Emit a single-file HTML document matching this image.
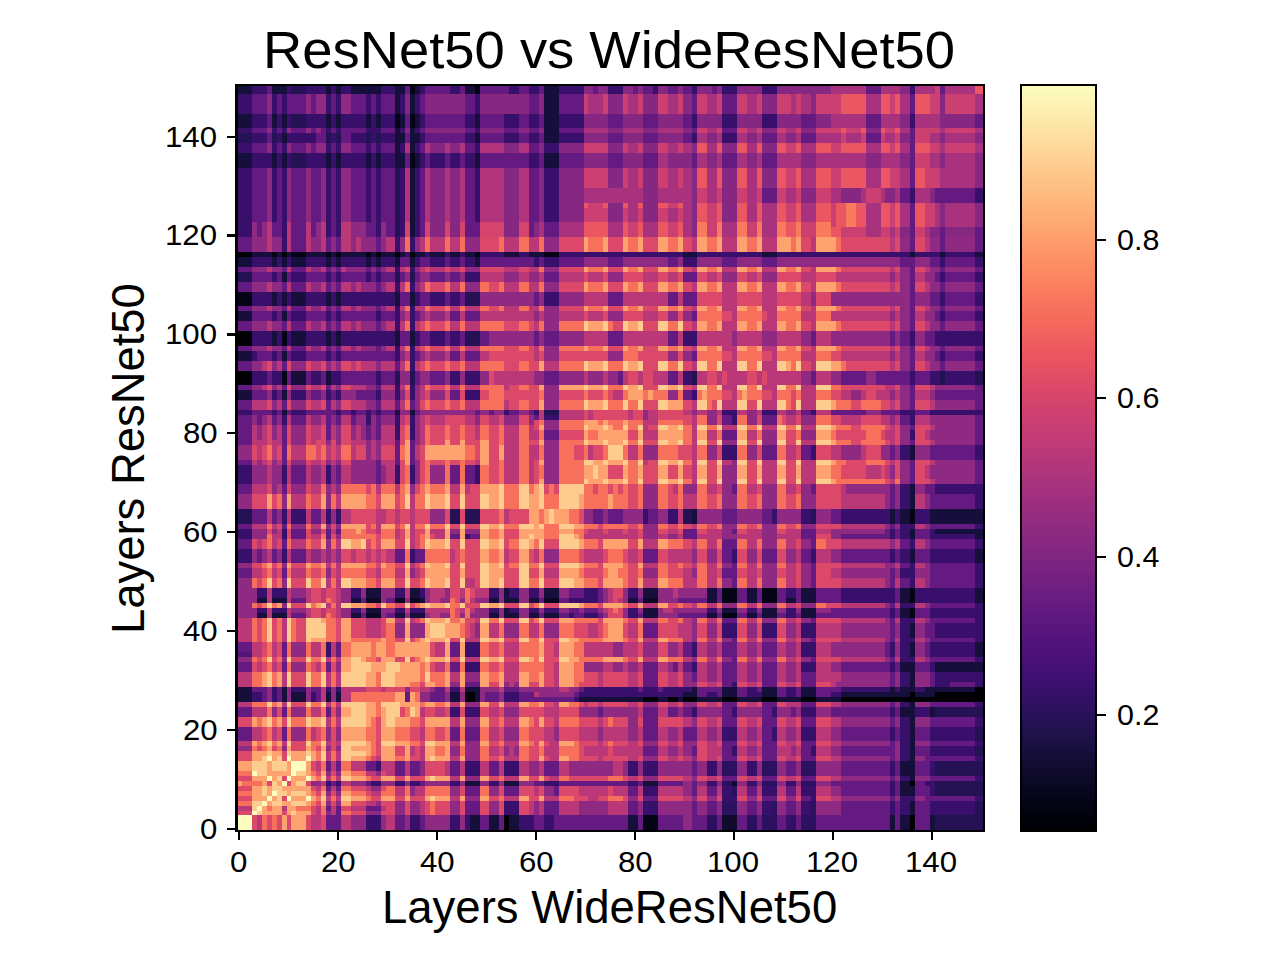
<!DOCTYPE html><html><head><meta charset="utf-8"><style>
html,body{margin:0;padding:0;background:#fff;}
body{width:1280px;height:960px;position:relative;overflow:hidden;font-family:"Liberation Sans",sans-serif;color:#000;}
.t{position:absolute;white-space:nowrap;line-height:1;}
.heat{position:absolute;display:block;}
.k{position:absolute;background:#000;}
</style></head><body><div style="position:absolute;left:236.50px;top:84.30px;width:747.50px;height:746.30px;overflow:hidden"><svg class="heat" style="left:0;top:0;width:747.50px;height:746.30px" viewBox="0 0 151 151" preserveAspectRatio="none" shape-rendering="crispEdges"><g stroke-width="1" fill="none"><path stroke="#000004" d="M54 150.5h1M136 150.5h1M54 149.5h1M136 149.5h1M54 148.5h1M136 148.5h1M136 141.5h1M46 124.5h2M82 124.5h3M87 124.5h2M90 124.5h3M98 124.5h3M106 124.5h3M114 124.5h3M122 124.5h29M46 123.5h2M136 123.5h1M141 123.5h10M149 122.5h2M0 60.5h3M0 59.5h3M0 58.5h3M0 52.5h3M0 51.5h3M0 50.5h3M0 34.5h3M9 34.5h1M32 34.5h1M35 34.5h1"/><path stroke="#050416" d="M82 150.5h3M82 149.5h3M82 148.5h3M98 107.5h3M136 107.5h1M136 106.5h1M98 104.5h3M106 104.5h3M136 104.5h1M98 103.5h3M106 103.5h3M136 103.5h1M98 102.5h3M106 102.5h3M136 102.5h1M136 88.5h1M136 87.5h1M136 86.5h1M9 60.5h1M9 59.5h1M9 58.5h1M9 52.5h1M9 51.5h1M9 50.5h1M0 44.5h3M0 43.5h3M0 42.5h3M7 34.5h1M11 34.5h3M18 34.5h1M20 34.5h1M26 34.5h1M28 34.5h1M48 34.5h1M62 34.5h3M35 16.5h1M35 15.5h1M35 14.5h1M32 8.5h1M35 8.5h1M32 7.5h1M35 7.5h1M32 6.5h1M35 6.5h1M35 1.5h1M48 1.5h1M35 0.5h1M48 0.5h1"/><path stroke="#0a0822" d="M26 107.5h3M26 104.5h3M32 104.5h2M35 104.5h2M62 104.5h3M82 104.5h3"/><path stroke="#100b2d" d="M98 150.5h3M98 149.5h3M98 148.5h3M100 141.5h1"/><path stroke="#160f3b" d="M47 150.5h2M51 150.5h2M55 150.5h2M79 150.5h2M132 150.5h1M134 150.5h2M140 150.5h1M47 149.5h2M51 149.5h2M55 149.5h2M79 149.5h2M132 149.5h1M134 149.5h2M140 149.5h1M47 148.5h2M51 148.5h2M55 148.5h2M79 148.5h2M132 148.5h1M134 148.5h2M140 148.5h1M136 147.5h1M136 146.5h1M136 145.5h1M134 143.5h3M134 142.5h3M46 141.5h3M54 141.5h3M82 141.5h3M134 141.5h2M136 140.5h1M134 139.5h3M134 138.5h3M134 137.5h3M136 136.5h1M136 135.5h1M136 134.5h1M136 133.5h1M136 132.5h1M136 131.5h1M136 130.5h1M136 129.5h1M136 128.5h1M134 127.5h3M140 127.5h1M134 126.5h3M140 126.5h1M136 125.5h1M0 124.5h3M9 124.5h1M11 124.5h3M18 124.5h1M20 124.5h1M43 124.5h2M48 124.5h1M69 124.5h13M85 124.5h2M89 124.5h1M93 124.5h5M101 124.5h5M109 124.5h5M117 124.5h5M0 123.5h3M9 123.5h1M11 123.5h3M18 123.5h1M20 123.5h1M43 123.5h2M48 123.5h1M90 123.5h3M98 123.5h3M106 123.5h3M114 123.5h3M122 123.5h14M137 123.5h4M0 122.5h3M9 122.5h1M46 122.5h3M92 122.5h1M98 122.5h3M106 122.5h3M114 122.5h3M132 122.5h1M134 122.5h3M139 122.5h10M136 121.5h1M136 120.5h1M136 119.5h1M134 118.5h3M141 118.5h10M134 117.5h3M141 117.5h10M136 115.5h1M149 115.5h2M136 114.5h1M149 114.5h2M136 113.5h1M149 113.5h2M136 111.5h1M136 110.5h1M136 109.5h1M4 107.5h2M7 107.5h3M23 107.5h2M32 107.5h2M35 107.5h3M51 107.5h2M54 107.5h3M59 107.5h2M62 107.5h3M82 107.5h3M95 107.5h2M103 107.5h2M106 107.5h3M114 107.5h3M134 107.5h2M26 106.5h3M54 106.5h1M82 106.5h3M98 106.5h3M106 106.5h3M114 106.5h3M134 106.5h2M4 104.5h2M7 104.5h3M23 104.5h2M37 104.5h1M51 104.5h2M54 104.5h3M59 104.5h2M79 104.5h2M95 104.5h2M103 104.5h2M111 104.5h2M114 104.5h3M134 104.5h2M149 104.5h2M26 103.5h3M35 103.5h2M54 103.5h1M62 103.5h3M82 103.5h3M95 103.5h2M103 103.5h2M114 103.5h3M134 103.5h2M149 103.5h2M26 102.5h3M35 102.5h2M54 102.5h1M62 102.5h3M82 102.5h3M95 102.5h2M103 102.5h2M114 102.5h3M134 102.5h2M149 102.5h2M136 96.5h1M149 96.5h2M136 95.5h1M149 95.5h2M136 94.5h1M149 94.5h2M136 91.5h1M149 91.5h2M136 90.5h1M141 90.5h10M92 88.5h1M132 88.5h1M134 88.5h2M140 88.5h11M92 87.5h1M132 87.5h1M134 87.5h2M140 87.5h11M92 86.5h1M132 86.5h1M134 86.5h2M140 86.5h11M136 85.5h1M136 84.5h1M136 83.5h1M136 82.5h1M136 81.5h1M136 75.5h1M136 74.5h1M136 73.5h1M9 66.5h1M32 66.5h1M35 66.5h1M0 63.5h3M9 63.5h1M0 62.5h3M9 62.5h1M11 60.5h3M18 60.5h1M11 59.5h3M18 59.5h1M11 58.5h3M18 58.5h1M0 55.5h3M9 55.5h1M0 54.5h3M9 54.5h1M7 52.5h1M11 52.5h3M18 52.5h1M20 52.5h1M32 52.5h1M35 52.5h1M7 51.5h1M11 51.5h3M18 51.5h1M20 51.5h1M32 51.5h1M35 51.5h1M7 50.5h1M11 50.5h3M18 50.5h1M20 50.5h1M32 50.5h1M35 50.5h1M0 47.5h3M9 47.5h1M0 46.5h3M9 46.5h1M7 44.5h1M9 44.5h1M11 44.5h3M18 44.5h1M20 44.5h1M32 44.5h1M35 44.5h1M7 43.5h1M9 43.5h1M11 43.5h3M18 43.5h1M20 43.5h1M32 43.5h1M35 43.5h1M7 42.5h1M9 42.5h1M11 42.5h3M18 42.5h1M20 42.5h1M32 42.5h1M35 42.5h1M9 39.5h1M9 38.5h1M0 36.5h3M7 36.5h1M9 36.5h1M11 36.5h3M18 36.5h1M20 36.5h1M26 36.5h1M28 36.5h1M32 36.5h1M35 36.5h1M48 36.5h1M0 35.5h3M7 35.5h1M9 35.5h1M11 35.5h3M18 35.5h1M20 35.5h1M26 35.5h1M28 35.5h1M32 35.5h1M35 35.5h1M48 35.5h1M3 34.5h4M8 34.5h1M10 34.5h1M14 34.5h4M19 34.5h1M21 34.5h5M27 34.5h1M29 34.5h3M33 34.5h1M36 34.5h2M39 34.5h3M43 34.5h2M46 34.5h2M54 34.5h3M59 34.5h3M90 34.5h3M106 34.5h3M136 34.5h1M142 34.5h1M149 34.5h2M35 30.5h1M35 29.5h1M35 28.5h1M35 27.5h1M35 26.5h1M35 25.5h1M35 24.5h1M35 23.5h1M35 22.5h1M35 21.5h1M35 20.5h1M35 19.5h1M35 18.5h1M35 17.5h1M0 16.5h3M7 16.5h1M9 16.5h1M18 16.5h1M20 16.5h1M26 16.5h1M28 16.5h1M32 16.5h2M36 16.5h1M48 16.5h1M62 16.5h3M0 15.5h3M7 15.5h1M9 15.5h1M18 15.5h1M20 15.5h1M26 15.5h1M28 15.5h1M32 15.5h2M36 15.5h1M48 15.5h1M62 15.5h3M0 14.5h3M7 14.5h1M9 14.5h1M18 14.5h1M20 14.5h1M26 14.5h1M28 14.5h1M32 14.5h2M36 14.5h1M48 14.5h1M62 14.5h3M32 13.5h1M35 13.5h1M32 12.5h1M35 12.5h1M9 11.5h1M32 11.5h2M35 11.5h2M48 11.5h1M62 11.5h3M9 10.5h1M32 10.5h2M35 10.5h2M48 10.5h1M62 10.5h3M32 9.5h1M35 9.5h1M62 9.5h3M0 8.5h3M7 8.5h1M9 8.5h1M18 8.5h1M20 8.5h1M26 8.5h1M28 8.5h1M33 8.5h1M36 8.5h1M48 8.5h1M62 8.5h3M0 7.5h3M7 7.5h1M9 7.5h1M18 7.5h1M20 7.5h1M26 7.5h1M28 7.5h1M33 7.5h1M36 7.5h1M48 7.5h1M62 7.5h3M0 6.5h3M7 6.5h1M9 6.5h1M18 6.5h1M20 6.5h1M26 6.5h1M28 6.5h1M33 6.5h1M36 6.5h1M48 6.5h1M62 6.5h3M32 5.5h1M35 5.5h1M62 5.5h3M32 4.5h1M35 4.5h1M62 4.5h3M32 3.5h1M35 3.5h1M62 3.5h3M32 2.5h1M35 2.5h1M62 2.5h3M0 1.5h3M7 1.5h3M18 1.5h1M20 1.5h1M23 1.5h6M32 1.5h2M36 1.5h1M46 1.5h2M62 1.5h3M0 0.5h3M7 0.5h3M18 0.5h1M20 0.5h1M23 0.5h6M32 0.5h2M36 0.5h1M46 0.5h2M62 0.5h3"/><path stroke="#251255" d="M141 150.5h10M141 149.5h10M141 148.5h10M149 147.5h2M149 146.5h2M149 145.5h2M141 143.5h10M141 142.5h10M141 141.5h10M141 139.5h10M141 138.5h10M141 137.5h10M149 135.5h2M149 134.5h2M149 132.5h2M149 131.5h2M149 130.5h2M141 127.5h10M141 126.5h10M0 88.5h3M43 88.5h2M46 88.5h3M90 88.5h2M116 88.5h1M0 87.5h3M43 87.5h2M46 87.5h3M90 87.5h2M116 87.5h1M0 86.5h3M43 86.5h2M46 86.5h3M90 86.5h2M116 86.5h1M62 66.5h3M32 60.5h1M35 60.5h1M92 60.5h1M142 60.5h1M149 60.5h2M32 59.5h1M35 59.5h1M92 59.5h1M142 59.5h1M149 59.5h2M32 58.5h1M35 58.5h1M92 58.5h1M142 58.5h1M149 58.5h2M46 52.5h3M46 51.5h3M46 50.5h3M46 44.5h3M46 43.5h3M46 42.5h3M0 39.5h3M32 39.5h1M35 39.5h1M0 38.5h3M32 38.5h1M35 38.5h1M32 30.5h1M32 29.5h1M32 28.5h1M32 27.5h1M32 26.5h1M32 25.5h1M32 24.5h1M32 23.5h1M32 22.5h1M32 21.5h1M32 20.5h1M32 19.5h1M32 18.5h1M32 17.5h1M11 16.5h3M11 15.5h3M11 14.5h3M0 11.5h3M7 11.5h1M18 11.5h1M20 11.5h1M26 11.5h1M28 11.5h1M0 10.5h3M7 10.5h1M18 10.5h1M20 10.5h1M26 10.5h1M28 10.5h1M11 8.5h3M11 7.5h3M11 6.5h3M11 1.5h3M11 0.5h3"/><path stroke="#2d1161" d="M95 150.5h2M103 150.5h2M106 150.5h3M112 150.5h1M114 150.5h3M95 149.5h2M103 149.5h2M106 149.5h3M112 149.5h1M114 149.5h3M95 148.5h2M103 148.5h2M106 148.5h3M112 148.5h1M114 148.5h3M98 147.5h3M108 147.5h1M116 147.5h1M98 146.5h3M108 146.5h1M116 146.5h1M98 145.5h3M108 145.5h1M116 145.5h1M100 143.5h1M100 142.5h1M98 141.5h2M106 141.5h3M114 141.5h3M98 139.5h3M106 139.5h3M114 139.5h3M98 138.5h3M106 138.5h3M114 138.5h3M98 137.5h3M106 137.5h3M114 137.5h3"/><path stroke="#38106c" d="M26 150.5h3M35 150.5h2M43 150.5h2M46 150.5h1M57 150.5h3M62 150.5h2M111 150.5h1M26 149.5h3M35 149.5h2M43 149.5h2M46 149.5h1M57 149.5h3M62 149.5h2M111 149.5h1M26 148.5h3M35 148.5h2M43 148.5h2M46 148.5h1M57 148.5h3M62 148.5h2M111 148.5h1M54 147.5h3M82 147.5h3M106 147.5h2M114 147.5h2M132 147.5h1M134 147.5h2M140 147.5h9M54 146.5h3M82 146.5h3M106 146.5h2M114 146.5h2M132 146.5h1M134 146.5h2M140 146.5h9M54 145.5h3M82 145.5h3M106 145.5h2M114 145.5h2M132 145.5h1M134 145.5h2M140 145.5h9M98 144.5h3M116 144.5h1M134 144.5h3M149 144.5h2M82 143.5h3M98 143.5h2M106 143.5h3M114 143.5h3M132 143.5h1M140 143.5h1M82 142.5h3M98 142.5h2M106 142.5h3M114 142.5h3M132 142.5h1M140 142.5h1M18 141.5h1M20 141.5h1M27 141.5h2M32 141.5h2M35 141.5h2M43 141.5h2M51 141.5h2M62 141.5h3M79 141.5h2M95 141.5h2M103 141.5h2M111 141.5h2M132 141.5h1M139 141.5h2M134 140.5h2M149 140.5h2M46 139.5h3M54 139.5h3M79 139.5h2M82 139.5h3M95 139.5h2M103 139.5h2M132 139.5h1M140 139.5h1M28 138.5h1M46 138.5h3M54 138.5h3M79 138.5h2M82 138.5h3M95 138.5h2M103 138.5h2M132 138.5h1M140 138.5h1M28 137.5h1M46 137.5h3M54 137.5h3M79 137.5h2M82 137.5h3M95 137.5h2M103 137.5h2M132 137.5h1M140 137.5h1M134 136.5h2M149 136.5h2M100 135.5h1M116 135.5h1M134 135.5h2M140 135.5h9M100 134.5h1M116 134.5h1M134 134.5h2M140 134.5h9M134 133.5h2M149 133.5h2M98 132.5h3M108 132.5h1M114 132.5h3M132 132.5h1M134 132.5h2M140 132.5h9M98 131.5h3M108 131.5h1M114 131.5h3M132 131.5h1M134 131.5h2M140 131.5h9M98 130.5h3M108 130.5h1M114 130.5h3M132 130.5h1M134 130.5h2M140 130.5h9M134 129.5h2M149 129.5h2M134 128.5h2M149 128.5h2M43 127.5h2M46 127.5h3M92 127.5h1M100 127.5h1M108 127.5h1M114 127.5h3M132 127.5h1M137 127.5h3M43 126.5h2M46 126.5h3M92 126.5h1M100 126.5h1M108 126.5h1M114 126.5h3M132 126.5h1M137 126.5h3M134 125.5h2M149 125.5h2M3 124.5h2M7 124.5h1M15 124.5h1M54 124.5h3M68 124.5h1M3 123.5h2M7 123.5h1M15 123.5h1M54 123.5h3M69 123.5h21M95 123.5h2M103 123.5h3M111 123.5h2M120 123.5h2M7 122.5h1M11 122.5h3M18 122.5h1M20 122.5h1M43 122.5h2M70 122.5h11M82 122.5h3M86 122.5h6M103 122.5h2M111 122.5h2M122 122.5h10M133 122.5h1M137 122.5h2M100 121.5h1M134 121.5h2M141 121.5h3M149 121.5h2M134 120.5h2M141 120.5h10M134 119.5h2M141 119.5h10M46 118.5h3M92 118.5h1M114 118.5h3M132 118.5h1M140 118.5h1M46 117.5h3M92 117.5h1M114 117.5h3M132 117.5h1M140 117.5h1M134 116.5h3M149 116.5h2M18 115.5h1M46 115.5h3M92 115.5h1M114 115.5h3M132 115.5h1M134 115.5h2M140 115.5h9M18 114.5h1M46 114.5h3M92 114.5h1M114 114.5h3M132 114.5h1M134 114.5h2M140 114.5h9M18 113.5h1M46 113.5h3M92 113.5h1M114 113.5h3M132 113.5h1M134 113.5h2M140 113.5h9M134 112.5h3M149 112.5h2M98 111.5h3M106 111.5h3M114 111.5h3M134 111.5h2M141 111.5h10M98 110.5h3M106 110.5h3M114 110.5h3M134 110.5h2M141 110.5h10M98 109.5h3M106 109.5h3M114 109.5h3M134 109.5h2M141 109.5h10M134 108.5h3M149 108.5h2M67 107.5h1M70 107.5h3M79 107.5h2M111 107.5h2M132 107.5h1M140 107.5h11M4 106.5h2M7 106.5h3M23 106.5h2M32 106.5h2M35 106.5h3M51 106.5h2M55 106.5h2M59 106.5h2M62 106.5h3M79 106.5h2M95 106.5h2M103 106.5h2M111 106.5h2M132 106.5h1M140 106.5h11M134 105.5h3M149 105.5h2M67 104.5h6M122 104.5h11M137 104.5h12M4 103.5h2M7 103.5h3M23 103.5h2M32 103.5h2M37 103.5h1M51 103.5h2M55 103.5h2M59 103.5h2M70 103.5h3M79 103.5h2M111 103.5h2M122 103.5h11M137 103.5h12M4 102.5h2M7 102.5h3M23 102.5h2M32 102.5h2M37 102.5h1M51 102.5h2M55 102.5h2M59 102.5h2M70 102.5h3M79 102.5h2M111 102.5h2M122 102.5h11M137 102.5h12M136 101.5h1M149 101.5h2M136 100.5h1M149 100.5h2M134 99.5h3M149 99.5h2M134 98.5h3M149 98.5h2M136 97.5h1M149 97.5h2M0 96.5h3M9 96.5h1M35 96.5h1M100 96.5h1M116 96.5h1M132 96.5h1M134 96.5h2M140 96.5h9M0 95.5h3M9 95.5h1M35 95.5h1M100 95.5h1M116 95.5h1M132 95.5h1M134 95.5h2M140 95.5h9M0 94.5h3M9 94.5h1M35 94.5h1M100 94.5h1M116 94.5h1M132 94.5h1M134 94.5h2M140 94.5h9M136 93.5h1M149 93.5h2M136 92.5h1M149 92.5h2M0 91.5h3M9 91.5h1M46 91.5h1M132 91.5h1M134 91.5h2M140 91.5h9M0 90.5h3M9 90.5h1M132 90.5h1M134 90.5h2M140 90.5h1M134 89.5h3M149 89.5h2M9 88.5h1M11 88.5h3M18 88.5h1M20 88.5h1M82 88.5h1M87 88.5h2M108 88.5h1M114 88.5h2M122 88.5h10M133 88.5h1M137 88.5h3M9 87.5h1M11 87.5h3M18 87.5h1M20 87.5h1M82 87.5h1M87 87.5h2M108 87.5h1M114 87.5h2M122 87.5h10M133 87.5h1M137 87.5h3M9 86.5h1M11 86.5h3M18 86.5h1M20 86.5h1M82 86.5h1M87 86.5h2M108 86.5h1M114 86.5h2M122 86.5h10M133 86.5h1M137 86.5h3M134 85.5h2M149 85.5h2M134 84.5h2M149 84.5h2M134 83.5h2M149 83.5h2M134 82.5h2M141 82.5h10M134 81.5h2M141 81.5h10M0 80.5h3M9 80.5h1M18 80.5h1M32 80.5h1M35 80.5h1M48 80.5h1M0 79.5h3M9 79.5h1M18 79.5h1M32 79.5h1M35 79.5h1M48 79.5h1M0 78.5h3M9 78.5h1M18 78.5h1M32 78.5h1M35 78.5h1M48 78.5h1M0 77.5h3M9 77.5h1M18 77.5h1M32 77.5h1M35 77.5h1M48 77.5h1M98 75.5h3M116 75.5h1M134 75.5h2M149 75.5h2M98 74.5h3M116 74.5h1M134 74.5h2M149 74.5h2M98 73.5h3M116 73.5h1M134 73.5h2M149 73.5h2M32 71.5h1M35 71.5h1M136 71.5h1M32 70.5h1M35 70.5h1M136 70.5h1M32 69.5h1M35 69.5h1M9 68.5h1M26 68.5h1M32 68.5h1M35 68.5h1M100 68.5h1M136 68.5h1M9 67.5h1M26 67.5h1M32 67.5h1M35 67.5h1M62 67.5h3M100 67.5h1M136 67.5h1M0 66.5h3M7 66.5h1M11 66.5h3M20 66.5h1M23 66.5h1M26 66.5h1M28 66.5h1M54 66.5h1M60 66.5h1M98 66.5h3M106 66.5h3M116 66.5h1M134 66.5h3M140 66.5h11M7 63.5h1M11 63.5h3M18 63.5h1M20 63.5h1M28 63.5h1M32 63.5h1M35 63.5h1M46 63.5h3M92 63.5h1M7 62.5h1M11 62.5h3M18 62.5h1M20 62.5h1M28 62.5h1M32 62.5h1M35 62.5h1M46 62.5h3M92 62.5h1M32 61.5h1M35 61.5h1M3 60.5h3M7 60.5h2M15 60.5h2M19 60.5h2M28 60.5h1M43 60.5h2M46 60.5h3M90 60.5h2M136 60.5h1M140 60.5h2M143 60.5h6M3 59.5h3M7 59.5h2M15 59.5h2M19 59.5h2M28 59.5h1M43 59.5h2M46 59.5h3M90 59.5h2M136 59.5h1M140 59.5h2M143 59.5h6M3 58.5h3M7 58.5h2M15 58.5h2M19 58.5h2M28 58.5h1M43 58.5h2M46 58.5h3M90 58.5h2M136 58.5h1M140 58.5h2M143 58.5h6M35 57.5h1M35 56.5h1M3 55.5h1M7 55.5h1M11 55.5h3M18 55.5h1M20 55.5h1M32 55.5h1M35 55.5h1M142 55.5h1M149 55.5h2M3 54.5h1M7 54.5h1M11 54.5h3M18 54.5h1M20 54.5h1M32 54.5h1M35 54.5h1M142 54.5h1M149 54.5h2M32 53.5h1M35 53.5h1M3 52.5h4M8 52.5h1M10 52.5h1M14 52.5h4M19 52.5h1M21 52.5h11M36 52.5h1M39 52.5h3M43 52.5h2M90 52.5h3M136 52.5h1M141 52.5h10M3 51.5h4M8 51.5h1M10 51.5h1M14 51.5h4M19 51.5h1M21 51.5h11M36 51.5h1M39 51.5h3M43 51.5h2M90 51.5h3M136 51.5h1M141 51.5h10M3 50.5h4M8 50.5h1M10 50.5h1M14 50.5h4M19 50.5h1M21 50.5h11M36 50.5h1M39 50.5h3M43 50.5h2M90 50.5h3M136 50.5h1M141 50.5h10M32 49.5h1M35 49.5h1M32 48.5h1M35 48.5h1M7 47.5h1M11 47.5h3M18 47.5h1M20 47.5h1M28 47.5h1M32 47.5h1M35 47.5h1M142 47.5h1M149 47.5h2M7 46.5h1M11 46.5h3M18 46.5h1M20 46.5h1M28 46.5h1M32 46.5h1M35 46.5h1M142 46.5h1M149 46.5h2M32 45.5h1M35 45.5h1M3 44.5h4M8 44.5h1M10 44.5h1M14 44.5h4M19 44.5h1M21 44.5h11M36 44.5h1M39 44.5h3M43 44.5h2M62 44.5h3M142 44.5h1M149 44.5h2M3 43.5h4M8 43.5h1M10 43.5h1M14 43.5h4M19 43.5h1M21 43.5h11M36 43.5h1M39 43.5h3M43 43.5h2M62 43.5h3M142 43.5h1M149 43.5h2M3 42.5h4M8 42.5h1M10 42.5h1M14 42.5h4M19 42.5h1M21 42.5h11M36 42.5h1M39 42.5h3M43 42.5h2M62 42.5h3M142 42.5h1M149 42.5h2M32 41.5h1M35 41.5h1M32 40.5h1M35 40.5h1M7 39.5h1M11 39.5h3M18 39.5h1M20 39.5h1M26 39.5h1M28 39.5h1M46 39.5h3M142 39.5h1M149 39.5h2M7 38.5h1M11 38.5h3M18 38.5h1M20 38.5h1M26 38.5h1M28 38.5h1M46 38.5h3M142 38.5h1M149 38.5h2M32 37.5h1M35 37.5h1M3 36.5h4M8 36.5h1M10 36.5h1M14 36.5h4M19 36.5h1M21 36.5h5M27 36.5h1M29 36.5h3M36 36.5h1M39 36.5h3M43 36.5h2M46 36.5h2M60 36.5h1M62 36.5h3M90 36.5h3M142 36.5h1M149 36.5h2M3 35.5h4M8 35.5h1M10 35.5h1M14 35.5h4M19 35.5h1M21 35.5h5M27 35.5h1M29 35.5h3M36 35.5h1M39 35.5h3M43 35.5h2M46 35.5h2M60 35.5h1M62 35.5h3M90 35.5h3M142 35.5h1M149 35.5h2M34 34.5h1M38 34.5h1M42 34.5h1M45 34.5h1M49 34.5h5M57 34.5h2M65 34.5h25M93 34.5h13M109 34.5h27M137 34.5h5M143 34.5h6M9 33.5h1M32 33.5h1M35 33.5h1M9 32.5h1M32 32.5h1M35 32.5h1M9 31.5h1M32 31.5h1M35 31.5h1M0 30.5h3M9 30.5h1M18 30.5h1M20 30.5h1M28 30.5h1M33 30.5h1M36 30.5h1M0 29.5h3M9 29.5h1M18 29.5h1M20 29.5h1M28 29.5h1M33 29.5h1M36 29.5h1M0 28.5h3M9 28.5h1M18 28.5h1M20 28.5h1M28 28.5h1M33 28.5h1M36 28.5h1M0 27.5h3M7 27.5h1M9 27.5h1M18 27.5h1M20 27.5h1M26 27.5h1M28 27.5h1M33 27.5h1M36 27.5h1M48 27.5h1M62 27.5h3M0 26.5h3M7 26.5h1M9 26.5h1M18 26.5h1M20 26.5h1M26 26.5h1M28 26.5h1M33 26.5h1M36 26.5h1M48 26.5h1M62 26.5h3M0 25.5h3M7 25.5h1M9 25.5h1M18 25.5h1M20 25.5h1M26 25.5h1M28 25.5h1M33 25.5h1M36 25.5h1M48 25.5h1M62 25.5h3M0 24.5h3M7 24.5h1M9 24.5h1M18 24.5h1M20 24.5h1M26 24.5h1M28 24.5h1M33 24.5h1M36 24.5h1M48 24.5h1M62 24.5h3M0 23.5h3M7 23.5h1M9 23.5h1M18 23.5h1M20 23.5h1M26 23.5h1M28 23.5h1M33 23.5h1M36 23.5h1M48 23.5h1M62 23.5h3M136 23.5h1M149 23.5h2M0 22.5h3M7 22.5h1M9 22.5h1M18 22.5h1M20 22.5h1M26 22.5h1M28 22.5h1M33 22.5h1M36 22.5h1M48 22.5h1M62 22.5h3M136 22.5h1M149 22.5h2M0 21.5h3M7 21.5h1M9 21.5h1M18 21.5h1M20 21.5h1M26 21.5h1M28 21.5h1M33 21.5h1M36 21.5h1M48 21.5h1M62 21.5h3M136 21.5h1M149 21.5h2M0 20.5h3M7 20.5h1M9 20.5h1M18 20.5h1M20 20.5h1M26 20.5h1M28 20.5h1M33 20.5h1M36 20.5h1M48 20.5h1M62 20.5h3M0 19.5h3M7 19.5h1M9 19.5h1M18 19.5h1M20 19.5h1M26 19.5h1M28 19.5h1M33 19.5h1M36 19.5h1M48 19.5h1M62 19.5h3M0 18.5h3M7 18.5h1M9 18.5h1M18 18.5h1M20 18.5h1M26 18.5h1M28 18.5h1M33 18.5h1M36 18.5h1M48 18.5h1M62 18.5h3M0 17.5h3M7 17.5h1M9 17.5h1M18 17.5h1M20 17.5h1M26 17.5h1M28 17.5h1M33 17.5h1M36 17.5h1M48 17.5h1M62 17.5h3M3 16.5h4M8 16.5h1M10 16.5h1M14 16.5h4M19 16.5h1M21 16.5h5M27 16.5h1M29 16.5h3M37 16.5h1M39 16.5h3M43 16.5h2M46 16.5h2M59 16.5h2M3 15.5h4M8 15.5h1M10 15.5h1M14 15.5h4M19 15.5h1M21 15.5h5M27 15.5h1M29 15.5h3M37 15.5h1M39 15.5h3M43 15.5h2M46 15.5h2M59 15.5h2M3 14.5h4M8 14.5h1M10 14.5h1M14 14.5h4M19 14.5h1M21 14.5h5M27 14.5h1M29 14.5h3M37 14.5h1M39 14.5h3M43 14.5h2M46 14.5h2M59 14.5h2M0 13.5h3M7 13.5h1M9 13.5h1M18 13.5h1M20 13.5h1M26 13.5h1M28 13.5h1M33 13.5h1M36 13.5h1M48 13.5h1M62 13.5h3M0 12.5h3M7 12.5h1M9 12.5h1M18 12.5h1M20 12.5h1M26 12.5h1M28 12.5h1M33 12.5h1M36 12.5h1M48 12.5h1M62 12.5h3M3 11.5h3M8 11.5h1M10 11.5h6M19 11.5h1M23 11.5h3M27 11.5h1M29 11.5h3M37 11.5h1M46 11.5h2M54 11.5h3M59 11.5h2M65 11.5h5M92 11.5h1M98 11.5h3M3 10.5h3M8 10.5h1M10 10.5h6M19 10.5h1M23 10.5h3M27 10.5h1M29 10.5h3M37 10.5h1M46 10.5h2M54 10.5h3M59 10.5h2M65 10.5h5M92 10.5h1M98 10.5h3M0 9.5h3M7 9.5h1M9 9.5h1M18 9.5h1M20 9.5h1M26 9.5h3M33 9.5h1M36 9.5h1M48 9.5h1M3 8.5h3M8 8.5h1M10 8.5h1M14 8.5h4M19 8.5h1M21 8.5h5M27 8.5h1M29 8.5h3M37 8.5h1M46 8.5h2M54 8.5h3M59 8.5h2M65 8.5h5M92 8.5h1M98 8.5h3M106 8.5h3M136 8.5h1M3 7.5h3M8 7.5h1M10 7.5h1M14 7.5h4M19 7.5h1M21 7.5h5M27 7.5h1M29 7.5h3M37 7.5h1M46 7.5h2M54 7.5h3M59 7.5h2M65 7.5h5M92 7.5h1M98 7.5h3M106 7.5h3M136 7.5h1M3 6.5h3M8 6.5h1M10 6.5h1M14 6.5h4M19 6.5h1M21 6.5h5M27 6.5h1M29 6.5h3M37 6.5h1M46 6.5h2M54 6.5h3M59 6.5h2M65 6.5h5M92 6.5h1M98 6.5h3M106 6.5h3M136 6.5h1M0 5.5h3M7 5.5h1M9 5.5h1M18 5.5h1M20 5.5h1M26 5.5h1M28 5.5h1M33 5.5h1M36 5.5h1M48 5.5h1M0 4.5h3M7 4.5h1M9 4.5h1M18 4.5h1M20 4.5h1M26 4.5h1M28 4.5h1M33 4.5h1M36 4.5h1M48 4.5h1M0 3.5h3M7 3.5h1M9 3.5h1M18 3.5h1M20 3.5h1M26 3.5h1M28 3.5h1M33 3.5h1M36 3.5h1M48 3.5h1M0 2.5h3M7 2.5h1M9 2.5h1M18 2.5h1M20 2.5h1M26 2.5h1M28 2.5h1M33 2.5h1M36 2.5h1M48 2.5h1M3 1.5h3M10 1.5h1M14 1.5h4M19 1.5h1M21 1.5h2M29 1.5h3M37 1.5h1M43 1.5h2M55 1.5h2M59 1.5h2M65 1.5h5M75 1.5h3M84 1.5h1M92 1.5h1M98 1.5h3M106 1.5h3M136 1.5h1M3 0.5h3M10 0.5h1M14 0.5h4M19 0.5h1M21 0.5h2M29 0.5h3M37 0.5h1M43 0.5h2M55 0.5h2M59 0.5h2M65 0.5h5M75 0.5h3M84 0.5h1M92 0.5h1M98 0.5h3M106 0.5h3M136 0.5h1"/><path stroke="#52137c" d="M0 115.5h3"/><path stroke="#641a80" d="M18 150.5h3M32 150.5h2M37 150.5h1M49 150.5h2M53 150.5h1M60 150.5h2M64 150.5h15M81 150.5h1M85 150.5h5M92 150.5h3M97 150.5h1M101 150.5h2M105 150.5h1M109 150.5h2M113 150.5h1M117 150.5h15M133 150.5h1M137 150.5h3M18 149.5h3M32 149.5h2M37 149.5h1M49 149.5h2M53 149.5h1M60 149.5h2M64 149.5h15M81 149.5h1M85 149.5h5M92 149.5h3M97 149.5h1M101 149.5h2M105 149.5h1M109 149.5h2M113 149.5h1M117 149.5h15M133 149.5h1M137 149.5h3M18 148.5h3M32 148.5h2M37 148.5h1M49 148.5h2M53 148.5h1M60 148.5h2M64 148.5h15M81 148.5h1M85 148.5h5M92 148.5h3M97 148.5h1M101 148.5h2M105 148.5h1M109 148.5h2M113 148.5h1M117 148.5h15M133 148.5h1M137 148.5h3M20 147.5h1M46 147.5h3M62 147.5h3M79 147.5h2M92 147.5h1M95 147.5h2M103 147.5h2M111 147.5h2M122 147.5h10M133 147.5h1M137 147.5h3M18 146.5h1M20 146.5h1M26 146.5h3M46 146.5h3M62 146.5h3M79 146.5h2M92 146.5h1M95 146.5h2M103 146.5h2M111 146.5h2M122 146.5h10M133 146.5h1M137 146.5h3M46 145.5h3M62 145.5h3M79 145.5h2M92 145.5h1M95 145.5h2M103 145.5h2M111 145.5h2M122 145.5h10M133 145.5h1M137 145.5h3M82 144.5h3M106 144.5h3M114 144.5h2M132 144.5h1M139 144.5h10M46 143.5h3M54 143.5h3M64 143.5h1M79 143.5h2M92 143.5h1M95 143.5h2M103 143.5h2M111 143.5h2M122 143.5h10M133 143.5h1M137 143.5h3M18 142.5h1M20 142.5h1M46 142.5h3M54 142.5h3M64 142.5h1M79 142.5h2M92 142.5h1M95 142.5h2M103 142.5h2M111 142.5h2M122 142.5h10M133 142.5h1M137 142.5h3M19 141.5h1M26 141.5h1M37 141.5h1M60 141.5h2M65 141.5h14M81 141.5h1M85 141.5h5M92 141.5h1M120 141.5h12M133 141.5h1M137 141.5h2M98 140.5h3M106 140.5h3M114 140.5h3M132 140.5h1M140 140.5h9M32 139.5h2M35 139.5h2M43 139.5h2M51 139.5h2M62 139.5h3M92 139.5h1M111 139.5h2M122 139.5h10M133 139.5h1M137 139.5h3M18 138.5h1M20 138.5h1M26 138.5h2M32 138.5h2M35 138.5h2M43 138.5h2M51 138.5h2M62 138.5h3M92 138.5h1M111 138.5h2M122 138.5h10M133 138.5h1M137 138.5h3M18 137.5h1M20 137.5h1M26 137.5h2M32 137.5h2M35 137.5h2M43 137.5h2M51 137.5h2M62 137.5h3M92 137.5h1M111 137.5h2M122 137.5h10M133 137.5h1M137 137.5h3M98 136.5h3M106 136.5h3M114 136.5h3M132 136.5h1M139 136.5h10M82 135.5h3M92 135.5h1M98 135.5h2M106 135.5h3M114 135.5h2M122 135.5h11M137 135.5h3M82 134.5h3M92 134.5h1M98 134.5h2M106 134.5h3M114 134.5h2M122 134.5h11M137 134.5h3M98 133.5h3M106 133.5h3M114 133.5h3M132 133.5h1M140 133.5h9M0 132.5h3M9 132.5h1M43 132.5h2M46 132.5h3M82 132.5h3M90 132.5h3M106 132.5h2M122 132.5h10M133 132.5h1M137 132.5h3M0 131.5h3M9 131.5h1M43 131.5h2M46 131.5h3M82 131.5h3M90 131.5h3M106 131.5h2M122 131.5h10M133 131.5h1M137 131.5h3M0 130.5h3M9 130.5h1M43 130.5h2M46 130.5h3M82 130.5h3M90 130.5h3M106 130.5h2M122 130.5h10M133 130.5h1M137 130.5h3M82 129.5h3M98 129.5h3M106 129.5h3M114 129.5h3M132 129.5h1M140 129.5h9M82 128.5h3M98 128.5h3M106 128.5h3M114 128.5h3M132 128.5h1M140 128.5h9M0 127.5h3M9 127.5h1M18 127.5h1M73 127.5h1M82 127.5h3M87 127.5h2M90 127.5h2M98 127.5h2M106 127.5h2M112 127.5h1M120 127.5h12M133 127.5h1M0 126.5h3M9 126.5h1M18 126.5h1M73 126.5h1M82 126.5h3M87 126.5h2M90 126.5h2M98 126.5h2M106 126.5h2M112 126.5h1M120 126.5h12M133 126.5h1M98 125.5h3M106 125.5h3M114 125.5h3M132 125.5h1M140 125.5h9M5 124.5h1M8 124.5h1M16 124.5h1M34 124.5h1M39 124.5h3M50 124.5h3M57 124.5h11M5 123.5h1M8 123.5h1M16 123.5h1M34 123.5h1M39 123.5h3M50 123.5h3M57 123.5h3M68 123.5h1M93 123.5h2M97 123.5h1M101 123.5h2M109 123.5h2M113 123.5h1M117 123.5h3M3 122.5h3M8 122.5h1M15 122.5h2M40 122.5h2M54 122.5h3M69 122.5h1M81 122.5h1M85 122.5h1M93 122.5h5M101 122.5h2M105 122.5h1M109 122.5h2M113 122.5h1M117 122.5h5M46 121.5h3M82 121.5h3M98 121.5h2M106 121.5h3M114 121.5h3M132 121.5h1M140 121.5h1M144 121.5h5M82 120.5h3M92 120.5h1M98 120.5h3M106 120.5h3M114 120.5h3M132 120.5h1M140 120.5h1M82 119.5h3M92 119.5h1M98 119.5h3M106 119.5h3M114 119.5h3M132 119.5h1M140 119.5h1M0 118.5h3M9 118.5h1M18 118.5h1M43 118.5h2M82 118.5h3M88 118.5h1M90 118.5h2M98 118.5h3M106 118.5h3M122 118.5h10M133 118.5h1M137 118.5h3M0 117.5h3M9 117.5h1M18 117.5h1M43 117.5h2M82 117.5h3M88 117.5h1M90 117.5h2M98 117.5h3M106 117.5h3M122 117.5h10M133 117.5h1M137 117.5h3M100 116.5h1M116 116.5h1M132 116.5h1M140 116.5h9M9 115.5h1M20 115.5h1M43 115.5h2M90 115.5h2M98 115.5h3M106 115.5h3M131 115.5h1M139 115.5h1M0 114.5h3M9 114.5h1M20 114.5h1M43 114.5h2M90 114.5h2M98 114.5h3M106 114.5h3M131 114.5h1M139 114.5h1M0 113.5h3M9 113.5h1M20 113.5h1M43 113.5h2M90 113.5h2M98 113.5h3M106 113.5h3M131 113.5h1M139 113.5h1M100 112.5h1M116 112.5h1M132 112.5h1M140 112.5h9M82 111.5h3M132 111.5h1M139 111.5h2M82 110.5h3M132 110.5h1M139 110.5h2M82 109.5h3M132 109.5h1M139 109.5h2M98 108.5h3M116 108.5h1M132 108.5h1M140 108.5h9M11 107.5h3M25 107.5h1M30 107.5h2M61 107.5h1M65 107.5h2M68 107.5h2M73 107.5h1M81 107.5h1M89 107.5h6M97 107.5h1M101 107.5h2M105 107.5h1M109 107.5h2M113 107.5h1M117 107.5h15M133 107.5h1M137 107.5h3M67 106.5h2M70 106.5h3M120 106.5h12M133 106.5h1M137 106.5h3M132 105.5h1M140 105.5h9M11 104.5h3M25 104.5h1M30 104.5h2M61 104.5h1M65 104.5h2M73 104.5h1M81 104.5h1M89 104.5h6M97 104.5h1M101 104.5h2M105 104.5h1M109 104.5h2M113 104.5h1M117 104.5h5M133 104.5h1M67 103.5h3M73 103.5h1M97 103.5h1M101 103.5h2M105 103.5h1M109 103.5h2M113 103.5h1M117 103.5h5M133 103.5h1M67 102.5h3M73 102.5h1M97 102.5h1M101 102.5h2M105 102.5h1M109 102.5h2M113 102.5h1M117 102.5h5M133 102.5h1M100 101.5h1M116 101.5h1M132 101.5h1M134 101.5h2M140 101.5h9M100 100.5h1M116 100.5h1M132 100.5h1M134 100.5h2M140 100.5h9M0 99.5h3M9 99.5h1M98 99.5h3M116 99.5h1M132 99.5h1M140 99.5h9M0 98.5h3M9 98.5h1M98 98.5h3M116 98.5h1M132 98.5h1M140 98.5h9M100 97.5h1M116 97.5h1M134 97.5h2M140 97.5h9M4 96.5h1M7 96.5h1M11 96.5h3M32 96.5h2M36 96.5h2M82 96.5h3M98 96.5h2M106 96.5h3M114 96.5h2M122 96.5h10M133 96.5h1M137 96.5h3M4 95.5h1M7 95.5h1M11 95.5h3M32 95.5h2M36 95.5h2M82 95.5h3M98 95.5h2M106 95.5h3M114 95.5h2M122 95.5h10M133 95.5h1M137 95.5h3M4 94.5h1M7 94.5h1M11 94.5h3M32 94.5h2M36 94.5h2M82 94.5h3M98 94.5h2M106 94.5h3M114 94.5h2M122 94.5h10M133 94.5h1M137 94.5h3M0 93.5h3M9 93.5h1M98 93.5h3M116 93.5h1M134 93.5h2M140 93.5h9M0 92.5h3M9 92.5h1M98 92.5h3M116 92.5h1M134 92.5h2M140 92.5h9M11 91.5h3M18 91.5h1M43 91.5h2M47 91.5h2M90 91.5h3M114 91.5h3M122 91.5h10M133 91.5h1M137 91.5h3M11 90.5h3M18 90.5h1M20 90.5h1M90 90.5h3M100 90.5h1M114 90.5h3M131 90.5h1M133 90.5h1M137 90.5h3M0 89.5h3M9 89.5h1M132 89.5h1M140 89.5h9M3 88.5h3M7 88.5h1M15 88.5h2M72 88.5h2M75 88.5h3M83 88.5h2M98 88.5h3M106 88.5h2M120 88.5h2M3 87.5h3M7 87.5h1M15 87.5h2M72 87.5h2M75 87.5h3M83 87.5h2M98 87.5h3M106 87.5h2M120 87.5h2M3 86.5h3M7 86.5h1M15 86.5h2M72 86.5h2M75 86.5h3M83 86.5h2M98 86.5h3M106 86.5h2M120 86.5h2M132 85.5h1M140 85.5h9M132 84.5h1M140 84.5h9M132 83.5h1M140 83.5h9M0 82.5h3M9 82.5h1M100 82.5h1M116 82.5h1M132 82.5h1M139 82.5h2M0 81.5h3M9 81.5h1M100 81.5h1M116 81.5h1M132 81.5h1M139 81.5h2M11 80.5h3M20 80.5h1M28 80.5h1M43 80.5h2M46 80.5h2M136 80.5h1M149 80.5h2M11 79.5h3M20 79.5h1M28 79.5h1M43 79.5h2M46 79.5h2M136 79.5h1M149 79.5h2M11 78.5h3M20 78.5h1M28 78.5h1M43 78.5h2M46 78.5h2M136 78.5h1M149 78.5h2M11 77.5h3M20 77.5h1M28 77.5h1M43 77.5h2M46 77.5h2M136 77.5h1M149 77.5h2M0 76.5h3M9 76.5h1M28 76.5h1M32 76.5h1M35 76.5h1M136 76.5h1M149 76.5h2M9 75.5h1M32 75.5h1M35 75.5h1M106 75.5h3M114 75.5h2M132 75.5h1M140 75.5h9M9 74.5h1M32 74.5h1M35 74.5h1M106 74.5h3M114 74.5h2M132 74.5h1M140 74.5h9M9 73.5h1M32 73.5h1M35 73.5h1M106 73.5h3M114 73.5h2M132 73.5h1M140 73.5h9M0 72.5h3M9 72.5h1M32 72.5h1M35 72.5h1M136 72.5h1M149 72.5h2M0 71.5h3M9 71.5h1M18 71.5h1M26 71.5h1M28 71.5h1M62 71.5h3M98 71.5h3M149 71.5h2M0 70.5h3M9 70.5h1M18 70.5h1M26 70.5h1M28 70.5h1M62 70.5h3M98 70.5h3M149 70.5h2M0 69.5h3M9 69.5h1M18 69.5h1M26 69.5h1M28 69.5h1M136 69.5h1M149 69.5h2M0 68.5h3M4 68.5h1M7 68.5h1M11 68.5h3M18 68.5h1M20 68.5h1M23 68.5h1M28 68.5h1M98 68.5h2M106 68.5h3M134 68.5h2M149 68.5h2M0 67.5h3M4 67.5h1M7 67.5h1M11 67.5h3M18 67.5h1M20 67.5h1M23 67.5h1M28 67.5h1M60 67.5h1M98 67.5h2M106 67.5h3M134 67.5h2M149 67.5h2M3 66.5h4M8 66.5h1M10 66.5h1M14 66.5h6M21 66.5h2M24 66.5h2M27 66.5h1M29 66.5h3M36 66.5h1M48 66.5h1M51 66.5h1M55 66.5h2M59 66.5h1M114 66.5h2M120 66.5h7M130 66.5h4M137 66.5h3M0 65.5h3M9 65.5h1M18 65.5h1M28 65.5h1M32 65.5h1M35 65.5h1M136 65.5h1M149 65.5h2M0 64.5h3M9 64.5h1M18 64.5h1M28 64.5h1M32 64.5h1M35 64.5h1M136 64.5h1M149 64.5h2M3 63.5h3M8 63.5h1M15 63.5h2M19 63.5h1M24 63.5h4M43 63.5h2M90 63.5h2M136 63.5h1M141 63.5h10M3 62.5h3M8 62.5h1M15 62.5h2M19 62.5h1M24 62.5h4M43 62.5h2M90 62.5h2M136 62.5h1M141 62.5h10M0 61.5h3M9 61.5h1M18 61.5h1M28 61.5h1M136 61.5h1M149 61.5h2M6 60.5h1M10 60.5h1M14 60.5h1M17 60.5h1M21 60.5h7M29 60.5h3M36 60.5h1M39 60.5h3M62 60.5h3M77 60.5h1M87 60.5h2M116 60.5h1M122 60.5h5M129 60.5h7M137 60.5h3M6 59.5h1M10 59.5h1M14 59.5h1M17 59.5h1M21 59.5h7M29 59.5h3M36 59.5h1M39 59.5h3M62 59.5h3M77 59.5h1M87 59.5h2M116 59.5h1M122 59.5h5M129 59.5h7M137 59.5h3M6 58.5h1M10 58.5h1M14 58.5h1M17 58.5h1M21 58.5h7M29 58.5h3M36 58.5h1M39 58.5h3M62 58.5h3M77 58.5h1M87 58.5h2M116 58.5h1M122 58.5h5M129 58.5h7M137 58.5h3M0 57.5h3M9 57.5h1M32 57.5h1M136 57.5h1M142 57.5h1M149 57.5h2M0 56.5h3M9 56.5h1M32 56.5h1M136 56.5h1M142 56.5h1M149 56.5h2M4 55.5h3M8 55.5h1M10 55.5h1M14 55.5h4M19 55.5h1M21 55.5h11M36 55.5h1M43 55.5h2M46 55.5h3M92 55.5h1M136 55.5h1M141 55.5h1M143 55.5h6M4 54.5h3M8 54.5h1M10 54.5h1M14 54.5h4M19 54.5h1M21 54.5h11M36 54.5h1M43 54.5h2M46 54.5h3M92 54.5h1M136 54.5h1M141 54.5h1M143 54.5h6M0 53.5h3M9 53.5h1M11 53.5h3M18 53.5h1M20 53.5h1M28 53.5h1M136 53.5h1M142 53.5h1M149 53.5h2M33 52.5h2M37 52.5h2M42 52.5h1M45 52.5h1M49 52.5h2M60 52.5h1M62 52.5h3M75 52.5h3M87 52.5h2M116 52.5h1M132 52.5h1M134 52.5h2M139 52.5h2M33 51.5h2M37 51.5h2M42 51.5h1M45 51.5h1M49 51.5h2M60 51.5h1M62 51.5h3M75 51.5h3M87 51.5h2M116 51.5h1M132 51.5h1M134 51.5h2M139 51.5h2M33 50.5h2M37 50.5h2M42 50.5h1M45 50.5h1M49 50.5h2M60 50.5h1M62 50.5h3M75 50.5h3M87 50.5h2M116 50.5h1M132 50.5h1M134 50.5h2M139 50.5h2M0 49.5h3M9 49.5h1M11 49.5h3M18 49.5h1M20 49.5h1M28 49.5h1M136 49.5h1M142 49.5h1M149 49.5h2M0 48.5h3M9 48.5h1M11 48.5h3M18 48.5h1M20 48.5h1M28 48.5h1M136 48.5h1M142 48.5h1M149 48.5h2M3 47.5h4M8 47.5h1M10 47.5h1M14 47.5h4M19 47.5h1M21 47.5h7M29 47.5h3M36 47.5h1M43 47.5h2M46 47.5h3M92 47.5h1M136 47.5h1M141 47.5h1M143 47.5h6M3 46.5h4M8 46.5h1M10 46.5h1M14 46.5h4M19 46.5h1M21 46.5h7M29 46.5h3M36 46.5h1M43 46.5h2M46 46.5h3M92 46.5h1M136 46.5h1M141 46.5h1M143 46.5h6M0 45.5h3M9 45.5h1M11 45.5h3M18 45.5h1M20 45.5h1M28 45.5h1M136 45.5h1M142 45.5h1M149 45.5h2M33 44.5h2M37 44.5h2M42 44.5h1M45 44.5h1M60 44.5h1M75 44.5h3M87 44.5h2M90 44.5h3M136 44.5h1M140 44.5h2M143 44.5h6M33 43.5h2M37 43.5h2M42 43.5h1M45 43.5h1M60 43.5h1M75 43.5h3M87 43.5h2M90 43.5h3M136 43.5h1M140 43.5h2M143 43.5h6M33 42.5h2M37 42.5h2M42 42.5h1M45 42.5h1M60 42.5h1M75 42.5h3M87 42.5h2M90 42.5h3M136 42.5h1M140 42.5h2M143 42.5h6M0 41.5h3M9 41.5h1M11 41.5h3M18 41.5h1M20 41.5h1M28 41.5h1M136 41.5h1M142 41.5h1M149 41.5h2M0 40.5h3M9 40.5h1M11 40.5h3M18 40.5h1M20 40.5h1M28 40.5h1M136 40.5h1M142 40.5h1M149 40.5h2M3 39.5h4M8 39.5h1M10 39.5h1M14 39.5h4M19 39.5h1M21 39.5h5M27 39.5h1M29 39.5h3M33 39.5h1M36 39.5h1M39 39.5h3M43 39.5h2M62 39.5h3M90 39.5h3M136 39.5h1M141 39.5h1M143 39.5h6M3 38.5h4M8 38.5h1M10 38.5h1M14 38.5h4M19 38.5h1M21 38.5h5M27 38.5h1M29 38.5h3M33 38.5h1M36 38.5h1M39 38.5h3M43 38.5h2M62 38.5h3M90 38.5h3M136 38.5h1M141 38.5h1M143 38.5h6M0 37.5h3M9 37.5h1M11 37.5h3M18 37.5h1M20 37.5h1M26 37.5h1M28 37.5h1M136 37.5h1M142 37.5h1M149 37.5h2M33 36.5h2M37 36.5h2M42 36.5h1M45 36.5h1M49 36.5h11M61 36.5h1M65 36.5h5M75 36.5h3M87 36.5h2M98 36.5h3M106 36.5h3M134 36.5h3M140 36.5h2M143 36.5h6M33 35.5h2M37 35.5h2M42 35.5h1M45 35.5h1M49 35.5h11M61 35.5h1M65 35.5h5M75 35.5h3M87 35.5h2M98 35.5h3M106 35.5h3M134 35.5h3M140 35.5h2M143 35.5h6M0 33.5h3M11 33.5h3M18 33.5h1M20 33.5h1M28 33.5h1M136 33.5h1M142 33.5h1M149 33.5h2M0 32.5h3M11 32.5h3M18 32.5h1M20 32.5h1M28 32.5h1M136 32.5h1M142 32.5h1M149 32.5h2M0 31.5h3M11 31.5h3M18 31.5h1M20 31.5h1M28 31.5h1M136 31.5h1M142 31.5h1M149 31.5h2M4 30.5h1M7 30.5h2M11 30.5h3M15 30.5h1M19 30.5h1M26 30.5h2M30 30.5h2M37 30.5h1M46 30.5h3M59 30.5h1M62 30.5h3M136 30.5h1M142 30.5h1M149 30.5h2M4 29.5h1M7 29.5h2M11 29.5h3M15 29.5h1M19 29.5h1M26 29.5h2M30 29.5h2M37 29.5h1M46 29.5h3M59 29.5h1M62 29.5h3M136 29.5h1M142 29.5h1M149 29.5h2M4 28.5h1M7 28.5h2M11 28.5h3M15 28.5h1M19 28.5h1M26 28.5h2M30 28.5h2M37 28.5h1M46 28.5h3M59 28.5h1M62 28.5h3M136 28.5h1M3 27.5h3M8 27.5h1M11 27.5h3M15 27.5h2M19 27.5h1M23 27.5h3M27 27.5h1M29 27.5h3M37 27.5h1M46 27.5h2M59 27.5h2M136 27.5h1M3 26.5h3M8 26.5h1M11 26.5h3M15 26.5h2M19 26.5h1M23 26.5h3M27 26.5h1M29 26.5h3M37 26.5h1M46 26.5h2M59 26.5h2M136 26.5h1M3 25.5h3M8 25.5h1M11 25.5h3M15 25.5h2M19 25.5h1M23 25.5h3M27 25.5h1M29 25.5h3M37 25.5h1M46 25.5h2M59 25.5h2M136 25.5h1M3 24.5h3M8 24.5h1M11 24.5h3M15 24.5h2M19 24.5h1M23 24.5h3M27 24.5h1M29 24.5h3M37 24.5h1M46 24.5h2M59 24.5h2M136 24.5h1M3 23.5h3M8 23.5h1M11 23.5h3M15 23.5h2M19 23.5h1M23 23.5h3M27 23.5h1M29 23.5h3M37 23.5h1M46 23.5h2M59 23.5h2M106 23.5h3M134 23.5h2M141 23.5h8M3 22.5h3M8 22.5h1M11 22.5h3M15 22.5h2M19 22.5h1M23 22.5h3M27 22.5h1M29 22.5h3M37 22.5h1M46 22.5h2M59 22.5h2M106 22.5h3M134 22.5h2M141 22.5h8M3 21.5h3M8 21.5h1M11 21.5h3M15 21.5h2M19 21.5h1M23 21.5h3M27 21.5h1M29 21.5h3M37 21.5h1M46 21.5h2M59 21.5h2M106 21.5h3M134 21.5h2M141 21.5h8M3 20.5h3M8 20.5h1M11 20.5h3M15 20.5h2M19 20.5h1M23 20.5h3M27 20.5h1M29 20.5h3M37 20.5h1M46 20.5h2M59 20.5h2M136 20.5h1M3 19.5h3M8 19.5h1M11 19.5h3M15 19.5h2M19 19.5h1M23 19.5h3M27 19.5h1M29 19.5h3M37 19.5h1M46 19.5h2M59 19.5h2M136 19.5h1M3 18.5h3M8 18.5h1M11 18.5h3M15 18.5h2M19 18.5h1M23 18.5h3M27 18.5h1M29 18.5h3M37 18.5h1M46 18.5h2M59 18.5h2M136 18.5h1M3 17.5h3M8 17.5h1M11 17.5h3M15 17.5h2M19 17.5h1M23 17.5h3M27 17.5h1M29 17.5h3M37 17.5h1M46 17.5h2M59 17.5h2M136 17.5h1M34 16.5h1M38 16.5h1M42 16.5h1M45 16.5h1M49 16.5h10M61 16.5h1M65 16.5h5M75 16.5h3M82 16.5h3M92 16.5h1M98 16.5h3M106 16.5h3M136 16.5h1M34 15.5h1M38 15.5h1M42 15.5h1M45 15.5h1M49 15.5h10M61 15.5h1M65 15.5h5M75 15.5h3M82 15.5h3M92 15.5h1M98 15.5h3M106 15.5h3M136 15.5h1M34 14.5h1M38 14.5h1M42 14.5h1M45 14.5h1M49 14.5h10M61 14.5h1M65 14.5h5M75 14.5h3M82 14.5h3M92 14.5h1M98 14.5h3M106 14.5h3M136 14.5h1M3 13.5h3M8 13.5h1M11 13.5h3M15 13.5h1M19 13.5h1M23 13.5h3M27 13.5h1M29 13.5h3M37 13.5h1M46 13.5h2M59 13.5h2M136 13.5h1M3 12.5h3M8 12.5h1M11 12.5h3M15 12.5h1M19 12.5h1M23 12.5h3M27 12.5h1M29 12.5h3M37 12.5h1M46 12.5h2M59 12.5h2M136 12.5h1M6 11.5h1M16 11.5h2M21 11.5h2M34 11.5h1M38 11.5h8M49 11.5h5M57 11.5h2M61 11.5h1M75 11.5h3M82 11.5h3M90 11.5h2M106 11.5h3M114 11.5h3M127 11.5h3M136 11.5h1M6 10.5h1M16 10.5h2M21 10.5h2M34 10.5h1M38 10.5h8M49 10.5h5M57 10.5h2M61 10.5h1M75 10.5h3M82 10.5h3M90 10.5h2M106 10.5h3M114 10.5h3M127 10.5h3M136 10.5h1M3 9.5h3M8 9.5h1M11 9.5h3M15 9.5h1M17 9.5h1M19 9.5h1M21 9.5h5M29 9.5h3M37 9.5h1M46 9.5h2M54 9.5h3M59 9.5h2M65 9.5h5M92 9.5h1M98 9.5h3M136 9.5h1M6 8.5h1M34 8.5h1M38 8.5h8M49 8.5h5M57 8.5h2M61 8.5h1M75 8.5h3M82 8.5h3M90 8.5h2M114 8.5h3M127 8.5h3M149 8.5h2M6 7.5h1M34 7.5h1M38 7.5h8M49 7.5h5M57 7.5h2M61 7.5h1M75 7.5h3M82 7.5h3M90 7.5h2M114 7.5h3M127 7.5h3M149 7.5h2M6 6.5h1M34 6.5h1M38 6.5h8M49 6.5h5M57 6.5h2M61 6.5h1M75 6.5h3M82 6.5h3M90 6.5h2M114 6.5h3M127 6.5h3M149 6.5h2M3 5.5h3M8 5.5h1M10 5.5h4M15 5.5h1M19 5.5h1M23 5.5h3M27 5.5h1M29 5.5h3M37 5.5h1M46 5.5h2M59 5.5h2M65 5.5h5M92 5.5h1M98 5.5h3M136 5.5h1M3 4.5h3M8 4.5h1M10 4.5h4M15 4.5h1M19 4.5h1M23 4.5h3M27 4.5h1M29 4.5h3M37 4.5h1M46 4.5h2M59 4.5h2M65 4.5h5M92 4.5h1M98 4.5h3M136 4.5h1M3 3.5h3M8 3.5h1M10 3.5h4M15 3.5h1M19 3.5h1M23 3.5h3M27 3.5h1M29 3.5h3M37 3.5h1M46 3.5h2M59 3.5h2M65 3.5h5M92 3.5h1M98 3.5h3M136 3.5h1M3 2.5h3M8 2.5h1M10 2.5h4M15 2.5h1M19 2.5h1M23 2.5h3M27 2.5h1M29 2.5h3M37 2.5h1M46 2.5h2M59 2.5h2M65 2.5h5M92 2.5h1M98 2.5h3M136 2.5h1M6 1.5h1M34 1.5h1M38 1.5h5M45 1.5h1M49 1.5h6M57 1.5h2M61 1.5h1M72 1.5h1M80 1.5h1M82 1.5h2M87 1.5h2M90 1.5h2M96 1.5h1M127 1.5h3M142 1.5h1M6 0.5h1M34 0.5h1M38 0.5h5M45 0.5h1M49 0.5h6M57 0.5h2M61 0.5h1M72 0.5h1M80 0.5h1M82 0.5h2M87 0.5h2M90 0.5h2M96 0.5h1M127 0.5h3M142 0.5h1"/><path stroke="#862781" d="M39 30.5h3M43 30.5h2M54 30.5h3M60 30.5h1M92 30.5h1M134 30.5h2M140 30.5h2M143 30.5h6M39 29.5h3M43 29.5h2M54 29.5h3M60 29.5h1M92 29.5h1M134 29.5h2M140 29.5h2M143 29.5h6M39 28.5h3M43 28.5h2M54 28.5h3M60 28.5h1M92 28.5h1M142 28.5h1M149 28.5h2M39 27.5h3M43 27.5h2M54 27.5h3M61 27.5h1M65 27.5h5M75 27.5h3M82 27.5h3M92 27.5h1M98 27.5h3M142 27.5h1M149 27.5h2M39 26.5h3M43 26.5h2M54 26.5h3M61 26.5h1M65 26.5h5M75 26.5h3M82 26.5h3M92 26.5h1M98 26.5h3M142 26.5h1M149 26.5h2M39 25.5h3M43 25.5h2M54 25.5h3M61 25.5h1M65 25.5h5M75 25.5h3M82 25.5h3M92 25.5h1M98 25.5h3M142 25.5h1M149 25.5h2M39 24.5h3M43 24.5h2M54 24.5h3M61 24.5h1M65 24.5h5M75 24.5h3M82 24.5h3M92 24.5h1M98 24.5h3M142 24.5h1M149 24.5h2M39 23.5h3M43 23.5h2M54 23.5h3M61 23.5h1M65 23.5h5M82 23.5h3M92 23.5h1M98 23.5h3M114 23.5h3M122 23.5h4M131 23.5h2M140 23.5h1M39 22.5h3M43 22.5h2M54 22.5h3M61 22.5h1M65 22.5h5M82 22.5h3M92 22.5h1M98 22.5h3M114 22.5h3M122 22.5h4M131 22.5h2M140 22.5h1M39 21.5h3M43 21.5h2M54 21.5h3M61 21.5h1M65 21.5h5M82 21.5h3M92 21.5h1M98 21.5h3M114 21.5h3M122 21.5h4M131 21.5h2M140 21.5h1M39 20.5h3M43 20.5h2M54 20.5h3M61 20.5h1M65 20.5h5M75 20.5h3M82 20.5h3M92 20.5h1M98 20.5h3M106 20.5h3M149 20.5h2M39 19.5h3M43 19.5h2M54 19.5h3M61 19.5h1M65 19.5h5M75 19.5h3M82 19.5h3M92 19.5h1M98 19.5h3M106 19.5h3M149 19.5h2M39 18.5h3M43 18.5h2M54 18.5h3M61 18.5h1M65 18.5h5M75 18.5h3M82 18.5h3M92 18.5h1M98 18.5h3M106 18.5h3M149 18.5h2M39 17.5h3M43 17.5h2M54 17.5h3M61 17.5h1M65 17.5h5M75 17.5h3M82 17.5h3M92 17.5h1M98 17.5h3M106 17.5h3M149 17.5h2M70 16.5h5M78 16.5h4M87 16.5h5M95 16.5h2M103 16.5h2M114 16.5h3M127 16.5h3M134 16.5h2M142 16.5h1M149 16.5h2M70 15.5h5M78 15.5h4M87 15.5h5M95 15.5h2M103 15.5h2M114 15.5h3M127 15.5h3M134 15.5h2M142 15.5h1M149 15.5h2M70 14.5h5M78 14.5h4M87 14.5h5M95 14.5h2M103 14.5h2M114 14.5h3M127 14.5h3M134 14.5h2M142 14.5h1M149 14.5h2M39 13.5h3M43 13.5h2M54 13.5h3M61 13.5h1M65 13.5h5M75 13.5h3M82 13.5h3M92 13.5h1M98 13.5h3M106 13.5h3M39 12.5h3M43 12.5h2M54 12.5h3M61 12.5h1M65 12.5h5M75 12.5h3M82 12.5h3M92 12.5h1M98 12.5h3M106 12.5h3M70 11.5h5M78 11.5h4M85 11.5h5M95 11.5h2M103 11.5h2M111 11.5h2M134 11.5h2M142 11.5h1M149 11.5h2M70 10.5h5M78 10.5h4M85 10.5h5M95 10.5h2M103 10.5h2M111 10.5h2M134 10.5h2M142 10.5h1M149 10.5h2M34 9.5h1M38 9.5h8M49 9.5h5M57 9.5h2M61 9.5h1M75 9.5h3M82 9.5h3M90 9.5h2M106 9.5h3M114 9.5h3M127 9.5h3M70 8.5h5M78 8.5h4M85 8.5h5M93 8.5h5M101 8.5h5M109 8.5h5M117 8.5h3M134 8.5h2M142 8.5h7M70 7.5h5M78 7.5h4M85 7.5h5M93 7.5h5M101 7.5h5M109 7.5h5M117 7.5h3M134 7.5h2M142 7.5h7M70 6.5h5M78 6.5h4M85 6.5h5M93 6.5h5M101 6.5h5M109 6.5h5M117 6.5h3M134 6.5h2M142 6.5h7M34 5.5h1M38 5.5h8M49 5.5h10M61 5.5h1M75 5.5h3M82 5.5h3M90 5.5h2M106 5.5h3M116 5.5h1M142 5.5h1M34 4.5h1M38 4.5h8M49 4.5h10M61 4.5h1M75 4.5h3M82 4.5h3M90 4.5h2M106 4.5h3M116 4.5h1M142 4.5h1M34 3.5h1M38 3.5h8M49 3.5h10M61 3.5h1M75 3.5h3M82 3.5h3M90 3.5h2M106 3.5h3M116 3.5h1M142 3.5h1M34 2.5h1M38 2.5h8M49 2.5h10M61 2.5h1M75 2.5h3M82 2.5h3M90 2.5h2M106 2.5h3M116 2.5h1M142 2.5h1M70 1.5h2M73 1.5h2M78 1.5h2M81 1.5h1M85 1.5h2M89 1.5h1M93 1.5h3M97 1.5h1M101 1.5h5M109 1.5h11M134 1.5h2M70 0.5h2M73 0.5h2M78 0.5h2M81 0.5h1M85 0.5h2M89 0.5h1M93 0.5h3M97 0.5h1M101 0.5h5M109 0.5h11M134 0.5h2"/><path stroke="#8e2a81" d="M23 150.5h3M29 150.5h1M34 150.5h1M38 150.5h5M45 150.5h1M90 150.5h2M23 149.5h3M29 149.5h1M34 149.5h1M38 149.5h5M45 149.5h1M90 149.5h2M23 148.5h3M29 148.5h1M34 148.5h1M38 148.5h5M45 148.5h1M90 148.5h2M18 147.5h1M26 147.5h3M32 147.5h2M35 147.5h2M43 147.5h2M51 147.5h2M60 147.5h1M69 147.5h6M81 147.5h1M85 147.5h7M93 147.5h2M97 147.5h1M101 147.5h2M105 147.5h1M109 147.5h2M113 147.5h1M117 147.5h5M32 146.5h2M35 146.5h2M43 146.5h2M51 146.5h2M60 146.5h1M69 146.5h6M81 146.5h1M85 146.5h7M93 146.5h2M97 146.5h1M101 146.5h2M105 146.5h1M109 146.5h2M113 146.5h1M117 146.5h5M18 145.5h1M20 145.5h1M28 145.5h1M32 145.5h2M35 145.5h2M43 145.5h2M51 145.5h2M60 145.5h1M69 145.5h6M81 145.5h1M85 145.5h7M93 145.5h2M97 145.5h1M101 145.5h2M105 145.5h1M109 145.5h2M113 145.5h1M117 145.5h5M46 144.5h3M79 144.5h2M92 144.5h1M95 144.5h2M103 144.5h2M111 144.5h2M122 144.5h10M133 144.5h1M137 144.5h2M18 143.5h1M20 143.5h1M35 143.5h1M43 143.5h2M51 143.5h2M62 143.5h2M90 143.5h2M120 143.5h2M27 142.5h2M35 142.5h1M43 142.5h2M51 142.5h2M62 142.5h2M90 142.5h2M120 142.5h2M15 141.5h2M23 141.5h3M29 141.5h3M34 141.5h1M38 141.5h5M45 141.5h1M49 141.5h2M53 141.5h1M57 141.5h3M90 141.5h2M93 141.5h2M97 141.5h1M101 141.5h2M105 141.5h1M109 141.5h2M113 141.5h1M117 141.5h3M46 140.5h3M82 140.5h3M92 140.5h1M122 140.5h10M133 140.5h1M137 140.5h3M18 139.5h1M20 139.5h1M28 139.5h1M37 139.5h1M59 139.5h2M67 139.5h9M78 139.5h1M81 139.5h1M85 139.5h7M93 139.5h2M97 139.5h1M101 139.5h2M105 139.5h1M109 139.5h2M113 139.5h1M117 139.5h5M37 138.5h1M59 138.5h2M67 138.5h9M78 138.5h1M81 138.5h1M85 138.5h7M93 138.5h2M97 138.5h1M101 138.5h2M105 138.5h1M109 138.5h2M113 138.5h1M117 138.5h5M37 137.5h1M59 137.5h2M67 137.5h9M78 137.5h1M81 137.5h1M85 137.5h7M93 137.5h2M97 137.5h1M101 137.5h2M105 137.5h1M109 137.5h2M113 137.5h1M117 137.5h5M46 136.5h3M82 136.5h3M92 136.5h1M122 136.5h10M133 136.5h1M137 136.5h2M43 135.5h2M46 135.5h3M54 135.5h1M56 135.5h1M87 135.5h2M90 135.5h2M103 135.5h2M112 135.5h1M120 135.5h2M133 135.5h1M0 134.5h3M9 134.5h1M18 134.5h1M20 134.5h1M43 134.5h2M46 134.5h3M54 134.5h1M56 134.5h1M87 134.5h2M90 134.5h2M103 134.5h2M112 134.5h1M120 134.5h2M133 134.5h1M46 133.5h3M82 133.5h3M90 133.5h3M122 133.5h10M133 133.5h1M137 133.5h3M11 132.5h3M18 132.5h1M20 132.5h1M54 132.5h3M64 132.5h1M73 132.5h1M79 132.5h2M87 132.5h2M95 132.5h2M103 132.5h2M111 132.5h2M120 132.5h2M11 131.5h3M18 131.5h1M20 131.5h1M54 131.5h3M64 131.5h1M73 131.5h1M79 131.5h2M87 131.5h2M95 131.5h2M103 131.5h2M111 131.5h2M120 131.5h2M11 130.5h3M18 130.5h1M20 130.5h1M54 130.5h3M64 130.5h1M73 130.5h1M79 130.5h2M87 130.5h2M95 130.5h2M103 130.5h2M111 130.5h2M120 130.5h2M46 129.5h3M79 129.5h2M92 129.5h1M122 129.5h10M133 129.5h1M137 129.5h3M46 128.5h3M79 128.5h2M92 128.5h1M122 128.5h10M133 128.5h1M137 128.5h3M7 127.5h1M11 127.5h3M20 127.5h1M54 127.5h3M69 127.5h4M74 127.5h7M89 127.5h1M93 127.5h5M101 127.5h5M109 127.5h3M113 127.5h1M117 127.5h3M7 126.5h1M11 126.5h3M20 126.5h1M54 126.5h3M69 126.5h4M74 126.5h7M89 126.5h1M93 126.5h5M101 126.5h5M109 126.5h3M113 126.5h1M117 126.5h3M46 125.5h3M82 125.5h3M90 125.5h3M122 125.5h10M133 125.5h1M137 125.5h3M6 124.5h1M10 124.5h1M14 124.5h1M19 124.5h1M37 124.5h2M42 124.5h1M45 124.5h1M49 124.5h1M53 124.5h1M6 123.5h1M10 123.5h1M14 123.5h1M19 123.5h1M37 123.5h2M42 123.5h1M45 123.5h1M49 123.5h1M53 123.5h1M61 123.5h7M6 122.5h1M10 122.5h1M14 122.5h1M19 122.5h1M34 122.5h1M39 122.5h1M49 122.5h4M57 122.5h8M67 122.5h2M43 121.5h2M54 121.5h1M56 121.5h1M90 121.5h3M121 121.5h11M133 121.5h1M137 121.5h3M46 120.5h3M90 120.5h2M95 120.5h2M103 120.5h2M111 120.5h2M122 120.5h10M133 120.5h1M137 120.5h3M46 119.5h3M90 119.5h2M95 119.5h2M103 119.5h2M111 119.5h2M122 119.5h10M133 119.5h1M137 119.5h3M11 118.5h3M20 118.5h1M70 118.5h4M76 118.5h2M79 118.5h2M87 118.5h1M95 118.5h2M103 118.5h2M111 118.5h2M120 118.5h2M11 117.5h3M20 117.5h1M70 117.5h4M76 117.5h2M79 117.5h2M87 117.5h1M95 117.5h2M103 117.5h2M111 117.5h2M120 117.5h2M0 116.5h3M9 116.5h1M92 116.5h1M98 116.5h2M106 116.5h3M114 116.5h2M131 116.5h1M139 116.5h1M11 115.5h3M76 115.5h2M82 115.5h3M87 115.5h2M95 115.5h2M103 115.5h2M111 115.5h2M120 115.5h11M133 115.5h1M137 115.5h2M11 114.5h3M76 114.5h2M82 114.5h3M87 114.5h2M95 114.5h2M103 114.5h2M111 114.5h2M120 114.5h11M133 114.5h1M137 114.5h2M11 113.5h3M76 113.5h2M82 113.5h3M87 113.5h2M95 113.5h2M103 113.5h2M111 113.5h2M120 113.5h11M133 113.5h1M137 113.5h2M92 112.5h1M98 112.5h2M106 112.5h3M114 112.5h2M131 112.5h1M139 112.5h1M32 111.5h2M35 111.5h3M48 111.5h1M54 111.5h3M62 111.5h3M92 111.5h1M95 111.5h2M103 111.5h2M111 111.5h2M122 111.5h10M133 111.5h1M137 111.5h2M32 110.5h2M35 110.5h3M48 110.5h1M54 110.5h3M62 110.5h3M92 110.5h1M95 110.5h2M103 110.5h2M111 110.5h2M122 110.5h10M133 110.5h1M137 110.5h2M32 109.5h2M35 109.5h3M48 109.5h1M54 109.5h3M62 109.5h3M92 109.5h1M95 109.5h2M103 109.5h2M111 109.5h2M122 109.5h10M133 109.5h1M137 109.5h2M92 108.5h1M106 108.5h3M114 108.5h2M131 108.5h1M139 108.5h1M0 107.5h4M21 107.5h2M29 107.5h1M34 107.5h1M38 107.5h1M41 107.5h2M45 107.5h1M47 107.5h4M53 107.5h1M57 107.5h2M74 107.5h1M78 107.5h1M85 107.5h4M0 106.5h4M11 106.5h3M21 106.5h2M25 106.5h1M29 106.5h3M48 106.5h3M53 106.5h1M57 106.5h2M61 106.5h1M65 106.5h2M69 106.5h1M73 106.5h1M78 106.5h1M81 106.5h1M85 106.5h1M88 106.5h7M97 106.5h1M101 106.5h2M105 106.5h1M109 106.5h2M113 106.5h1M117 106.5h3M0 105.5h3M9 105.5h1M98 105.5h3M106 105.5h3M114 105.5h3M131 105.5h1M139 105.5h1M0 104.5h4M21 104.5h2M29 104.5h1M34 104.5h1M38 104.5h1M41 104.5h2M45 104.5h1M48 104.5h3M53 104.5h1M57 104.5h2M74 104.5h1M78 104.5h1M85 104.5h4M0 103.5h4M11 103.5h3M21 103.5h2M25 103.5h1M29 103.5h3M38 103.5h1M42 103.5h1M53 103.5h1M57 103.5h2M61 103.5h1M65 103.5h2M74 103.5h1M78 103.5h1M81 103.5h1M85 103.5h3M89 103.5h6M0 102.5h4M11 102.5h3M21 102.5h2M25 102.5h1M29 102.5h3M38 102.5h1M42 102.5h1M53 102.5h1M57 102.5h2M61 102.5h1M65 102.5h2M74 102.5h1M78 102.5h1M81 102.5h1M85 102.5h3M89 102.5h6M0 101.5h3M9 101.5h1M98 101.5h2M106 101.5h3M114 101.5h2M131 101.5h1M139 101.5h1M0 100.5h3M9 100.5h1M98 100.5h2M106 100.5h3M114 100.5h2M131 100.5h1M139 100.5h1M18 99.5h1M35 99.5h1M82 99.5h3M92 99.5h1M106 99.5h3M114 99.5h2M122 99.5h10M133 99.5h1M137 99.5h3M18 98.5h1M35 98.5h1M82 98.5h3M92 98.5h1M106 98.5h3M114 98.5h2M122 98.5h10M133 98.5h1M137 98.5h3M0 97.5h3M9 97.5h1M98 97.5h2M106 97.5h3M114 97.5h2M131 97.5h2M139 97.5h1M3 96.5h1M5 96.5h1M8 96.5h1M15 96.5h2M18 96.5h1M20 96.5h1M62 96.5h3M92 96.5h1M95 96.5h2M103 96.5h2M111 96.5h2M120 96.5h2M3 95.5h1M5 95.5h1M8 95.5h1M15 95.5h2M18 95.5h1M20 95.5h1M62 95.5h3M92 95.5h1M95 95.5h2M103 95.5h2M111 95.5h2M120 95.5h2M3 94.5h1M5 94.5h1M8 94.5h1M15 94.5h2M18 94.5h1M20 94.5h1M62 94.5h3M92 94.5h1M95 94.5h2M103 94.5h2M111 94.5h2M120 94.5h2M18 93.5h1M106 93.5h3M114 93.5h2M132 93.5h1M139 93.5h1M18 92.5h1M106 92.5h3M114 92.5h2M132 92.5h1M139 92.5h1M3 91.5h3M20 91.5h1M82 91.5h3M87 91.5h2M98 91.5h3M106 91.5h3M120 91.5h2M3 90.5h3M7 90.5h1M15 90.5h2M43 90.5h2M46 90.5h3M82 90.5h3M98 90.5h2M106 90.5h3M120 90.5h11M11 89.5h3M18 89.5h1M20 89.5h1M82 89.5h3M98 89.5h3M106 89.5h3M114 89.5h3M131 89.5h1M133 89.5h1M139 89.5h1M8 88.5h1M19 88.5h1M39 88.5h3M70 88.5h2M74 88.5h1M78 88.5h4M85 88.5h2M93 88.5h5M101 88.5h5M109 88.5h5M117 88.5h3M8 87.5h1M19 87.5h1M39 87.5h3M70 87.5h2M74 87.5h1M78 87.5h4M85 87.5h2M93 87.5h5M101 87.5h5M109 87.5h5M117 87.5h3M8 86.5h1M19 86.5h1M39 86.5h3M70 86.5h2M74 86.5h1M78 86.5h4M85 86.5h2M93 86.5h5M101 86.5h5M109 86.5h5M117 86.5h3M0 85.5h3M9 85.5h1M18 85.5h1M82 85.5h3M98 85.5h3M106 85.5h3M114 85.5h3M131 85.5h1M133 85.5h1M139 85.5h1M0 84.5h3M9 84.5h1M18 84.5h1M82 84.5h3M98 84.5h3M106 84.5h3M114 84.5h3M131 84.5h1M133 84.5h1M139 84.5h1M0 83.5h3M9 83.5h1M18 83.5h1M82 83.5h3M98 83.5h3M106 83.5h3M114 83.5h3M131 83.5h1M133 83.5h1M139 83.5h1M7 82.5h1M11 82.5h3M18 82.5h1M20 82.5h1M35 82.5h1M82 82.5h3M90 82.5h3M98 82.5h2M106 82.5h3M114 82.5h2M123 82.5h9M133 82.5h1M137 82.5h2M7 81.5h1M11 81.5h3M18 81.5h1M20 81.5h1M35 81.5h1M82 81.5h3M90 81.5h3M98 81.5h2M106 81.5h3M114 81.5h2M123 81.5h9M133 81.5h1M137 81.5h2M3 80.5h3M7 80.5h2M15 80.5h2M19 80.5h1M23 80.5h5M29 80.5h1M36 80.5h1M39 80.5h3M62 80.5h3M98 80.5h3M134 80.5h2M141 80.5h8M3 79.5h3M7 79.5h2M15 79.5h2M19 79.5h1M23 79.5h5M29 79.5h1M36 79.5h1M39 79.5h3M62 79.5h3M98 79.5h3M132 79.5h1M134 79.5h2M140 79.5h9M3 78.5h3M7 78.5h2M15 78.5h2M19 78.5h1M23 78.5h5M29 78.5h1M36 78.5h1M39 78.5h3M62 78.5h3M98 78.5h3M132 78.5h1M134 78.5h2M140 78.5h9M3 77.5h3M7 77.5h2M15 77.5h2M19 77.5h1M23 77.5h5M29 77.5h1M36 77.5h1M39 77.5h3M62 77.5h3M98 77.5h3M132 77.5h1M134 77.5h2M140 77.5h9M4 76.5h1M7 76.5h1M11 76.5h3M18 76.5h1M20 76.5h1M23 76.5h5M36 76.5h1M62 76.5h3M100 76.5h1M134 76.5h2M141 76.5h8M0 75.5h3M26 75.5h1M28 75.5h1M62 75.5h3M82 75.5h3M95 75.5h2M103 75.5h2M122 75.5h4M130 75.5h2M133 75.5h1M137 75.5h3M0 74.5h3M26 74.5h1M28 74.5h1M62 74.5h3M82 74.5h3M95 74.5h2M103 74.5h2M122 74.5h4M130 74.5h2M133 74.5h1M137 74.5h3M0 73.5h3M26 73.5h1M28 73.5h1M62 73.5h3M82 73.5h3M95 73.5h2M103 73.5h2M122 73.5h4M130 73.5h2M133 73.5h1M137 73.5h3M11 72.5h3M18 72.5h1M20 72.5h1M26 72.5h1M28 72.5h1M36 72.5h1M62 72.5h3M98 72.5h3M106 72.5h3M134 72.5h2M141 72.5h8M4 71.5h1M7 71.5h1M11 71.5h3M20 71.5h1M23 71.5h1M25 71.5h1M27 71.5h1M36 71.5h1M106 71.5h3M114 71.5h3M134 71.5h2M140 71.5h9M4 70.5h1M7 70.5h1M11 70.5h3M20 70.5h1M23 70.5h1M25 70.5h1M27 70.5h1M36 70.5h1M106 70.5h3M114 70.5h3M134 70.5h2M140 70.5h9M4 69.5h1M7 69.5h1M11 69.5h3M20 69.5h1M23 69.5h1M25 69.5h1M27 69.5h1M36 69.5h1M62 69.5h3M134 69.5h2M141 69.5h8M3 68.5h1M5 68.5h1M8 68.5h1M15 68.5h2M19 68.5h1M24 68.5h2M27 68.5h1M29 68.5h3M36 68.5h1M48 68.5h1M54 68.5h3M59 68.5h1M62 68.5h3M95 68.5h2M103 68.5h2M114 68.5h3M132 68.5h1M140 68.5h9M3 67.5h1M5 67.5h1M8 67.5h1M15 67.5h2M19 67.5h1M24 67.5h2M27 67.5h1M29 67.5h3M36 67.5h1M48 67.5h1M54 67.5h3M59 67.5h1M82 67.5h1M95 67.5h2M103 67.5h2M114 67.5h3M132 67.5h1M140 67.5h9M33 66.5h2M37 66.5h11M49 66.5h2M52 66.5h2M57 66.5h2M82 66.5h1M92 66.5h1M95 66.5h2M103 66.5h2M111 66.5h2M127 66.5h3M7 65.5h1M11 65.5h3M20 65.5h1M26 65.5h2M36 65.5h1M62 65.5h3M134 65.5h2M141 65.5h8M7 64.5h1M11 64.5h3M20 64.5h1M26 64.5h2M36 64.5h1M62 64.5h3M134 64.5h2M141 64.5h8M6 63.5h1M10 63.5h1M14 63.5h1M17 63.5h1M21 63.5h3M29 63.5h3M33 63.5h1M36 63.5h1M39 63.5h3M62 63.5h3M87 63.5h2M124 63.5h2M132 63.5h1M134 63.5h2M140 63.5h1M6 62.5h1M10 62.5h1M14 62.5h1M17 62.5h1M21 62.5h3M29 62.5h3M33 62.5h1M36 62.5h1M39 62.5h3M62 62.5h3M87 62.5h2M124 62.5h2M132 62.5h1M134 62.5h2M140 62.5h1M3 61.5h2M7 61.5h1M11 61.5h3M20 61.5h1M26 61.5h2M36 61.5h1M62 61.5h3M134 61.5h2M141 61.5h8M33 60.5h2M37 60.5h2M42 60.5h1M45 60.5h1M49 60.5h2M60 60.5h2M65 60.5h5M71 60.5h3M75 60.5h2M114 60.5h2M120 60.5h2M127 60.5h2M33 59.5h2M37 59.5h2M42 59.5h1M45 59.5h1M49 59.5h2M60 59.5h2M65 59.5h5M71 59.5h3M75 59.5h2M114 59.5h2M120 59.5h2M127 59.5h2M33 58.5h2M37 58.5h2M42 58.5h1M45 58.5h1M49 58.5h2M60 58.5h2M65 58.5h5M71 58.5h3M75 58.5h2M114 58.5h2M120 58.5h2M127 58.5h2M3 57.5h2M7 57.5h1M11 57.5h3M18 57.5h1M20 57.5h1M28 57.5h1M134 57.5h2M140 57.5h2M143 57.5h6M3 56.5h2M7 56.5h1M11 56.5h3M18 56.5h1M20 56.5h1M28 56.5h1M134 56.5h2M140 56.5h2M143 56.5h6M33 55.5h1M37 55.5h1M39 55.5h3M62 55.5h3M75 55.5h3M87 55.5h2M90 55.5h2M132 55.5h1M134 55.5h2M139 55.5h2M33 54.5h1M37 54.5h1M39 54.5h3M62 54.5h3M75 54.5h3M87 54.5h2M90 54.5h2M132 54.5h1M134 54.5h2M139 54.5h2M3 53.5h3M7 53.5h2M15 53.5h2M19 53.5h1M23 53.5h1M25 53.5h3M29 53.5h1M62 53.5h3M134 53.5h2M140 53.5h2M143 53.5h6M51 52.5h9M61 52.5h1M65 52.5h5M100 52.5h1M106 52.5h3M114 52.5h2M120 52.5h12M133 52.5h1M137 52.5h2M51 51.5h9M61 51.5h1M65 51.5h5M100 51.5h1M106 51.5h3M114 51.5h2M120 51.5h12M133 51.5h1M137 51.5h2M51 50.5h9M61 50.5h1M65 50.5h5M100 50.5h1M106 50.5h3M114 50.5h2M120 50.5h12M133 50.5h1M137 50.5h2M3 49.5h3M7 49.5h2M15 49.5h2M19 49.5h1M23 49.5h1M25 49.5h3M29 49.5h1M62 49.5h3M134 49.5h2M140 49.5h2M143 49.5h6M3 48.5h3M7 48.5h2M15 48.5h2M19 48.5h1M23 48.5h1M25 48.5h3M29 48.5h1M62 48.5h3M134 48.5h2M140 48.5h2M143 48.5h6M33 47.5h1M37 47.5h1M39 47.5h3M60 47.5h1M62 47.5h3M75 47.5h3M87 47.5h2M90 47.5h2M132 47.5h1M134 47.5h2M139 47.5h2M33 46.5h1M37 46.5h1M39 46.5h3M60 46.5h1M62 46.5h3M75 46.5h3M87 46.5h2M90 46.5h2M132 46.5h1M134 46.5h2M139 46.5h2M3 45.5h3M7 45.5h2M15 45.5h2M19 45.5h1M23 45.5h1M25 45.5h3M29 45.5h1M62 45.5h3M134 45.5h2M140 45.5h2M143 45.5h6M49 44.5h11M61 44.5h1M65 44.5h5M116 44.5h1M120 44.5h16M137 44.5h3M49 43.5h11M61 43.5h1M65 43.5h5M116 43.5h1M120 43.5h16M137 43.5h3M49 42.5h11M61 42.5h1M65 42.5h5M116 42.5h1M120 42.5h16M137 42.5h3M3 41.5h3M7 41.5h2M15 41.5h2M19 41.5h1M23 41.5h1M25 41.5h3M29 41.5h1M36 41.5h1M46 41.5h3M62 41.5h3M134 41.5h2M140 41.5h2M143 41.5h6M3 40.5h3M7 40.5h2M15 40.5h2M19 40.5h1M23 40.5h1M25 40.5h3M29 40.5h1M36 40.5h1M46 40.5h3M62 40.5h3M134 40.5h2M140 40.5h2M143 40.5h6M34 39.5h1M37 39.5h2M42 39.5h1M45 39.5h1M54 39.5h3M59 39.5h2M75 39.5h3M98 39.5h3M106 39.5h3M132 39.5h1M134 39.5h2M139 39.5h2M34 38.5h1M37 38.5h2M42 38.5h1M45 38.5h1M54 38.5h3M59 38.5h2M75 38.5h3M98 38.5h3M106 38.5h3M132 38.5h1M134 38.5h2M139 38.5h2M3 37.5h3M7 37.5h2M15 37.5h2M19 37.5h1M22 37.5h4M27 37.5h1M29 37.5h1M36 37.5h1M46 37.5h3M62 37.5h3M134 37.5h2M140 37.5h2M143 37.5h6M70 36.5h5M78 36.5h9M89 36.5h1M93 36.5h5M101 36.5h5M109 36.5h25M137 36.5h3M70 35.5h5M78 35.5h9M89 35.5h1M93 35.5h5M101 35.5h5M109 35.5h25M137 35.5h3M3 33.5h3M7 33.5h2M15 33.5h2M19 33.5h1M23 33.5h1M25 33.5h3M29 33.5h1M33 33.5h1M36 33.5h1M46 33.5h3M62 33.5h3M134 33.5h2M140 33.5h2M143 33.5h6M3 32.5h3M7 32.5h2M15 32.5h2M19 32.5h1M23 32.5h1M25 32.5h3M29 32.5h1M33 32.5h1M36 32.5h1M46 32.5h3M62 32.5h3M134 32.5h2M140 32.5h2M143 32.5h6M3 31.5h3M7 31.5h2M15 31.5h2M19 31.5h1M23 31.5h1M25 31.5h3M29 31.5h1M33 31.5h1M36 31.5h1M46 31.5h3M62 31.5h3M134 31.5h2M140 31.5h2M143 31.5h6M3 30.5h1M5 30.5h1M16 30.5h1M23 30.5h3M29 30.5h1M3 29.5h1M5 29.5h1M16 29.5h1M23 29.5h3M29 29.5h1M3 28.5h1M5 28.5h1M16 28.5h1M23 28.5h3M29 28.5h1M6 27.5h1M10 27.5h1M14 27.5h1M17 27.5h1M21 27.5h2M6 26.5h1M10 26.5h1M14 26.5h1M17 26.5h1M21 26.5h2M6 25.5h1M10 25.5h1M14 25.5h1M17 25.5h1M21 25.5h2M6 24.5h1M10 24.5h1M14 24.5h1M17 24.5h1M21 24.5h2M6 23.5h1M10 23.5h1M14 23.5h1M17 23.5h1M21 23.5h2M6 22.5h1M10 22.5h1M14 22.5h1M17 22.5h1M21 22.5h2M6 21.5h1M10 21.5h1M14 21.5h1M17 21.5h1M21 21.5h2M6 20.5h1M10 20.5h1M14 20.5h1M17 20.5h1M21 20.5h2M6 19.5h1M10 19.5h1M14 19.5h1M17 19.5h1M21 19.5h2M6 18.5h1M10 18.5h1M14 18.5h1M17 18.5h1M21 18.5h2M6 17.5h1M10 17.5h1M14 17.5h1M17 17.5h1M21 17.5h2M6 13.5h1M10 13.5h1M14 13.5h1M16 13.5h2M21 13.5h2M6 12.5h1M10 12.5h1M14 12.5h1M16 12.5h2M21 12.5h2M6 9.5h1M10 9.5h1M14 9.5h1M16 9.5h1M6 5.5h1M14 5.5h1M16 5.5h2M21 5.5h2M6 4.5h1M14 4.5h1M16 4.5h2M21 4.5h2M6 3.5h1M14 3.5h1M16 3.5h2M21 3.5h2M6 2.5h1M14 2.5h1M16 2.5h2M21 2.5h2"/><path stroke="#a8327d" d="M61 30.5h1M65 30.5h5M75 30.5h3M82 30.5h3M90 30.5h2M98 30.5h3M106 30.5h3M127 30.5h3M132 30.5h1M139 30.5h1M61 29.5h1M65 29.5h5M75 29.5h3M82 29.5h3M90 29.5h2M98 29.5h3M106 29.5h3M127 29.5h3M132 29.5h1M139 29.5h1M61 28.5h1M65 28.5h5M75 28.5h3M82 28.5h3M90 28.5h2M98 28.5h3M106 28.5h3M127 28.5h3M134 28.5h2M141 28.5h1M143 28.5h6M79 27.5h2M87 27.5h2M90 27.5h2M103 27.5h2M106 27.5h3M114 27.5h3M127 27.5h3M134 27.5h2M141 27.5h1M143 27.5h6M79 26.5h2M87 26.5h2M90 26.5h2M103 26.5h2M106 26.5h3M114 26.5h3M127 26.5h3M134 26.5h2M141 26.5h1M143 26.5h6M79 25.5h2M87 25.5h2M90 25.5h2M103 25.5h2M106 25.5h3M114 25.5h3M127 25.5h3M134 25.5h2M141 25.5h1M143 25.5h6M79 24.5h2M90 24.5h2M103 24.5h2M106 24.5h3M114 24.5h3M127 24.5h3M134 24.5h2M141 24.5h1M143 24.5h6M70 23.5h12M85 23.5h7M95 23.5h2M103 23.5h2M111 23.5h2M120 23.5h2M126 23.5h1M130 23.5h1M133 23.5h1M137 23.5h3M70 22.5h12M85 22.5h7M95 22.5h2M103 22.5h2M111 22.5h2M120 22.5h2M126 22.5h1M130 22.5h1M133 22.5h1M137 22.5h3M70 21.5h12M85 21.5h7M95 21.5h2M103 21.5h2M111 21.5h2M120 21.5h2M126 21.5h1M130 21.5h1M133 21.5h1M137 21.5h3M79 20.5h2M87 20.5h2M90 20.5h2M95 20.5h2M103 20.5h2M114 20.5h3M127 20.5h3M134 20.5h2M142 20.5h7M79 19.5h2M87 19.5h2M90 19.5h2M95 19.5h2M103 19.5h2M114 19.5h3M127 19.5h3M134 19.5h2M142 19.5h7M79 18.5h2M87 18.5h2M90 18.5h2M95 18.5h2M103 18.5h2M114 18.5h3M127 18.5h3M134 18.5h2M142 18.5h7M79 17.5h2M87 17.5h2M90 17.5h2M95 17.5h2M103 17.5h2M114 17.5h3M127 17.5h3M134 17.5h2M142 17.5h7M85 16.5h2M93 16.5h2M97 16.5h1M101 16.5h2M105 16.5h1M109 16.5h5M117 16.5h10M130 16.5h4M140 16.5h2M143 16.5h6M85 15.5h2M93 15.5h2M97 15.5h1M101 15.5h2M105 15.5h1M109 15.5h5M117 15.5h10M130 15.5h4M140 15.5h2M143 15.5h6M85 14.5h2M93 14.5h2M97 14.5h1M101 14.5h2M105 14.5h1M109 14.5h5M117 14.5h10M130 14.5h4M140 14.5h2M143 14.5h6M79 13.5h2M87 13.5h2M90 13.5h2M95 13.5h2M103 13.5h2M114 13.5h3M127 13.5h3M134 13.5h2M142 13.5h1M149 13.5h2M79 12.5h2M87 12.5h2M90 12.5h2M95 12.5h2M103 12.5h2M114 12.5h3M127 12.5h3M134 12.5h2M142 12.5h1M149 12.5h2M93 11.5h2M97 11.5h1M101 11.5h2M105 11.5h1M109 11.5h2M113 11.5h1M117 11.5h5M123 11.5h3M131 11.5h2M140 11.5h2M143 11.5h6M93 10.5h2M97 10.5h1M101 10.5h2M105 10.5h1M109 10.5h2M113 10.5h1M117 10.5h5M123 10.5h3M131 10.5h2M140 10.5h2M143 10.5h6M70 9.5h5M78 9.5h4M85 9.5h5M95 9.5h2M103 9.5h2M111 9.5h2M134 9.5h2M142 9.5h1M149 9.5h2M120 8.5h7M130 8.5h4M137 8.5h5M120 7.5h7M130 7.5h4M137 7.5h5M120 6.5h7M130 6.5h4M137 6.5h5M71 5.5h3M79 5.5h2M87 5.5h2M95 5.5h2M103 5.5h2M112 5.5h1M114 5.5h2M127 5.5h3M134 5.5h2M149 5.5h2M71 4.5h3M79 4.5h2M87 4.5h2M95 4.5h2M103 4.5h2M112 4.5h1M114 4.5h2M127 4.5h3M134 4.5h2M149 4.5h2M71 3.5h3M79 3.5h2M87 3.5h2M95 3.5h2M103 3.5h2M112 3.5h1M114 3.5h2M127 3.5h3M134 3.5h2M149 3.5h2M71 2.5h3M79 2.5h2M87 2.5h2M95 2.5h2M103 2.5h2M112 2.5h1M114 2.5h2M127 2.5h3M134 2.5h2M149 2.5h2M120 1.5h7M130 1.5h4M137 1.5h4M143 1.5h6M120 0.5h7M130 0.5h4M137 0.5h4M143 0.5h6"/><path stroke="#b2357b" d="M34 27.5h1M38 27.5h1M42 27.5h1M45 27.5h1M49 27.5h5M57 27.5h2M34 26.5h1M38 26.5h1M42 26.5h1M45 26.5h1M49 26.5h5M57 26.5h2M34 25.5h1M38 25.5h1M42 25.5h1M45 25.5h1M49 25.5h5M57 25.5h2M34 24.5h1M38 24.5h1M42 24.5h1M45 24.5h1M49 24.5h5M57 24.5h2M34 23.5h1M38 23.5h1M42 23.5h1M45 23.5h1M49 23.5h5M57 23.5h2M34 22.5h1M38 22.5h1M42 22.5h1M45 22.5h1M49 22.5h5M57 22.5h2M34 21.5h1M38 21.5h1M42 21.5h1M45 21.5h1M49 21.5h5M57 21.5h2M34 20.5h1M38 20.5h1M42 20.5h1M45 20.5h1M49 20.5h5M57 20.5h2M34 19.5h1M38 19.5h1M42 19.5h1M45 19.5h1M49 19.5h5M57 19.5h2M34 18.5h1M38 18.5h1M42 18.5h1M45 18.5h1M49 18.5h5M57 18.5h2M34 17.5h1M38 17.5h1M42 17.5h1M45 17.5h1M49 17.5h5M57 17.5h2M34 13.5h1M38 13.5h1M42 13.5h1M45 13.5h1M49 13.5h5M57 13.5h2M34 12.5h1M38 12.5h1M42 12.5h1M45 12.5h1M49 12.5h5M57 12.5h2"/><path stroke="#ba3878" d="M4 150.5h1M15 150.5h2M21 150.5h2M30 150.5h2M4 149.5h1M15 149.5h2M21 149.5h2M30 149.5h2M4 148.5h1M15 148.5h2M21 148.5h2M30 148.5h2M16 147.5h1M19 147.5h1M37 147.5h1M59 147.5h1M61 147.5h1M65 147.5h4M75 147.5h4M0 146.5h3M9 146.5h1M16 146.5h1M19 146.5h1M23 146.5h3M29 146.5h1M37 146.5h1M59 146.5h1M61 146.5h1M65 146.5h4M75 146.5h4M26 145.5h2M37 145.5h1M59 145.5h1M61 145.5h1M65 145.5h4M75 145.5h4M18 144.5h1M20 144.5h1M43 144.5h2M54 144.5h3M62 144.5h3M71 144.5h2M90 144.5h2M120 144.5h2M27 143.5h2M32 143.5h2M36 143.5h2M60 143.5h1M69 143.5h6M76 143.5h3M81 143.5h1M85 143.5h5M93 143.5h2M97 143.5h1M101 143.5h2M105 143.5h1M109 143.5h2M113 143.5h1M117 143.5h3M16 142.5h1M19 142.5h1M26 142.5h1M32 142.5h2M36 142.5h2M60 142.5h1M69 142.5h6M76 142.5h3M81 142.5h1M85 142.5h5M93 142.5h2M97 142.5h1M101 142.5h2M105 142.5h1M109 142.5h2M113 142.5h1M117 142.5h3M17 141.5h1M21 141.5h2M18 140.5h1M20 140.5h1M43 140.5h2M54 140.5h3M63 140.5h2M79 140.5h2M90 140.5h2M95 140.5h2M103 140.5h2M111 140.5h2M120 140.5h2M26 139.5h2M30 139.5h2M34 139.5h1M42 139.5h1M45 139.5h1M49 139.5h2M53 139.5h1M57 139.5h2M61 139.5h1M65 139.5h2M76 139.5h2M16 138.5h1M19 138.5h1M23 138.5h3M29 138.5h3M34 138.5h1M42 138.5h1M45 138.5h1M49 138.5h2M53 138.5h1M57 138.5h2M61 138.5h1M65 138.5h2M76 138.5h2M16 137.5h1M19 137.5h1M23 137.5h3M29 137.5h3M34 137.5h1M42 137.5h1M45 137.5h1M49 137.5h2M53 137.5h1M57 137.5h2M61 137.5h1M65 137.5h2M76 137.5h2M18 136.5h1M20 136.5h1M28 136.5h1M37 136.5h1M43 136.5h2M54 136.5h3M63 136.5h2M73 136.5h1M79 136.5h2M87 136.5h2M90 136.5h2M95 136.5h2M103 136.5h2M111 136.5h2M120 136.5h2M18 135.5h1M20 135.5h1M35 135.5h1M37 135.5h1M51 135.5h2M55 135.5h1M62 135.5h3M70 135.5h5M76 135.5h6M85 135.5h2M89 135.5h1M95 135.5h3M101 135.5h2M105 135.5h1M109 135.5h3M113 135.5h1M117 135.5h3M35 134.5h1M37 134.5h1M51 134.5h2M55 134.5h1M62 134.5h3M70 134.5h5M76 134.5h6M85 134.5h2M89 134.5h1M95 134.5h3M101 134.5h2M105 134.5h1M109 134.5h3M113 134.5h1M117 134.5h3M0 133.5h3M9 133.5h1M18 133.5h1M20 133.5h1M43 133.5h2M54 133.5h3M63 133.5h2M73 133.5h1M79 133.5h2M87 133.5h2M95 133.5h2M103 133.5h2M111 133.5h2M120 133.5h2M3 132.5h2M7 132.5h1M15 132.5h1M37 132.5h1M51 132.5h2M62 132.5h2M69 132.5h4M74 132.5h5M81 132.5h1M85 132.5h2M89 132.5h1M93 132.5h2M97 132.5h1M101 132.5h2M105 132.5h1M109 132.5h2M113 132.5h1M117 132.5h3M3 131.5h2M7 131.5h1M15 131.5h1M37 131.5h1M51 131.5h2M62 131.5h2M69 131.5h4M74 131.5h5M81 131.5h1M85 131.5h2M89 131.5h1M93 131.5h2M97 131.5h1M101 131.5h2M105 131.5h1M109 131.5h2M113 131.5h1M117 131.5h3M3 130.5h2M7 130.5h1M15 130.5h1M37 130.5h1M51 130.5h2M62 130.5h2M69 130.5h4M74 130.5h5M81 130.5h1M85 130.5h2M89 130.5h1M93 130.5h2M97 130.5h1M101 130.5h2M105 130.5h1M109 130.5h2M113 130.5h1M117 130.5h3M18 129.5h1M20 129.5h1M43 129.5h2M54 129.5h3M64 129.5h1M73 129.5h1M90 129.5h2M95 129.5h2M103 129.5h2M111 129.5h2M120 129.5h2M18 128.5h1M20 128.5h1M43 128.5h2M54 128.5h3M64 128.5h1M73 128.5h1M90 128.5h2M95 128.5h2M103 128.5h2M111 128.5h2M120 128.5h2M3 127.5h3M15 127.5h2M37 127.5h1M40 127.5h2M51 127.5h2M62 127.5h3M81 127.5h1M85 127.5h2M3 126.5h3M15 126.5h2M37 126.5h1M40 126.5h2M51 126.5h2M62 126.5h3M81 126.5h1M85 126.5h2M0 125.5h3M9 125.5h1M18 125.5h1M20 125.5h1M43 125.5h2M54 125.5h3M64 125.5h1M70 125.5h1M73 125.5h1M79 125.5h2M87 125.5h2M95 125.5h2M103 125.5h2M111 125.5h3M120 125.5h2M17 124.5h1M21 124.5h2M17 123.5h1M21 123.5h2M60 123.5h1M17 122.5h1M21 122.5h5M29 122.5h1M37 122.5h2M42 122.5h1M45 122.5h1M53 122.5h1M65 122.5h2M0 121.5h3M9 121.5h1M18 121.5h1M20 121.5h1M55 121.5h1M64 121.5h1M73 121.5h1M79 121.5h2M87 121.5h2M95 121.5h2M103 121.5h2M111 121.5h2M120 121.5h1M0 120.5h3M9 120.5h1M18 120.5h1M20 120.5h1M43 120.5h2M54 120.5h3M64 120.5h1M73 120.5h1M79 120.5h2M87 120.5h2M93 120.5h2M97 120.5h1M101 120.5h2M105 120.5h1M109 120.5h2M113 120.5h1M117 120.5h5M0 119.5h3M9 119.5h1M18 119.5h1M20 119.5h1M43 119.5h2M54 119.5h3M64 119.5h1M73 119.5h1M79 119.5h2M87 119.5h2M93 119.5h2M97 119.5h1M101 119.5h2M105 119.5h1M109 119.5h2M113 119.5h1M117 119.5h5M4 118.5h1M7 118.5h1M16 118.5h1M40 118.5h2M54 118.5h3M64 118.5h1M74 118.5h2M78 118.5h1M81 118.5h1M85 118.5h2M89 118.5h1M93 118.5h2M97 118.5h1M101 118.5h2M105 118.5h1M109 118.5h2M113 118.5h1M117 118.5h3M4 117.5h1M7 117.5h1M16 117.5h1M40 117.5h2M54 117.5h3M64 117.5h1M74 117.5h2M78 117.5h1M81 117.5h1M85 117.5h2M89 117.5h1M93 117.5h2M97 117.5h1M101 117.5h2M105 117.5h1M109 117.5h2M113 117.5h1M117 117.5h3M18 116.5h1M20 116.5h1M46 116.5h3M82 116.5h3M90 116.5h2M95 116.5h2M103 116.5h2M111 116.5h2M122 116.5h9M133 116.5h1M137 116.5h2M3 115.5h2M7 115.5h1M15 115.5h2M19 115.5h1M40 115.5h2M54 115.5h3M64 115.5h1M70 115.5h6M78 115.5h3M89 115.5h1M93 115.5h2M97 115.5h1M101 115.5h2M105 115.5h1M109 115.5h2M113 115.5h1M117 115.5h3M3 114.5h2M7 114.5h1M15 114.5h2M19 114.5h1M40 114.5h2M54 114.5h3M64 114.5h1M70 114.5h6M78 114.5h3M89 114.5h1M93 114.5h2M97 114.5h1M101 114.5h2M105 114.5h1M109 114.5h2M113 114.5h1M117 114.5h3M3 113.5h2M7 113.5h1M15 113.5h2M19 113.5h1M40 113.5h2M54 113.5h3M64 113.5h1M70 113.5h6M78 113.5h3M89 113.5h1M93 113.5h2M97 113.5h1M101 113.5h2M105 113.5h1M109 113.5h2M113 113.5h1M117 113.5h3M0 112.5h3M9 112.5h1M46 112.5h3M82 112.5h3M90 112.5h2M95 112.5h2M103 112.5h2M111 112.5h2M122 112.5h9M133 112.5h1M137 112.5h2M0 111.5h3M9 111.5h1M26 111.5h3M47 111.5h1M51 111.5h2M59 111.5h2M71 111.5h2M79 111.5h2M89 111.5h3M113 111.5h1M117 111.5h5M0 110.5h3M9 110.5h1M26 110.5h3M47 110.5h1M51 110.5h2M59 110.5h2M71 110.5h2M79 110.5h2M89 110.5h3M113 110.5h1M117 110.5h5M0 109.5h3M9 109.5h1M26 109.5h3M47 109.5h1M51 109.5h2M59 109.5h2M71 109.5h2M79 109.5h2M89 109.5h3M113 109.5h1M117 109.5h5M0 108.5h3M9 108.5h1M26 108.5h3M32 108.5h2M35 108.5h1M48 108.5h1M82 108.5h3M90 108.5h2M95 108.5h2M103 108.5h2M111 108.5h2M122 108.5h9M133 108.5h1M137 108.5h2M6 107.5h1M10 107.5h1M14 107.5h1M17 107.5h1M20 107.5h1M39 107.5h2M6 106.5h1M10 106.5h1M14 106.5h1M17 106.5h1M20 106.5h1M34 106.5h1M38 106.5h5M45 106.5h1M47 106.5h1M74 106.5h1M86 106.5h2M18 105.5h1M20 105.5h1M82 105.5h3M92 105.5h1M95 105.5h2M103 105.5h2M111 105.5h2M122 105.5h9M133 105.5h1M137 105.5h2M6 104.5h1M10 104.5h1M14 104.5h1M17 104.5h1M20 104.5h1M39 104.5h2M47 104.5h1M75 104.5h1M77 104.5h1M6 103.5h1M10 103.5h1M14 103.5h1M17 103.5h1M20 103.5h1M34 103.5h1M39 103.5h3M45 103.5h1M48 103.5h3M75 103.5h1M88 103.5h1M6 102.5h1M10 102.5h1M14 102.5h1M17 102.5h1M20 102.5h1M34 102.5h1M39 102.5h3M45 102.5h1M48 102.5h3M75 102.5h1M88 102.5h1M18 101.5h1M20 101.5h1M46 101.5h2M82 101.5h3M90 101.5h3M95 101.5h2M103 101.5h2M111 101.5h2M122 101.5h9M133 101.5h1M137 101.5h2M18 100.5h1M20 100.5h1M46 100.5h2M82 100.5h3M90 100.5h3M95 100.5h2M103 100.5h2M111 100.5h2M122 100.5h9M133 100.5h1M137 100.5h2M3 99.5h2M7 99.5h1M11 99.5h3M20 99.5h1M28 99.5h1M32 99.5h2M36 99.5h1M62 99.5h3M90 99.5h2M95 99.5h2M103 99.5h2M111 99.5h2M120 99.5h2M3 98.5h2M7 98.5h1M11 98.5h3M20 98.5h1M28 98.5h1M32 98.5h2M36 98.5h1M62 98.5h3M90 98.5h2M95 98.5h2M103 98.5h2M111 98.5h2M120 98.5h2M18 97.5h1M20 97.5h1M35 97.5h1M82 97.5h3M92 97.5h1M95 97.5h2M103 97.5h2M111 97.5h2M122 97.5h9M133 97.5h1M137 97.5h2M6 96.5h1M10 96.5h1M14 96.5h1M17 96.5h1M19 96.5h1M23 96.5h1M26 96.5h1M28 96.5h1M30 96.5h2M43 96.5h1M54 96.5h1M60 96.5h1M70 96.5h4M79 96.5h2M87 96.5h5M113 96.5h1M117 96.5h3M6 95.5h1M10 95.5h1M14 95.5h1M17 95.5h1M19 95.5h1M23 95.5h1M26 95.5h1M28 95.5h1M30 95.5h2M43 95.5h1M54 95.5h1M60 95.5h1M70 95.5h4M79 95.5h2M87 95.5h5M113 95.5h1M117 95.5h3M6 94.5h1M10 94.5h1M14 94.5h1M17 94.5h1M19 94.5h1M23 94.5h1M26 94.5h1M28 94.5h1M30 94.5h2M43 94.5h1M54 94.5h1M60 94.5h1M70 94.5h4M79 94.5h2M87 94.5h5M113 94.5h1M117 94.5h3M4 93.5h1M7 93.5h1M11 93.5h3M20 93.5h1M35 93.5h1M82 93.5h3M92 93.5h1M95 93.5h2M103 93.5h2M111 93.5h2M122 93.5h10M133 93.5h1M137 93.5h2M4 92.5h1M7 92.5h1M11 92.5h3M20 92.5h1M35 92.5h1M82 92.5h3M92 92.5h1M95 92.5h2M103 92.5h2M111 92.5h2M122 92.5h10M133 92.5h1M137 92.5h2M7 91.5h2M15 91.5h2M32 91.5h1M35 91.5h1M40 91.5h2M70 91.5h11M85 91.5h2M89 91.5h1M93 91.5h5M101 91.5h5M109 91.5h5M8 90.5h1M19 90.5h1M28 90.5h1M32 90.5h1M35 90.5h1M39 90.5h3M71 90.5h3M75 90.5h3M79 90.5h2M87 90.5h2M95 90.5h3M103 90.5h3M111 90.5h3M117 90.5h3M3 89.5h3M7 89.5h1M15 89.5h2M28 89.5h1M35 89.5h1M92 89.5h1M122 89.5h9M137 89.5h2M6 88.5h1M10 88.5h1M14 88.5h1M17 88.5h1M21 88.5h2M28 88.5h2M32 88.5h1M35 88.5h1M54 88.5h1M89 88.5h1M6 87.5h1M10 87.5h1M14 87.5h1M17 87.5h1M21 87.5h2M28 87.5h2M32 87.5h1M35 87.5h1M54 87.5h1M89 87.5h1M6 86.5h1M10 86.5h1M14 86.5h1M17 86.5h1M21 86.5h2M28 86.5h2M32 86.5h1M35 86.5h1M54 86.5h1M89 86.5h1M11 85.5h3M20 85.5h1M35 85.5h1M90 85.5h3M122 85.5h9M137 85.5h2M11 84.5h3M20 84.5h1M35 84.5h1M90 84.5h3M122 84.5h9M137 84.5h2M11 83.5h3M20 83.5h1M35 83.5h1M90 83.5h3M122 83.5h9M137 83.5h2M3 82.5h3M8 82.5h1M15 82.5h2M19 82.5h1M28 82.5h1M32 82.5h1M43 82.5h2M46 82.5h1M88 82.5h1M95 82.5h2M103 82.5h2M111 82.5h2M122 82.5h1M3 81.5h3M8 81.5h1M15 81.5h2M19 81.5h1M28 81.5h1M32 81.5h1M43 81.5h2M46 81.5h1M88 81.5h1M95 81.5h2M103 81.5h2M111 81.5h2M122 81.5h1M6 80.5h1M10 80.5h1M14 80.5h1M17 80.5h1M21 80.5h2M30 80.5h2M54 80.5h3M59 80.5h1M92 80.5h1M106 80.5h3M114 80.5h3M132 80.5h1M140 80.5h1M6 79.5h1M10 79.5h1M14 79.5h1M17 79.5h1M21 79.5h2M30 79.5h2M54 79.5h3M59 79.5h1M92 79.5h1M106 79.5h3M114 79.5h3M127 79.5h3M131 79.5h1M139 79.5h1M6 78.5h1M10 78.5h1M14 78.5h1M17 78.5h1M21 78.5h2M30 78.5h2M54 78.5h3M59 78.5h1M92 78.5h1M106 78.5h3M114 78.5h3M127 78.5h3M131 78.5h1M139 78.5h1M6 77.5h1M10 77.5h1M14 77.5h1M17 77.5h1M21 77.5h2M30 77.5h2M54 77.5h3M59 77.5h1M92 77.5h1M106 77.5h3M114 77.5h3M127 77.5h3M131 77.5h1M139 77.5h1M3 76.5h1M5 76.5h1M8 76.5h1M15 76.5h2M19 76.5h1M29 76.5h3M48 76.5h1M54 76.5h3M59 76.5h1M82 76.5h1M92 76.5h1M98 76.5h2M106 76.5h3M114 76.5h3M132 76.5h1M140 76.5h1M4 75.5h1M7 75.5h1M11 75.5h3M18 75.5h1M20 75.5h1M23 75.5h1M27 75.5h1M36 75.5h1M54 75.5h3M59 75.5h2M71 75.5h1M79 75.5h2M92 75.5h1M111 75.5h2M120 75.5h2M126 75.5h1M4 74.5h1M7 74.5h1M11 74.5h3M18 74.5h1M20 74.5h1M23 74.5h1M27 74.5h1M36 74.5h1M54 74.5h3M59 74.5h2M71 74.5h1M79 74.5h2M92 74.5h1M111 74.5h2M120 74.5h2M126 74.5h1M4 73.5h1M7 73.5h1M11 73.5h3M18 73.5h1M20 73.5h1M23 73.5h1M27 73.5h1M36 73.5h1M54 73.5h3M59 73.5h2M71 73.5h1M79 73.5h2M92 73.5h1M111 73.5h2M120 73.5h2M126 73.5h1M3 72.5h3M7 72.5h2M15 72.5h1M23 72.5h3M27 72.5h1M29 72.5h3M37 72.5h1M54 72.5h3M92 72.5h1M114 72.5h3M132 72.5h1M140 72.5h1M3 71.5h1M5 71.5h1M8 71.5h1M15 71.5h2M19 71.5h1M24 71.5h1M29 71.5h3M37 71.5h1M48 71.5h1M54 71.5h3M59 71.5h2M82 71.5h3M92 71.5h1M95 71.5h2M103 71.5h2M131 71.5h2M139 71.5h1M3 70.5h1M5 70.5h1M8 70.5h1M15 70.5h2M19 70.5h1M24 70.5h1M29 70.5h3M37 70.5h1M48 70.5h1M54 70.5h3M59 70.5h2M82 70.5h3M92 70.5h1M95 70.5h2M103 70.5h2M131 70.5h2M139 70.5h1M3 69.5h1M5 69.5h1M8 69.5h1M15 69.5h2M19 69.5h1M24 69.5h1M29 69.5h3M37 69.5h1M48 69.5h1M54 69.5h3M59 69.5h1M82 69.5h1M92 69.5h1M98 69.5h3M106 69.5h3M114 69.5h3M132 69.5h1M140 69.5h1M6 68.5h1M10 68.5h1M14 68.5h1M17 68.5h1M21 68.5h2M33 68.5h1M37 68.5h1M39 68.5h3M46 68.5h2M51 68.5h2M82 68.5h3M92 68.5h1M111 68.5h2M122 68.5h4M130 68.5h2M133 68.5h1M137 68.5h3M6 67.5h1M10 67.5h1M14 67.5h1M17 67.5h1M21 67.5h2M33 67.5h1M37 67.5h1M39 67.5h3M46 67.5h2M51 67.5h2M61 67.5h1M65 67.5h5M71 67.5h1M79 67.5h1M83 67.5h2M92 67.5h1M111 67.5h2M122 67.5h4M130 67.5h2M133 67.5h1M137 67.5h3M61 66.5h1M65 66.5h5M71 66.5h1M79 66.5h1M83 66.5h2M90 66.5h2M93 66.5h2M97 66.5h1M101 66.5h2M105 66.5h1M109 66.5h2M113 66.5h1M117 66.5h3M3 65.5h3M8 65.5h1M15 65.5h2M19 65.5h1M23 65.5h3M29 65.5h3M33 65.5h1M46 65.5h3M54 65.5h1M92 65.5h1M98 65.5h3M106 65.5h3M114 65.5h3M132 65.5h1M140 65.5h1M3 64.5h3M8 64.5h1M15 64.5h2M19 64.5h1M23 64.5h3M29 64.5h3M33 64.5h1M46 64.5h3M54 64.5h1M92 64.5h1M98 64.5h3M106 64.5h3M114 64.5h3M132 64.5h1M140 64.5h1M37 63.5h1M76 63.5h2M100 63.5h1M108 63.5h1M114 63.5h3M122 63.5h2M126 63.5h1M129 63.5h3M133 63.5h1M137 63.5h3M37 62.5h1M76 62.5h2M100 62.5h1M108 62.5h1M114 62.5h3M122 62.5h2M126 62.5h1M129 62.5h3M133 62.5h1M137 62.5h3M5 61.5h1M8 61.5h1M15 61.5h2M19 61.5h1M23 61.5h3M29 61.5h3M33 61.5h1M37 61.5h1M43 61.5h2M46 61.5h3M54 61.5h1M92 61.5h1M98 61.5h3M106 61.5h3M114 61.5h3M131 61.5h2M140 61.5h1M52 60.5h8M70 60.5h1M74 60.5h1M78 60.5h1M81 60.5h1M84 60.5h3M89 60.5h1M93 60.5h2M97 60.5h1M99 60.5h4M105 60.5h1M107 60.5h7M117 60.5h3M52 59.5h8M70 59.5h1M74 59.5h1M78 59.5h1M81 59.5h1M84 59.5h3M89 59.5h1M93 59.5h2M97 59.5h1M99 59.5h4M105 59.5h1M107 59.5h7M117 59.5h3M52 58.5h8M70 58.5h1M74 58.5h1M78 58.5h1M81 58.5h1M84 58.5h3M89 58.5h1M93 58.5h2M97 58.5h1M99 58.5h4M105 58.5h1M107 58.5h7M117 58.5h3M5 57.5h1M8 57.5h1M15 57.5h2M19 57.5h1M23 57.5h1M25 57.5h3M29 57.5h3M33 57.5h1M36 57.5h1M46 57.5h3M62 57.5h3M92 57.5h1M98 57.5h3M106 57.5h3M116 57.5h1M132 57.5h1M139 57.5h1M5 56.5h1M8 56.5h1M15 56.5h2M19 56.5h1M23 56.5h1M25 56.5h3M29 56.5h3M33 56.5h1M36 56.5h1M46 56.5h3M62 56.5h3M92 56.5h1M98 56.5h3M106 56.5h3M116 56.5h1M132 56.5h1M139 56.5h1M34 55.5h1M38 55.5h1M42 55.5h1M45 55.5h1M49 55.5h2M60 55.5h1M100 55.5h1M108 55.5h1M114 55.5h3M122 55.5h10M133 55.5h1M137 55.5h2M34 54.5h1M38 54.5h1M42 54.5h1M45 54.5h1M49 54.5h2M60 54.5h1M100 54.5h1M108 54.5h1M114 54.5h3M122 54.5h10M133 54.5h1M137 54.5h2M6 53.5h1M10 53.5h1M14 53.5h1M17 53.5h1M21 53.5h2M24 53.5h1M30 53.5h2M33 53.5h1M36 53.5h1M43 53.5h2M46 53.5h3M60 53.5h1M92 53.5h1M98 53.5h3M106 53.5h3M116 53.5h1M132 53.5h1M139 53.5h1M70 52.5h5M78 52.5h9M89 52.5h1M93 52.5h7M101 52.5h5M109 52.5h5M117 52.5h3M70 51.5h5M78 51.5h9M89 51.5h1M93 51.5h7M101 51.5h5M109 51.5h5M117 51.5h3M70 50.5h5M78 50.5h9M89 50.5h1M93 50.5h7M101 50.5h5M109 50.5h5M117 50.5h3M6 49.5h1M10 49.5h1M14 49.5h1M17 49.5h1M21 49.5h2M24 49.5h1M30 49.5h2M33 49.5h1M36 49.5h1M43 49.5h2M46 49.5h3M60 49.5h1M92 49.5h1M98 49.5h3M106 49.5h3M116 49.5h1M132 49.5h1M139 49.5h1M6 48.5h1M10 48.5h1M14 48.5h1M17 48.5h1M21 48.5h2M24 48.5h1M30 48.5h2M33 48.5h1M36 48.5h1M43 48.5h2M46 48.5h3M60 48.5h1M92 48.5h1M98 48.5h3M106 48.5h3M116 48.5h1M132 48.5h1M139 48.5h1M34 47.5h1M38 47.5h1M42 47.5h1M45 47.5h1M49 47.5h11M61 47.5h1M65 47.5h5M71 47.5h3M82 47.5h3M100 47.5h1M107 47.5h2M114 47.5h3M120 47.5h12M133 47.5h1M137 47.5h2M34 46.5h1M38 46.5h1M42 46.5h1M45 46.5h1M49 46.5h11M61 46.5h1M65 46.5h5M71 46.5h3M82 46.5h3M100 46.5h1M107 46.5h2M114 46.5h3M120 46.5h12M133 46.5h1M137 46.5h2M6 45.5h1M10 45.5h1M14 45.5h1M17 45.5h1M21 45.5h2M24 45.5h1M30 45.5h2M33 45.5h1M36 45.5h2M43 45.5h2M46 45.5h3M54 45.5h3M59 45.5h2M92 45.5h1M98 45.5h3M106 45.5h3M116 45.5h1M132 45.5h1M139 45.5h1M70 44.5h5M78 44.5h9M89 44.5h1M98 44.5h3M106 44.5h3M114 44.5h2M70 43.5h5M78 43.5h9M89 43.5h1M98 43.5h3M106 43.5h3M114 43.5h2M70 42.5h5M78 42.5h9M89 42.5h1M98 42.5h3M106 42.5h3M114 42.5h2M6 41.5h1M10 41.5h1M14 41.5h1M17 41.5h1M21 41.5h2M24 41.5h1M30 41.5h2M33 41.5h1M37 41.5h1M43 41.5h2M54 41.5h3M59 41.5h2M92 41.5h1M98 41.5h3M106 41.5h3M116 41.5h1M132 41.5h1M139 41.5h1M6 40.5h1M10 40.5h1M14 40.5h1M17 40.5h1M21 40.5h2M24 40.5h1M30 40.5h2M33 40.5h1M37 40.5h1M43 40.5h2M54 40.5h3M59 40.5h2M92 40.5h1M98 40.5h3M106 40.5h3M116 40.5h1M132 40.5h1M139 40.5h1M49 39.5h5M57 39.5h2M61 39.5h1M65 39.5h5M71 39.5h3M82 39.5h3M87 39.5h2M95 39.5h2M103 39.5h2M114 39.5h3M121 39.5h11M133 39.5h1M137 39.5h2M49 38.5h5M57 38.5h2M61 38.5h1M65 38.5h5M71 38.5h3M82 38.5h3M87 38.5h2M95 38.5h2M103 38.5h2M114 38.5h3M121 38.5h11M133 38.5h1M137 38.5h2M6 37.5h1M10 37.5h1M14 37.5h1M17 37.5h1M21 37.5h1M30 37.5h2M33 37.5h1M37 37.5h1M39 37.5h3M43 37.5h2M54 37.5h3M59 37.5h2M92 37.5h1M98 37.5h3M106 37.5h3M116 37.5h1M132 37.5h1M139 37.5h1M6 33.5h1M10 33.5h1M14 33.5h1M17 33.5h1M21 33.5h2M24 33.5h1M30 33.5h2M37 33.5h1M39 33.5h3M43 33.5h2M54 33.5h3M59 33.5h2M92 33.5h1M98 33.5h3M106 33.5h3M116 33.5h1M132 33.5h1M139 33.5h1M6 32.5h1M10 32.5h1M14 32.5h1M17 32.5h1M21 32.5h2M24 32.5h1M30 32.5h2M37 32.5h1M39 32.5h3M43 32.5h2M54 32.5h3M59 32.5h2M92 32.5h1M98 32.5h3M106 32.5h3M116 32.5h1M132 32.5h1M139 32.5h1M6 31.5h1M10 31.5h1M14 31.5h1M17 31.5h1M21 31.5h2M24 31.5h1M30 31.5h2M37 31.5h1M39 31.5h3M43 31.5h2M54 31.5h3M59 31.5h2M92 31.5h1M98 31.5h3M106 31.5h3M116 31.5h1M132 31.5h1M139 31.5h1M6 30.5h1M10 30.5h1M14 30.5h1M17 30.5h1M21 30.5h2M6 29.5h1M10 29.5h1M14 29.5h1M17 29.5h1M21 29.5h2M6 28.5h1M10 28.5h1M14 28.5h1M17 28.5h1M21 28.5h2"/><path stroke="#cc3f71" d="M79 30.5h2M87 30.5h2M95 30.5h2M103 30.5h2M114 30.5h3M122 30.5h5M130 30.5h2M133 30.5h1M137 30.5h2M79 29.5h2M87 29.5h2M95 29.5h2M103 29.5h2M114 29.5h3M122 29.5h5M130 29.5h2M133 29.5h1M137 29.5h2M79 28.5h2M87 28.5h2M95 28.5h2M103 28.5h2M114 28.5h3M120 28.5h1M132 28.5h1M139 28.5h2M70 27.5h5M78 27.5h1M81 27.5h1M85 27.5h2M89 27.5h1M95 27.5h2M111 27.5h2M120 27.5h1M132 27.5h1M139 27.5h2M70 26.5h5M78 26.5h1M81 26.5h1M85 26.5h2M89 26.5h1M95 26.5h2M111 26.5h2M120 26.5h1M132 26.5h1M139 26.5h2M70 25.5h5M78 25.5h1M81 25.5h1M85 25.5h2M89 25.5h1M95 25.5h2M111 25.5h2M120 25.5h1M132 25.5h1M139 25.5h2M71 24.5h3M87 24.5h2M95 24.5h2M111 24.5h2M120 24.5h1M132 24.5h1M139 24.5h2M93 23.5h2M97 23.5h1M101 23.5h2M105 23.5h1M109 23.5h2M113 23.5h1M117 23.5h3M127 23.5h3M93 22.5h2M97 22.5h1M101 22.5h2M105 22.5h1M109 22.5h2M113 22.5h1M117 22.5h3M127 22.5h3M93 21.5h2M97 21.5h1M101 21.5h2M105 21.5h1M109 21.5h2M113 21.5h1M117 21.5h3M127 21.5h3M70 20.5h5M78 20.5h1M81 20.5h1M85 20.5h2M89 20.5h1M111 20.5h2M120 20.5h2M132 20.5h2M139 20.5h3M70 19.5h5M78 19.5h1M81 19.5h1M85 19.5h2M89 19.5h1M111 19.5h2M120 19.5h2M132 19.5h2M139 19.5h3M70 18.5h5M78 18.5h1M81 18.5h1M85 18.5h2M89 18.5h1M111 18.5h2M120 18.5h2M132 18.5h2M139 18.5h3M70 17.5h5M78 17.5h1M81 17.5h1M85 17.5h2M89 17.5h1M111 17.5h2M120 17.5h2M132 17.5h2M139 17.5h3M137 16.5h3M137 15.5h3M137 14.5h3M70 13.5h5M78 13.5h1M81 13.5h1M85 13.5h2M89 13.5h1M111 13.5h2M120 13.5h2M132 13.5h1M140 13.5h2M143 13.5h6M70 12.5h5M78 12.5h1M81 12.5h1M85 12.5h2M89 12.5h1M111 12.5h2M120 12.5h2M132 12.5h1M140 12.5h2M143 12.5h6M122 11.5h1M126 11.5h1M130 11.5h1M133 11.5h1M137 11.5h3M122 10.5h1M126 10.5h1M130 10.5h1M133 10.5h1M137 10.5h3M93 9.5h2M97 9.5h1M101 9.5h2M105 9.5h1M109 9.5h2M113 9.5h1M117 9.5h5M123 9.5h3M131 9.5h2M137 9.5h5M143 9.5h6M70 5.5h1M74 5.5h1M78 5.5h1M81 5.5h1M85 5.5h2M89 5.5h1M93 5.5h2M97 5.5h1M101 5.5h2M105 5.5h1M109 5.5h3M113 5.5h1M117 5.5h5M132 5.5h1M140 5.5h2M143 5.5h6M70 4.5h1M74 4.5h1M78 4.5h1M81 4.5h1M85 4.5h2M89 4.5h1M93 4.5h2M97 4.5h1M101 4.5h2M105 4.5h1M109 4.5h3M113 4.5h1M117 4.5h5M132 4.5h1M140 4.5h2M143 4.5h6M70 3.5h1M74 3.5h1M78 3.5h1M81 3.5h1M85 3.5h2M89 3.5h1M93 3.5h2M97 3.5h1M101 3.5h2M105 3.5h1M109 3.5h3M113 3.5h1M117 3.5h5M132 3.5h1M140 3.5h2M143 3.5h6M70 2.5h1M74 2.5h1M78 2.5h1M81 2.5h1M85 2.5h2M89 2.5h1M93 2.5h2M97 2.5h1M101 2.5h2M105 2.5h1M109 2.5h3M113 2.5h1M117 2.5h5M132 2.5h1M140 2.5h2M143 2.5h6M141 1.5h1M141 0.5h1"/><path stroke="#d5446d" d="M34 30.5h1M38 30.5h1M42 30.5h1M45 30.5h1M49 30.5h5M57 30.5h2M34 29.5h1M38 29.5h1M42 29.5h1M45 29.5h1M49 29.5h5M57 29.5h2M34 28.5h1M38 28.5h1M42 28.5h1M45 28.5h1M49 28.5h5M57 28.5h2"/><path stroke="#dc4869" d="M3 150.5h1M6 150.5h1M8 150.5h1M10 150.5h1M14 150.5h1M17 150.5h1M3 149.5h1M6 149.5h1M8 149.5h1M10 149.5h1M14 149.5h1M17 149.5h1M3 148.5h1M6 148.5h1M8 148.5h1M10 148.5h1M14 148.5h1M17 148.5h1M0 147.5h3M9 147.5h1M15 147.5h1M23 147.5h3M29 147.5h3M34 147.5h1M38 147.5h1M40 147.5h3M45 147.5h1M49 147.5h2M53 147.5h1M57 147.5h2M15 146.5h1M21 146.5h2M30 146.5h2M34 146.5h1M38 146.5h1M40 146.5h3M45 146.5h1M49 146.5h2M53 146.5h1M57 146.5h2M16 145.5h1M19 145.5h1M23 145.5h3M29 145.5h3M34 145.5h1M38 145.5h1M40 145.5h3M45 145.5h1M49 145.5h2M53 145.5h1M57 145.5h2M0 144.5h3M9 144.5h1M27 144.5h2M32 144.5h2M35 144.5h3M51 144.5h2M59 144.5h2M68 144.5h3M73 144.5h2M78 144.5h1M81 144.5h1M85 144.5h5M93 144.5h2M97 144.5h1M101 144.5h2M105 144.5h1M109 144.5h2M113 144.5h1M117 144.5h3M16 143.5h1M19 143.5h1M26 143.5h1M45 143.5h1M53 143.5h1M57 143.5h3M61 143.5h1M65 143.5h4M75 143.5h1M0 142.5h3M15 142.5h1M23 142.5h3M29 142.5h1M45 142.5h1M53 142.5h1M57 142.5h3M61 142.5h1M65 142.5h4M75 142.5h1M6 141.5h1M10 141.5h1M14 141.5h1M0 140.5h3M9 140.5h1M27 140.5h2M32 140.5h2M35 140.5h3M51 140.5h2M59 140.5h2M62 140.5h1M67 140.5h8M78 140.5h1M81 140.5h1M85 140.5h5M93 140.5h2M97 140.5h1M101 140.5h2M105 140.5h1M109 140.5h2M113 140.5h1M117 140.5h3M16 139.5h1M19 139.5h1M29 139.5h1M38 139.5h4M15 138.5h1M38 138.5h4M15 137.5h1M38 137.5h4M0 136.5h3M9 136.5h1M27 136.5h1M35 136.5h2M51 136.5h2M59 136.5h2M62 136.5h1M69 136.5h4M74 136.5h5M81 136.5h1M85 136.5h2M89 136.5h1M93 136.5h2M97 136.5h1M101 136.5h2M105 136.5h1M109 136.5h2M113 136.5h1M117 136.5h3M0 135.5h3M9 135.5h1M28 135.5h1M32 135.5h2M36 135.5h1M53 135.5h1M59 135.5h2M69 135.5h1M75 135.5h1M93 135.5h2M4 134.5h1M7 134.5h1M11 134.5h3M16 134.5h1M19 134.5h1M28 134.5h1M32 134.5h2M36 134.5h1M53 134.5h1M59 134.5h2M69 134.5h1M75 134.5h1M93 134.5h2M11 133.5h3M19 133.5h1M28 133.5h1M37 133.5h1M51 133.5h2M60 133.5h1M62 133.5h1M69 133.5h4M74 133.5h1M76 133.5h3M81 133.5h1M85 133.5h2M89 133.5h1M93 133.5h2M97 133.5h1M101 133.5h2M105 133.5h1M109 133.5h2M113 133.5h1M117 133.5h3M5 132.5h1M8 132.5h1M16 132.5h1M19 132.5h1M28 132.5h1M35 132.5h2M40 132.5h2M53 132.5h1M59 132.5h3M65 132.5h4M5 131.5h1M8 131.5h1M16 131.5h1M19 131.5h1M28 131.5h1M35 131.5h2M40 131.5h2M53 131.5h1M59 131.5h3M65 131.5h4M5 130.5h1M8 130.5h1M16 130.5h1M19 130.5h1M28 130.5h1M35 130.5h2M40 130.5h2M53 130.5h1M59 130.5h3M65 130.5h4M0 129.5h3M9 129.5h1M28 129.5h1M37 129.5h1M51 129.5h2M60 129.5h1M62 129.5h2M69 129.5h4M74 129.5h1M76 129.5h3M81 129.5h1M85 129.5h5M93 129.5h2M97 129.5h1M101 129.5h2M105 129.5h1M109 129.5h2M113 129.5h1M117 129.5h3M0 128.5h3M9 128.5h1M28 128.5h1M37 128.5h1M51 128.5h2M60 128.5h1M62 128.5h2M69 128.5h4M74 128.5h1M76 128.5h3M81 128.5h1M85 128.5h5M93 128.5h2M97 128.5h1M101 128.5h2M105 128.5h1M109 128.5h2M113 128.5h1M117 128.5h3M8 127.5h1M19 127.5h1M33 127.5h1M38 127.5h2M42 127.5h1M45 127.5h1M49 127.5h2M53 127.5h1M57 127.5h5M65 127.5h4M8 126.5h1M19 126.5h1M33 126.5h1M38 126.5h2M42 126.5h1M45 126.5h1M49 126.5h2M53 126.5h1M57 126.5h5M65 126.5h4M11 125.5h3M51 125.5h2M62 125.5h2M69 125.5h1M71 125.5h2M74 125.5h5M81 125.5h1M85 125.5h2M89 125.5h1M93 125.5h2M97 125.5h1M101 125.5h2M105 125.5h1M109 125.5h2M117 125.5h3M26 122.5h3M30 122.5h4M35 122.5h2M11 121.5h3M37 121.5h1M51 121.5h2M59 121.5h2M62 121.5h2M69 121.5h4M74 121.5h5M81 121.5h1M85 121.5h2M89 121.5h1M93 121.5h2M97 121.5h1M101 121.5h2M105 121.5h1M109 121.5h2M113 121.5h1M117 121.5h3M11 120.5h3M62 120.5h2M70 120.5h3M74 120.5h5M81 120.5h1M85 120.5h2M89 120.5h1M11 119.5h3M62 119.5h2M70 119.5h3M74 119.5h5M81 119.5h1M85 119.5h2M89 119.5h1M3 118.5h1M5 118.5h1M8 118.5h1M15 118.5h1M19 118.5h1M39 118.5h1M51 118.5h2M62 118.5h2M3 117.5h1M5 117.5h1M8 117.5h1M15 117.5h1M19 117.5h1M39 117.5h1M51 117.5h2M62 117.5h2M4 116.5h1M7 116.5h1M11 116.5h3M28 116.5h1M32 116.5h2M35 116.5h1M43 116.5h2M54 116.5h3M62 116.5h3M79 116.5h2M113 116.5h1M117 116.5h5M5 115.5h1M8 115.5h1M39 115.5h1M51 115.5h2M62 115.5h2M81 115.5h1M85 115.5h2M5 114.5h1M8 114.5h1M39 114.5h1M51 114.5h2M62 114.5h2M81 114.5h1M85 114.5h2M5 113.5h1M8 113.5h1M39 113.5h1M51 113.5h2M62 113.5h2M81 113.5h1M85 113.5h2M4 112.5h1M7 112.5h1M12 112.5h2M20 112.5h1M32 112.5h2M35 112.5h1M43 112.5h2M54 112.5h3M62 112.5h3M79 112.5h2M113 112.5h1M117 112.5h5M4 111.5h1M7 111.5h1M12 111.5h2M20 111.5h1M23 111.5h3M29 111.5h1M46 111.5h1M68 111.5h3M73 111.5h1M78 111.5h1M85 111.5h4M93 111.5h2M97 111.5h1M101 111.5h2M105 111.5h1M109 111.5h2M4 110.5h1M7 110.5h1M12 110.5h2M20 110.5h1M23 110.5h3M29 110.5h1M46 110.5h1M68 110.5h3M73 110.5h1M78 110.5h1M85 110.5h4M93 110.5h2M97 110.5h1M101 110.5h2M105 110.5h1M109 110.5h2M4 109.5h1M7 109.5h1M12 109.5h2M20 109.5h1M23 109.5h3M29 109.5h1M46 109.5h1M68 109.5h3M73 109.5h1M78 109.5h1M85 109.5h4M93 109.5h2M97 109.5h1M101 109.5h2M105 109.5h1M109 109.5h2M4 108.5h1M7 108.5h1M12 108.5h2M20 108.5h1M23 108.5h3M29 108.5h1M36 108.5h1M46 108.5h2M54 108.5h3M59 108.5h1M62 108.5h3M73 108.5h1M79 108.5h2M87 108.5h2M113 108.5h1M117 108.5h5M15 107.5h2M19 107.5h1M44 107.5h1M75 107.5h3M15 106.5h2M18 106.5h2M44 106.5h1M75 106.5h1M77 106.5h1M4 105.5h1M11 105.5h3M28 105.5h1M32 105.5h2M35 105.5h1M46 105.5h3M54 105.5h3M59 105.5h1M62 105.5h3M73 105.5h1M79 105.5h2M87 105.5h2M90 105.5h2M113 105.5h1M119 105.5h3M15 104.5h2M19 104.5h1M44 104.5h1M76 104.5h1M15 103.5h2M18 103.5h2M43 103.5h2M47 103.5h1M76 103.5h2M15 102.5h2M18 102.5h2M43 102.5h2M47 102.5h1M76 102.5h2M4 101.5h1M7 101.5h1M11 101.5h3M28 101.5h1M32 101.5h2M35 101.5h2M43 101.5h2M48 101.5h1M54 101.5h3M62 101.5h3M73 101.5h1M79 101.5h2M113 101.5h1M117 101.5h5M4 100.5h1M7 100.5h1M11 100.5h3M28 100.5h1M32 100.5h2M35 100.5h2M43 100.5h2M48 100.5h1M54 100.5h3M62 100.5h3M73 100.5h1M79 100.5h2M113 100.5h1M117 100.5h5M5 99.5h1M8 99.5h1M15 99.5h2M19 99.5h1M26 99.5h2M37 99.5h1M43 99.5h2M46 99.5h3M54 99.5h3M59 99.5h2M70 99.5h4M79 99.5h2M87 99.5h3M97 99.5h1M101 99.5h2M105 99.5h1M109 99.5h2M113 99.5h1M117 99.5h3M5 98.5h1M8 98.5h1M15 98.5h2M19 98.5h1M26 98.5h2M37 98.5h1M43 98.5h2M46 98.5h3M54 98.5h3M59 98.5h2M70 98.5h4M79 98.5h2M87 98.5h3M97 98.5h1M101 98.5h2M105 98.5h1M109 98.5h2M113 98.5h1M117 98.5h3M3 97.5h2M7 97.5h1M11 97.5h3M28 97.5h1M32 97.5h2M36 97.5h1M43 97.5h2M46 97.5h3M54 97.5h1M62 97.5h3M73 97.5h1M79 97.5h2M87 97.5h2M90 97.5h2M113 97.5h1M117 97.5h5M21 96.5h2M24 96.5h2M27 96.5h1M29 96.5h1M44 96.5h1M46 96.5h3M55 96.5h2M59 96.5h1M69 96.5h1M74 96.5h1M78 96.5h1M81 96.5h1M85 96.5h2M93 96.5h2M97 96.5h1M101 96.5h2M105 96.5h1M109 96.5h2M21 95.5h2M24 95.5h2M27 95.5h1M29 95.5h1M44 95.5h1M46 95.5h3M55 95.5h2M59 95.5h1M69 95.5h1M74 95.5h1M78 95.5h1M81 95.5h1M85 95.5h2M93 95.5h2M97 95.5h1M101 95.5h2M105 95.5h1M109 95.5h2M21 94.5h2M24 94.5h2M27 94.5h1M29 94.5h1M44 94.5h1M46 94.5h3M55 94.5h2M59 94.5h1M69 94.5h1M74 94.5h1M78 94.5h1M81 94.5h1M85 94.5h2M93 94.5h2M97 94.5h1M101 94.5h2M105 94.5h1M109 94.5h2M3 93.5h1M5 93.5h1M8 93.5h1M15 93.5h2M26 93.5h1M28 93.5h1M32 93.5h2M36 93.5h1M43 93.5h2M46 93.5h3M54 93.5h1M62 93.5h3M73 93.5h1M79 93.5h2M90 93.5h2M113 93.5h1M119 93.5h3M3 92.5h1M5 92.5h1M8 92.5h1M15 92.5h2M26 92.5h1M28 92.5h1M32 92.5h2M36 92.5h1M43 92.5h2M46 92.5h3M54 92.5h1M62 92.5h3M73 92.5h1M79 92.5h2M90 92.5h2M113 92.5h1M119 92.5h3M10 91.5h1M14 91.5h1M19 91.5h1M28 91.5h1M33 91.5h1M36 91.5h1M39 91.5h1M54 91.5h3M81 91.5h1M117 91.5h3M6 90.5h1M10 90.5h1M14 90.5h1M17 90.5h1M26 90.5h2M33 90.5h1M36 90.5h2M54 90.5h3M70 90.5h1M74 90.5h1M78 90.5h1M81 90.5h1M85 90.5h2M89 90.5h1M93 90.5h2M101 90.5h2M109 90.5h2M8 89.5h1M19 89.5h1M26 89.5h1M32 89.5h1M43 89.5h2M46 89.5h3M73 89.5h1M79 89.5h2M87 89.5h2M90 89.5h2M95 89.5h2M103 89.5h2M111 89.5h2M117 89.5h5M23 88.5h5M30 88.5h2M33 88.5h2M36 88.5h3M42 88.5h1M45 88.5h1M49 88.5h4M55 88.5h4M69 88.5h1M23 87.5h5M30 87.5h2M33 87.5h2M36 87.5h3M42 87.5h1M45 87.5h1M49 87.5h4M55 87.5h4M69 87.5h1M23 86.5h5M30 86.5h2M33 86.5h2M36 86.5h3M42 86.5h1M45 86.5h1M49 86.5h4M55 86.5h4M69 86.5h1M3 85.5h3M7 85.5h1M15 85.5h2M28 85.5h1M32 85.5h1M43 85.5h2M46 85.5h3M79 85.5h2M87 85.5h2M95 85.5h2M103 85.5h2M111 85.5h2M117 85.5h5M3 84.5h3M7 84.5h1M15 84.5h2M28 84.5h1M32 84.5h1M43 84.5h2M46 84.5h3M79 84.5h2M87 84.5h2M95 84.5h2M103 84.5h2M111 84.5h2M117 84.5h5M3 83.5h3M7 83.5h1M15 83.5h2M28 83.5h1M32 83.5h1M43 83.5h2M46 83.5h3M79 83.5h2M87 83.5h2M95 83.5h2M103 83.5h2M111 83.5h2M117 83.5h5M6 82.5h1M10 82.5h1M14 82.5h1M26 82.5h1M36 82.5h1M47 82.5h2M62 82.5h1M64 82.5h1M72 82.5h1M75 82.5h1M77 82.5h1M79 82.5h2M87 82.5h1M97 82.5h1M105 82.5h1M113 82.5h1M117 82.5h5M6 81.5h1M10 81.5h1M14 81.5h1M26 81.5h1M36 81.5h1M47 81.5h2M62 81.5h1M64 81.5h1M72 81.5h1M75 81.5h1M77 81.5h1M79 81.5h2M87 81.5h1M97 81.5h1M105 81.5h1M113 81.5h1M117 81.5h5M33 80.5h1M37 80.5h1M51 80.5h2M60 80.5h1M82 80.5h3M95 80.5h2M103 80.5h2M111 80.5h2M131 80.5h1M137 80.5h3M33 79.5h1M37 79.5h1M51 79.5h2M60 79.5h1M75 79.5h3M82 79.5h3M87 79.5h2M90 79.5h2M95 79.5h2M103 79.5h2M111 79.5h2M122 79.5h5M130 79.5h1M133 79.5h1M137 79.5h2M33 78.5h1M37 78.5h1M51 78.5h2M60 78.5h1M75 78.5h3M82 78.5h3M87 78.5h2M90 78.5h2M95 78.5h2M103 78.5h2M111 78.5h2M122 78.5h5M130 78.5h1M133 78.5h1M137 78.5h2M33 77.5h1M37 77.5h1M51 77.5h2M60 77.5h1M75 77.5h3M82 77.5h3M87 77.5h2M90 77.5h2M95 77.5h2M103 77.5h2M111 77.5h2M122 77.5h5M130 77.5h1M133 77.5h1M137 77.5h2M6 76.5h1M10 76.5h1M14 76.5h1M17 76.5h1M21 76.5h2M33 76.5h1M37 76.5h1M39 76.5h3M43 76.5h2M46 76.5h2M51 76.5h2M60 76.5h1M83 76.5h2M95 76.5h2M103 76.5h2M111 76.5h2M123 76.5h4M131 76.5h1M133 76.5h1M137 76.5h3M3 75.5h1M5 75.5h1M8 75.5h1M16 75.5h1M19 75.5h1M24 75.5h2M29 75.5h3M37 75.5h1M48 75.5h1M51 75.5h2M68 75.5h2M72 75.5h2M89 75.5h3M97 75.5h1M105 75.5h1M113 75.5h1M117 75.5h3M127 75.5h3M3 74.5h1M5 74.5h1M8 74.5h1M16 74.5h1M19 74.5h1M24 74.5h2M29 74.5h3M37 74.5h1M48 74.5h1M51 74.5h2M68 74.5h2M72 74.5h2M89 74.5h3M97 74.5h1M105 74.5h1M113 74.5h1M117 74.5h3M127 74.5h3M3 73.5h1M5 73.5h1M8 73.5h1M16 73.5h1M19 73.5h1M24 73.5h2M29 73.5h3M37 73.5h1M48 73.5h1M51 73.5h2M68 73.5h2M72 73.5h2M89 73.5h3M97 73.5h1M105 73.5h1M113 73.5h1M117 73.5h3M127 73.5h3M6 72.5h1M10 72.5h1M14 72.5h1M16 72.5h2M19 72.5h1M21 72.5h2M33 72.5h1M39 72.5h3M43 72.5h2M46 72.5h3M51 72.5h2M59 72.5h2M82 72.5h3M95 72.5h2M103 72.5h2M111 72.5h2M124 72.5h2M131 72.5h1M133 72.5h1M137 72.5h3M6 71.5h1M10 71.5h1M14 71.5h1M17 71.5h1M21 71.5h2M33 71.5h1M39 71.5h3M43 71.5h2M46 71.5h2M51 71.5h2M65 71.5h5M79 71.5h2M111 71.5h2M121 71.5h6M130 71.5h1M133 71.5h1M137 71.5h2M6 70.5h1M10 70.5h1M14 70.5h1M17 70.5h1M21 70.5h2M33 70.5h1M39 70.5h3M43 70.5h2M46 70.5h2M51 70.5h2M65 70.5h5M79 70.5h2M111 70.5h2M121 70.5h6M130 70.5h1M133 70.5h1M137 70.5h2M6 69.5h1M10 69.5h1M14 69.5h1M17 69.5h1M21 69.5h2M33 69.5h1M39 69.5h3M43 69.5h2M46 69.5h2M51 69.5h2M60 69.5h1M83 69.5h2M124 69.5h2M131 69.5h1M133 69.5h1M137 69.5h3M34 68.5h1M38 68.5h1M42 68.5h4M49 68.5h2M53 68.5h1M57 68.5h2M60 68.5h1M90 68.5h2M97 68.5h1M105 68.5h1M110 68.5h1M113 68.5h1M120 68.5h2M126 68.5h4M34 67.5h1M38 67.5h1M42 67.5h4M49 67.5h2M53 67.5h1M57 67.5h2M70 67.5h1M72 67.5h7M80 67.5h2M85 67.5h7M97 67.5h1M105 67.5h1M110 67.5h1M113 67.5h1M120 67.5h2M126 67.5h4M70 66.5h1M72 66.5h7M80 66.5h2M85 66.5h5M6 65.5h1M10 65.5h1M14 65.5h1M17 65.5h1M21 65.5h2M37 65.5h1M39 65.5h3M43 65.5h2M55 65.5h2M59 65.5h2M82 65.5h3M90 65.5h2M96 65.5h1M103 65.5h2M112 65.5h1M124 65.5h2M130 65.5h2M133 65.5h1M137 65.5h3M6 64.5h1M10 64.5h1M14 64.5h1M17 64.5h1M21 64.5h2M37 64.5h1M39 64.5h3M43 64.5h2M55 64.5h2M59 64.5h2M82 64.5h3M90 64.5h2M96 64.5h1M103 64.5h2M112 64.5h1M124 64.5h2M130 64.5h2M133 64.5h1M137 64.5h3M34 63.5h1M38 63.5h1M42 63.5h1M45 63.5h1M49 63.5h2M54 63.5h7M65 63.5h5M71 63.5h3M75 63.5h1M98 63.5h2M106 63.5h2M112 63.5h1M120 63.5h2M127 63.5h2M34 62.5h1M38 62.5h1M42 62.5h1M45 62.5h1M49 62.5h2M54 62.5h7M65 62.5h5M71 62.5h3M75 62.5h1M98 62.5h2M106 62.5h2M112 62.5h1M120 62.5h2M127 62.5h2M6 61.5h1M10 61.5h1M14 61.5h1M17 61.5h1M21 61.5h2M39 61.5h3M55 61.5h2M59 61.5h2M82 61.5h3M90 61.5h2M122 61.5h9M133 61.5h1M137 61.5h3M51 60.5h1M79 60.5h2M82 60.5h2M95 60.5h2M98 60.5h1M103 60.5h2M106 60.5h1M51 59.5h1M79 59.5h2M82 59.5h2M95 59.5h2M98 59.5h1M103 59.5h2M106 59.5h1M51 58.5h1M79 58.5h2M82 58.5h2M95 58.5h2M98 58.5h1M103 58.5h2M106 58.5h1M6 57.5h1M10 57.5h1M14 57.5h1M17 57.5h1M21 57.5h2M24 57.5h1M37 57.5h1M39 57.5h3M43 57.5h2M54 57.5h3M59 57.5h2M82 57.5h3M90 57.5h2M114 57.5h2M123 57.5h9M133 57.5h1M137 57.5h2M6 56.5h1M10 56.5h1M14 56.5h1M17 56.5h1M21 56.5h2M24 56.5h1M37 56.5h1M39 56.5h3M43 56.5h2M54 56.5h3M59 56.5h2M82 56.5h3M90 56.5h2M114 56.5h2M123 56.5h9M133 56.5h1M137 56.5h2M51 55.5h9M61 55.5h1M65 55.5h10M81 55.5h6M89 55.5h1M98 55.5h2M106 55.5h2M120 55.5h2M51 54.5h9M61 54.5h1M65 54.5h10M81 54.5h6M89 54.5h1M98 54.5h2M106 54.5h2M120 54.5h2M37 53.5h1M39 53.5h3M54 53.5h3M59 53.5h1M75 53.5h3M82 53.5h3M90 53.5h2M114 53.5h2M122 53.5h10M133 53.5h1M137 53.5h2M37 49.5h1M39 49.5h3M54 49.5h3M59 49.5h1M76 49.5h2M82 49.5h3M90 49.5h2M114 49.5h2M122 49.5h10M133 49.5h1M137 49.5h2M37 48.5h1M39 48.5h3M54 48.5h3M59 48.5h1M76 48.5h2M82 48.5h3M90 48.5h2M114 48.5h2M122 48.5h10M133 48.5h1M137 48.5h2M70 47.5h1M74 47.5h1M78 47.5h4M85 47.5h2M89 47.5h1M98 47.5h2M106 47.5h1M70 46.5h1M74 46.5h1M78 46.5h4M85 46.5h2M89 46.5h1M98 46.5h2M106 46.5h1M39 45.5h3M51 45.5h2M65 45.5h5M75 45.5h3M82 45.5h3M90 45.5h2M114 45.5h2M122 45.5h10M133 45.5h1M137 45.5h2M93 44.5h5M101 44.5h5M109 44.5h5M117 44.5h3M93 43.5h5M101 43.5h5M109 43.5h5M117 43.5h3M93 42.5h5M101 42.5h5M109 42.5h5M117 42.5h3M39 41.5h3M51 41.5h2M65 41.5h5M75 41.5h3M82 41.5h3M90 41.5h2M114 41.5h2M122 41.5h10M133 41.5h1M137 41.5h2M39 40.5h3M51 40.5h2M65 40.5h5M75 40.5h3M82 40.5h3M90 40.5h2M114 40.5h2M122 40.5h10M133 40.5h1M137 40.5h2M70 39.5h1M74 39.5h1M78 39.5h4M85 39.5h2M89 39.5h1M93 39.5h2M97 39.5h1M101 39.5h2M105 39.5h1M109 39.5h5M117 39.5h4M70 38.5h1M74 38.5h1M78 38.5h4M85 38.5h2M89 38.5h1M93 38.5h2M97 38.5h1M101 38.5h2M105 38.5h1M109 38.5h5M117 38.5h4M34 37.5h1M38 37.5h1M42 37.5h1M45 37.5h1M49 37.5h5M57 37.5h2M65 37.5h5M75 37.5h3M82 37.5h3M90 37.5h2M114 37.5h2M122 37.5h10M133 37.5h1M137 37.5h2M49 33.5h4M65 33.5h5M75 33.5h3M82 33.5h3M90 33.5h2M114 33.5h2M122 33.5h10M133 33.5h1M137 33.5h2M49 32.5h4M65 32.5h5M75 32.5h3M82 32.5h3M90 32.5h2M114 32.5h2M122 32.5h10M133 32.5h1M137 32.5h2M49 31.5h4M65 31.5h5M75 31.5h3M82 31.5h3M90 31.5h2M114 31.5h2M122 31.5h10M133 31.5h1M137 31.5h2"/><path stroke="#ea5661" d="M70 30.5h5M78 30.5h1M81 30.5h1M85 30.5h2M89 30.5h1M111 30.5h2M120 30.5h2M70 29.5h5M78 29.5h1M81 29.5h1M85 29.5h2M89 29.5h1M111 29.5h2M120 29.5h2M70 28.5h5M78 28.5h1M81 28.5h1M85 28.5h2M89 28.5h1M111 28.5h2M121 28.5h2M125 28.5h2M130 28.5h2M133 28.5h1M137 28.5h2M93 27.5h2M97 27.5h1M101 27.5h2M105 27.5h1M109 27.5h2M113 27.5h1M117 27.5h3M121 27.5h2M125 27.5h2M130 27.5h2M133 27.5h1M137 27.5h2M93 26.5h2M97 26.5h1M101 26.5h2M105 26.5h1M109 26.5h2M113 26.5h1M117 26.5h3M121 26.5h2M125 26.5h2M130 26.5h2M133 26.5h1M137 26.5h2M93 25.5h2M97 25.5h1M101 25.5h2M105 25.5h1M109 25.5h2M113 25.5h1M117 25.5h3M121 25.5h2M125 25.5h2M130 25.5h2M133 25.5h1M137 25.5h2M70 24.5h1M74 24.5h1M78 24.5h1M81 24.5h1M85 24.5h2M89 24.5h1M93 24.5h2M97 24.5h1M101 24.5h2M105 24.5h1M109 24.5h2M113 24.5h1M117 24.5h3M121 24.5h2M125 24.5h2M130 24.5h2M133 24.5h1M137 24.5h2M93 20.5h2M97 20.5h1M101 20.5h2M105 20.5h1M109 20.5h2M113 20.5h1M117 20.5h3M122 20.5h5M130 20.5h2M137 20.5h2M93 19.5h2M97 19.5h1M101 19.5h2M105 19.5h1M109 19.5h2M113 19.5h1M117 19.5h3M122 19.5h5M130 19.5h2M137 19.5h2M93 18.5h2M97 18.5h1M101 18.5h2M105 18.5h1M109 18.5h2M113 18.5h1M117 18.5h3M122 18.5h5M130 18.5h2M137 18.5h2M93 17.5h2M97 17.5h1M101 17.5h2M105 17.5h1M109 17.5h2M113 17.5h1M117 17.5h3M122 17.5h5M130 17.5h2M137 17.5h2M93 13.5h2M97 13.5h1M101 13.5h2M105 13.5h1M109 13.5h2M113 13.5h1M117 13.5h3M122 13.5h5M130 13.5h2M133 13.5h1M137 13.5h3M93 12.5h2M97 12.5h1M101 12.5h2M105 12.5h1M109 12.5h2M113 12.5h1M117 12.5h3M122 12.5h5M130 12.5h2M133 12.5h1M137 12.5h3M122 9.5h1M126 9.5h1M130 9.5h1M133 9.5h1M122 5.5h5M130 5.5h2M133 5.5h1M137 5.5h3M122 4.5h5M130 4.5h2M133 4.5h1M137 4.5h3M122 3.5h5M130 3.5h2M133 3.5h1M137 3.5h3M122 2.5h5M130 2.5h2M133 2.5h1M137 2.5h3M149 1.5h2M149 0.5h2"/><path stroke="#f7705c" d="M5 150.5h1M7 150.5h1M5 149.5h1M7 149.5h1M5 148.5h1M7 148.5h1M17 147.5h1M21 147.5h2M39 147.5h1M6 146.5h1M12 146.5h3M17 146.5h1M39 146.5h1M0 145.5h3M15 145.5h1M39 145.5h1M16 144.5h1M19 144.5h1M26 144.5h1M53 144.5h1M65 144.5h3M75 144.5h3M0 143.5h3M15 143.5h1M23 143.5h3M29 143.5h3M34 143.5h1M38 143.5h5M49 143.5h2M17 142.5h1M21 142.5h2M30 142.5h2M34 142.5h1M38 142.5h5M49 142.5h2M1 141.5h4M16 140.5h1M19 140.5h1M26 140.5h1M53 140.5h1M65 140.5h2M75 140.5h3M0 139.5h3M15 139.5h1M23 139.5h3M17 138.5h1M21 138.5h2M17 137.5h1M21 137.5h2M16 136.5h1M19 136.5h1M26 136.5h1M32 136.5h2M49 136.5h2M53 136.5h1M57 136.5h2M67 136.5h2M16 135.5h1M19 135.5h1M27 135.5h1M40 135.5h2M45 135.5h1M49 135.5h2M57 135.5h2M61 135.5h1M65 135.5h4M3 134.5h1M5 134.5h1M8 134.5h1M15 134.5h1M27 134.5h1M40 134.5h2M45 134.5h1M49 134.5h2M57 134.5h2M61 134.5h1M65 134.5h4M4 133.5h1M7 133.5h1M15 133.5h2M27 133.5h1M35 133.5h2M53 133.5h1M59 133.5h1M68 133.5h1M75 133.5h1M6 132.5h1M10 132.5h1M14 132.5h1M17 132.5h1M26 132.5h2M32 132.5h3M38 132.5h2M42 132.5h1M45 132.5h1M49 132.5h2M57 132.5h2M6 131.5h1M10 131.5h1M14 131.5h1M17 131.5h1M26 131.5h2M32 131.5h3M38 131.5h2M42 131.5h1M45 131.5h1M49 131.5h2M57 131.5h2M6 130.5h1M10 130.5h1M14 130.5h1M17 130.5h1M26 130.5h2M32 130.5h3M38 130.5h2M42 130.5h1M45 130.5h1M49 130.5h2M57 130.5h2M4 129.5h1M7 129.5h1M11 129.5h3M19 129.5h1M27 129.5h1M35 129.5h2M53 129.5h1M59 129.5h1M65 129.5h4M75 129.5h1M4 128.5h1M7 128.5h1M11 128.5h3M19 128.5h1M27 128.5h1M35 128.5h2M53 128.5h1M59 128.5h1M65 128.5h4M75 128.5h1M6 127.5h1M10 127.5h1M14 127.5h1M17 127.5h1M28 127.5h1M34 127.5h1M6 126.5h1M10 126.5h1M14 126.5h1M17 126.5h1M28 126.5h1M34 126.5h1M3 125.5h3M7 125.5h1M15 125.5h2M19 125.5h1M28 125.5h1M37 125.5h1M40 125.5h2M59 125.5h2M67 125.5h2M23 124.5h9M36 124.5h1M23 123.5h9M36 123.5h1M3 121.5h2M7 121.5h1M15 121.5h2M19 121.5h1M28 121.5h1M35 121.5h2M40 121.5h2M68 121.5h1M3 120.5h2M7 120.5h1M15 120.5h2M19 120.5h1M28 120.5h1M37 120.5h1M39 120.5h3M51 120.5h2M59 120.5h2M68 120.5h2M3 119.5h2M7 119.5h1M15 119.5h2M19 119.5h1M28 119.5h1M37 119.5h1M39 119.5h3M51 119.5h2M59 119.5h2M68 119.5h2M6 118.5h1M10 118.5h1M14 118.5h1M17 118.5h1M37 118.5h1M42 118.5h1M45 118.5h1M49 118.5h2M53 118.5h1M57 118.5h5M68 118.5h2M6 117.5h1M10 117.5h1M14 117.5h1M17 117.5h1M37 117.5h1M42 117.5h1M45 117.5h1M49 117.5h2M53 117.5h1M57 117.5h5M68 117.5h2M3 116.5h1M5 116.5h1M8 116.5h1M15 116.5h2M19 116.5h1M26 116.5h2M36 116.5h1M60 116.5h1M69 116.5h5M78 116.5h1M87 116.5h3M93 116.5h2M97 116.5h1M101 116.5h2M105 116.5h1M109 116.5h2M6 115.5h1M10 115.5h1M14 115.5h1M17 115.5h1M21 115.5h2M27 115.5h1M30 115.5h2M49 115.5h2M53 115.5h1M57 115.5h4M68 115.5h2M6 114.5h1M10 114.5h1M14 114.5h1M17 114.5h1M21 114.5h2M27 114.5h1M30 114.5h2M49 114.5h2M53 114.5h1M57 114.5h4M68 114.5h2M6 113.5h1M10 113.5h1M14 113.5h1M17 113.5h1M21 113.5h2M27 113.5h1M30 113.5h2M49 113.5h2M53 113.5h1M57 113.5h4M68 113.5h2M3 112.5h1M5 112.5h1M8 112.5h1M11 112.5h1M18 112.5h2M23 112.5h6M30 112.5h2M36 112.5h1M59 112.5h2M69 112.5h5M78 112.5h1M87 112.5h3M93 112.5h2M97 112.5h1M101 112.5h2M105 112.5h1M109 112.5h2M3 111.5h1M5 111.5h1M8 111.5h1M11 111.5h1M18 111.5h2M30 111.5h2M45 111.5h1M53 111.5h1M57 111.5h2M61 111.5h1M65 111.5h3M74 111.5h1M81 111.5h1M3 110.5h1M5 110.5h1M8 110.5h1M11 110.5h1M18 110.5h2M30 110.5h2M45 110.5h1M53 110.5h1M57 110.5h2M61 110.5h1M65 110.5h3M74 110.5h1M81 110.5h1M3 109.5h1M5 109.5h1M8 109.5h1M11 109.5h1M18 109.5h2M30 109.5h2M45 109.5h1M53 109.5h1M57 109.5h2M61 109.5h1M65 109.5h3M74 109.5h1M81 109.5h1M3 108.5h1M5 108.5h1M8 108.5h1M11 108.5h1M18 108.5h2M37 108.5h1M43 108.5h2M51 108.5h2M60 108.5h1M68 108.5h5M78 108.5h1M85 108.5h2M89 108.5h1M93 108.5h2M97 108.5h1M101 108.5h2M105 108.5h1M109 108.5h2M18 107.5h1M43 107.5h1M46 107.5h1M43 106.5h1M46 106.5h1M76 106.5h1M3 105.5h1M5 105.5h1M7 105.5h1M15 105.5h1M19 105.5h1M26 105.5h2M30 105.5h2M36 105.5h1M43 105.5h2M60 105.5h1M70 105.5h3M78 105.5h1M89 105.5h1M93 105.5h2M97 105.5h1M101 105.5h2M105 105.5h1M109 105.5h2M117 105.5h2M18 104.5h1M43 104.5h1M46 104.5h1M46 103.5h1M46 102.5h1M3 101.5h1M5 101.5h1M8 101.5h1M15 101.5h2M19 101.5h1M26 101.5h2M37 101.5h1M59 101.5h2M70 101.5h3M78 101.5h1M87 101.5h3M93 101.5h2M97 101.5h1M101 101.5h2M105 101.5h1M109 101.5h2M3 100.5h1M5 100.5h1M8 100.5h1M15 100.5h2M19 100.5h1M26 100.5h2M37 100.5h1M59 100.5h2M70 100.5h3M78 100.5h1M87 100.5h3M93 100.5h2M97 100.5h1M101 100.5h2M105 100.5h1M109 100.5h2M6 99.5h1M10 99.5h1M14 99.5h1M17 99.5h1M21 99.5h5M29 99.5h3M69 99.5h1M74 99.5h1M77 99.5h2M81 99.5h1M85 99.5h2M93 99.5h2M6 98.5h1M10 98.5h1M14 98.5h1M17 98.5h1M21 98.5h5M29 98.5h3M69 98.5h1M74 98.5h1M77 98.5h2M81 98.5h1M85 98.5h2M93 98.5h2M5 97.5h1M8 97.5h1M15 97.5h2M19 97.5h1M26 97.5h2M30 97.5h2M37 97.5h1M55 97.5h2M59 97.5h2M70 97.5h3M78 97.5h1M85 97.5h2M89 97.5h1M93 97.5h2M97 97.5h1M101 97.5h2M105 97.5h1M109 97.5h2M34 96.5h1M38 96.5h5M45 96.5h1M51 96.5h2M61 96.5h1M65 96.5h4M75 96.5h3M34 95.5h1M38 95.5h5M45 95.5h1M51 95.5h2M61 95.5h1M65 95.5h4M75 95.5h3M34 94.5h1M38 94.5h5M45 94.5h1M51 94.5h2M61 94.5h1M65 94.5h4M75 94.5h3M6 93.5h1M10 93.5h1M14 93.5h1M19 93.5h1M27 93.5h1M37 93.5h1M55 93.5h2M60 93.5h1M70 93.5h3M87 93.5h3M93 93.5h2M97 93.5h1M101 93.5h2M105 93.5h1M109 93.5h2M117 93.5h2M6 92.5h1M10 92.5h1M14 92.5h1M19 92.5h1M27 92.5h1M37 92.5h1M55 92.5h2M60 92.5h1M70 92.5h3M87 92.5h3M93 92.5h2M97 92.5h1M101 92.5h2M105 92.5h1M109 92.5h2M117 92.5h2M6 91.5h1M17 91.5h1M21 91.5h7M29 91.5h3M37 91.5h1M51 91.5h2M62 91.5h3M69 91.5h1M21 90.5h3M25 90.5h1M29 90.5h3M51 90.5h2M62 90.5h3M68 90.5h2M6 89.5h1M10 89.5h1M14 89.5h1M27 89.5h1M33 89.5h1M36 89.5h2M39 89.5h3M54 89.5h3M62 89.5h3M70 89.5h3M74 89.5h5M81 89.5h1M85 89.5h2M89 89.5h1M93 89.5h2M97 89.5h1M101 89.5h2M105 89.5h1M109 89.5h2M113 89.5h1M53 88.5h1M61 88.5h1M67 88.5h2M53 87.5h1M61 87.5h1M67 87.5h2M53 86.5h1M61 86.5h1M67 86.5h2M8 85.5h1M14 85.5h1M19 85.5h1M26 85.5h2M33 85.5h1M36 85.5h2M54 85.5h3M62 85.5h3M70 85.5h5M76 85.5h3M81 85.5h1M85 85.5h2M89 85.5h1M93 85.5h2M97 85.5h1M101 85.5h2M105 85.5h1M109 85.5h2M113 85.5h1M8 84.5h1M14 84.5h1M19 84.5h1M26 84.5h2M33 84.5h1M36 84.5h2M54 84.5h3M62 84.5h3M70 84.5h5M76 84.5h3M81 84.5h1M85 84.5h2M89 84.5h1M93 84.5h2M97 84.5h1M101 84.5h2M105 84.5h1M109 84.5h2M113 84.5h1M8 83.5h1M14 83.5h1M19 83.5h1M26 83.5h2M33 83.5h1M36 83.5h2M54 83.5h3M62 83.5h3M70 83.5h5M76 83.5h3M81 83.5h1M85 83.5h2M89 83.5h1M93 83.5h2M97 83.5h1M101 83.5h2M105 83.5h1M109 83.5h2M113 83.5h1M17 82.5h1M21 82.5h5M27 82.5h1M29 82.5h3M33 82.5h1M37 82.5h1M39 82.5h3M54 82.5h3M59 82.5h1M63 82.5h1M70 82.5h2M73 82.5h2M76 82.5h1M78 82.5h1M81 82.5h1M85 82.5h2M89 82.5h1M93 82.5h2M101 82.5h2M109 82.5h2M17 81.5h1M21 81.5h5M27 81.5h1M29 81.5h3M33 81.5h1M37 81.5h1M39 81.5h3M54 81.5h3M59 81.5h1M63 81.5h1M70 81.5h2M73 81.5h2M76 81.5h1M78 81.5h1M81 81.5h1M85 81.5h2M89 81.5h1M93 81.5h2M101 81.5h2M109 81.5h2M34 80.5h1M38 80.5h1M42 80.5h1M45 80.5h1M49 80.5h2M53 80.5h1M57 80.5h2M65 80.5h5M79 80.5h2M90 80.5h2M121 80.5h10M133 80.5h1M34 79.5h1M38 79.5h1M42 79.5h1M45 79.5h1M49 79.5h2M53 79.5h1M57 79.5h2M61 79.5h1M65 79.5h5M79 79.5h2M120 79.5h2M34 78.5h1M38 78.5h1M42 78.5h1M45 78.5h1M49 78.5h2M53 78.5h1M57 78.5h2M61 78.5h1M65 78.5h5M79 78.5h2M120 78.5h2M34 77.5h1M38 77.5h1M42 77.5h1M45 77.5h1M49 77.5h2M53 77.5h1M57 77.5h2M61 77.5h1M65 77.5h5M79 77.5h2M120 77.5h2M38 76.5h1M42 76.5h1M45 76.5h1M53 76.5h1M57 76.5h2M65 76.5h5M79 76.5h2M90 76.5h2M121 76.5h2M127 76.5h4M6 75.5h1M10 75.5h1M14 75.5h2M17 75.5h1M21 75.5h2M33 75.5h1M46 75.5h2M57 75.5h2M61 75.5h1M65 75.5h3M70 75.5h1M74 75.5h1M78 75.5h1M81 75.5h1M85 75.5h4M93 75.5h2M101 75.5h2M109 75.5h2M6 74.5h1M10 74.5h1M14 74.5h2M17 74.5h1M21 74.5h2M33 74.5h1M46 74.5h2M57 74.5h2M61 74.5h1M65 74.5h3M70 74.5h1M74 74.5h1M78 74.5h1M81 74.5h1M85 74.5h4M93 74.5h2M101 74.5h2M109 74.5h2M6 73.5h1M10 73.5h1M14 73.5h2M17 73.5h1M21 73.5h2M33 73.5h1M46 73.5h2M57 73.5h2M61 73.5h1M65 73.5h3M70 73.5h1M74 73.5h1M78 73.5h1M81 73.5h1M85 73.5h4M93 73.5h2M101 73.5h2M109 73.5h2M38 72.5h1M53 72.5h1M57 72.5h2M65 72.5h5M79 72.5h2M90 72.5h2M121 72.5h3M126 72.5h5M34 71.5h1M38 71.5h1M42 71.5h1M45 71.5h1M49 71.5h2M53 71.5h1M57 71.5h2M61 71.5h1M71 71.5h2M90 71.5h2M97 71.5h1M105 71.5h1M113 71.5h1M120 71.5h1M127 71.5h3M34 70.5h1M38 70.5h1M42 70.5h1M45 70.5h1M49 70.5h2M53 70.5h1M57 70.5h2M61 70.5h1M71 70.5h2M90 70.5h2M97 70.5h1M105 70.5h1M113 70.5h1M120 70.5h1M127 70.5h3M34 69.5h1M38 69.5h1M42 69.5h1M45 69.5h1M49 69.5h2M53 69.5h1M57 69.5h2M65 69.5h5M76 69.5h2M79 69.5h2M90 69.5h2M95 69.5h2M103 69.5h2M111 69.5h2M121 69.5h3M126 69.5h5M61 68.5h1M65 68.5h5M73 68.5h1M75 68.5h3M79 68.5h3M85 68.5h5M93 68.5h2M101 68.5h2M109 68.5h1M117 68.5h3M93 67.5h2M101 67.5h2M109 67.5h1M117 67.5h3M34 65.5h1M38 65.5h1M42 65.5h1M45 65.5h1M49 65.5h5M57 65.5h2M65 65.5h5M75 65.5h3M79 65.5h2M95 65.5h1M111 65.5h1M121 65.5h3M126 65.5h4M34 64.5h1M38 64.5h1M42 64.5h1M45 64.5h1M49 64.5h5M57 64.5h2M65 64.5h5M75 64.5h3M79 64.5h2M95 64.5h1M111 64.5h1M121 64.5h3M126 64.5h4M51 63.5h3M61 63.5h1M70 63.5h1M74 63.5h1M78 63.5h1M82 63.5h1M84 63.5h3M89 63.5h1M93 63.5h1M95 63.5h3M101 63.5h1M103 63.5h3M109 63.5h3M113 63.5h1M117 63.5h3M51 62.5h3M61 62.5h1M70 62.5h1M74 62.5h1M78 62.5h1M82 62.5h1M84 62.5h3M89 62.5h1M93 62.5h1M95 62.5h3M101 62.5h1M103 62.5h3M109 62.5h3M113 62.5h1M117 62.5h3M34 61.5h1M38 61.5h1M42 61.5h1M45 61.5h1M49 61.5h5M57 61.5h2M75 61.5h3M95 61.5h2M103 61.5h2M111 61.5h2M120 61.5h2M34 57.5h1M38 57.5h1M42 57.5h1M45 57.5h1M49 57.5h5M57 57.5h2M65 57.5h5M75 57.5h3M87 57.5h2M95 57.5h2M103 57.5h2M112 57.5h1M122 57.5h1M34 56.5h1M38 56.5h1M42 56.5h1M45 56.5h1M49 56.5h5M57 56.5h2M65 56.5h5M75 56.5h3M87 56.5h2M95 56.5h2M103 56.5h2M112 56.5h1M122 56.5h1M78 55.5h3M93 55.5h5M101 55.5h5M109 55.5h5M117 55.5h3M78 54.5h3M93 54.5h5M101 54.5h5M109 54.5h5M117 54.5h3M34 53.5h1M38 53.5h1M42 53.5h1M45 53.5h1M49 53.5h5M57 53.5h2M61 53.5h1M65 53.5h5M71 53.5h3M79 53.5h2M87 53.5h2M95 53.5h2M103 53.5h2M111 53.5h2M121 53.5h1M34 49.5h1M38 49.5h1M42 49.5h1M45 49.5h1M49 49.5h5M57 49.5h2M61 49.5h1M65 49.5h5M75 49.5h1M87 49.5h2M95 49.5h2M103 49.5h2M111 49.5h2M121 49.5h1M34 48.5h1M38 48.5h1M42 48.5h1M45 48.5h1M49 48.5h5M57 48.5h2M61 48.5h1M65 48.5h5M75 48.5h1M87 48.5h2M95 48.5h2M103 48.5h2M111 48.5h2M121 48.5h1M93 47.5h5M101 47.5h5M109 47.5h5M117 47.5h3M93 46.5h5M101 46.5h5M109 46.5h5M117 46.5h3M34 45.5h1M38 45.5h1M42 45.5h1M45 45.5h1M49 45.5h2M53 45.5h1M57 45.5h2M61 45.5h1M71 45.5h3M79 45.5h2M87 45.5h2M95 45.5h2M103 45.5h2M111 45.5h2M121 45.5h1M34 41.5h1M38 41.5h1M42 41.5h1M45 41.5h1M49 41.5h2M53 41.5h1M57 41.5h2M61 41.5h1M71 41.5h3M79 41.5h2M87 41.5h2M95 41.5h2M103 41.5h2M111 41.5h2M121 41.5h1M34 40.5h1M38 40.5h1M42 40.5h1M45 40.5h1M49 40.5h2M53 40.5h1M57 40.5h2M61 40.5h1M71 40.5h3M79 40.5h2M87 40.5h2M95 40.5h2M103 40.5h2M111 40.5h2M121 40.5h1M61 37.5h1M71 37.5h3M79 37.5h2M87 37.5h2M95 37.5h2M103 37.5h2M111 37.5h2M121 37.5h1M34 33.5h1M38 33.5h1M42 33.5h1M45 33.5h1M53 33.5h1M57 33.5h2M61 33.5h1M71 33.5h3M79 33.5h2M87 33.5h2M95 33.5h2M103 33.5h2M112 33.5h1M121 33.5h1M34 32.5h1M38 32.5h1M42 32.5h1M45 32.5h1M53 32.5h1M57 32.5h2M61 32.5h1M71 32.5h3M79 32.5h2M87 32.5h2M95 32.5h2M103 32.5h2M112 32.5h1M121 32.5h1M34 31.5h1M38 31.5h1M42 31.5h1M45 31.5h1M53 31.5h1M57 31.5h2M61 31.5h1M71 31.5h3M79 31.5h2M87 31.5h2M95 31.5h2M103 31.5h2M112 31.5h1M121 31.5h1"/><path stroke="#f97b5d" d="M93 30.5h2M97 30.5h1M101 30.5h2M105 30.5h1M109 30.5h2M113 30.5h1M117 30.5h3M93 29.5h2M97 29.5h1M101 29.5h2M105 29.5h1M109 29.5h2M113 29.5h1M117 29.5h3M93 28.5h2M97 28.5h1M101 28.5h2M105 28.5h1M109 28.5h2M113 28.5h1M117 28.5h3M123 28.5h2M123 27.5h2M123 26.5h2M123 25.5h2M123 24.5h2"/><path stroke="#fea36f" d="M9 150.5h1M11 150.5h3M9 149.5h1M11 149.5h3M9 148.5h1M11 148.5h3M5 147.5h4M10 147.5h1M12 147.5h3M5 146.5h1M7 146.5h2M10 146.5h2M6 145.5h1M9 145.5h2M14 145.5h1M17 145.5h1M21 145.5h2M3 144.5h3M7 144.5h1M11 144.5h3M15 144.5h1M23 144.5h3M29 144.5h3M34 144.5h1M38 144.5h1M40 144.5h3M45 144.5h1M49 144.5h2M57 144.5h2M61 144.5h1M3 143.5h2M6 143.5h1M10 143.5h1M14 143.5h1M17 143.5h1M21 143.5h2M3 142.5h2M6 142.5h1M9 142.5h6M0 141.5h1M5 141.5h1M8 141.5h1M11 141.5h1M3 140.5h3M7 140.5h1M11 140.5h3M15 140.5h1M23 140.5h3M29 140.5h3M34 140.5h1M38 140.5h1M40 140.5h3M45 140.5h1M49 140.5h2M57 140.5h2M61 140.5h1M6 139.5h5M14 139.5h1M17 139.5h1M21 139.5h2M0 138.5h3M6 138.5h1M10 138.5h1M14 138.5h1M0 137.5h3M6 137.5h1M10 137.5h1M14 137.5h1M3 136.5h2M7 136.5h1M11 136.5h3M15 136.5h1M23 136.5h3M29 136.5h3M34 136.5h1M38 136.5h1M40 136.5h3M45 136.5h1M61 136.5h1M65 136.5h2M3 135.5h3M7 135.5h2M11 135.5h3M15 135.5h1M26 135.5h1M29 135.5h3M34 135.5h1M38 135.5h2M42 135.5h1M6 134.5h1M10 134.5h1M14 134.5h1M17 134.5h1M23 134.5h4M29 134.5h3M34 134.5h1M38 134.5h2M42 134.5h1M3 133.5h1M5 133.5h1M8 133.5h1M26 133.5h1M32 133.5h3M40 133.5h3M45 133.5h1M49 133.5h2M57 133.5h2M61 133.5h1M65 133.5h3M21 132.5h5M29 132.5h3M21 131.5h5M29 131.5h3M21 130.5h5M29 130.5h3M3 129.5h1M5 129.5h1M8 129.5h1M15 129.5h2M26 129.5h1M29 129.5h1M32 129.5h3M38 129.5h5M45 129.5h1M49 129.5h2M57 129.5h2M61 129.5h1M3 128.5h1M5 128.5h1M8 128.5h1M15 128.5h2M26 128.5h1M29 128.5h1M32 128.5h3M38 128.5h5M45 128.5h1M49 128.5h2M57 128.5h2M61 128.5h1M21 127.5h2M26 127.5h2M29 127.5h1M36 127.5h1M21 126.5h2M26 126.5h2M29 126.5h1M36 126.5h1M8 125.5h1M26 125.5h2M33 125.5h4M38 125.5h2M42 125.5h1M45 125.5h1M49 125.5h2M53 125.5h1M57 125.5h2M61 125.5h1M65 125.5h2M32 124.5h2M35 124.5h1M32 123.5h2M35 123.5h1M5 121.5h1M8 121.5h1M26 121.5h2M32 121.5h3M38 121.5h2M42 121.5h1M45 121.5h1M49 121.5h2M53 121.5h1M57 121.5h2M61 121.5h1M65 121.5h3M5 120.5h1M8 120.5h1M26 120.5h2M32 120.5h5M42 120.5h1M45 120.5h1M49 120.5h2M53 120.5h1M57 120.5h2M61 120.5h1M65 120.5h3M5 119.5h1M8 119.5h1M26 119.5h2M32 119.5h5M42 119.5h1M45 119.5h1M49 119.5h2M53 119.5h1M57 119.5h2M61 119.5h1M65 119.5h3M21 118.5h2M27 118.5h3M33 118.5h4M38 118.5h1M65 118.5h3M21 117.5h2M27 117.5h3M33 117.5h4M38 117.5h1M65 117.5h3M21 116.5h2M25 116.5h1M29 116.5h3M37 116.5h1M39 116.5h3M51 116.5h2M59 116.5h1M67 116.5h2M74 116.5h4M81 116.5h1M85 116.5h2M23 115.5h4M28 115.5h2M32 115.5h7M42 115.5h1M45 115.5h1M61 115.5h1M65 115.5h3M23 114.5h4M28 114.5h2M32 114.5h7M42 114.5h1M45 114.5h1M61 114.5h1M65 114.5h3M23 113.5h4M28 113.5h2M32 113.5h7M42 113.5h1M45 113.5h1M61 113.5h1M65 113.5h3M15 112.5h3M21 112.5h2M29 112.5h1M37 112.5h1M39 112.5h3M51 112.5h2M67 112.5h2M74 112.5h4M81 112.5h1M85 112.5h2M21 111.5h2M34 111.5h1M38 111.5h1M42 111.5h3M49 111.5h2M75 111.5h3M21 110.5h2M34 110.5h1M38 110.5h1M42 110.5h3M49 110.5h2M75 110.5h3M21 109.5h2M34 109.5h1M38 109.5h1M42 109.5h3M49 109.5h2M75 109.5h3M17 108.5h1M21 108.5h2M30 108.5h2M39 108.5h3M45 108.5h1M65 108.5h3M74 108.5h4M81 108.5h1M8 105.5h1M16 105.5h1M23 105.5h3M37 105.5h1M39 105.5h3M51 105.5h2M69 105.5h1M74 105.5h4M81 105.5h1M85 105.5h2M23 101.5h3M29 101.5h3M39 101.5h3M51 101.5h2M68 101.5h2M74 101.5h4M81 101.5h1M85 101.5h2M23 100.5h3M29 100.5h3M39 100.5h3M51 100.5h2M68 100.5h2M74 100.5h4M81 100.5h1M85 100.5h2M34 99.5h1M38 99.5h5M45 99.5h1M51 99.5h3M61 99.5h1M65 99.5h4M75 99.5h2M34 98.5h1M38 98.5h5M45 98.5h1M51 98.5h3M61 98.5h1M65 98.5h4M75 98.5h2M6 97.5h1M10 97.5h1M14 97.5h1M17 97.5h1M21 97.5h5M29 97.5h1M39 97.5h3M51 97.5h2M69 97.5h1M74 97.5h4M81 97.5h1M49 96.5h2M53 96.5h1M57 96.5h2M49 95.5h2M53 95.5h1M57 95.5h2M49 94.5h2M53 94.5h1M57 94.5h2M17 93.5h1M23 93.5h2M29 93.5h3M39 93.5h3M51 93.5h2M59 93.5h1M69 93.5h1M74 93.5h5M81 93.5h1M85 93.5h2M17 92.5h1M23 92.5h2M29 92.5h3M39 92.5h3M51 92.5h2M59 92.5h1M69 92.5h1M74 92.5h5M81 92.5h1M85 92.5h2M34 91.5h1M38 91.5h1M42 91.5h1M45 91.5h1M49 91.5h2M53 91.5h1M57 91.5h2M60 91.5h2M68 91.5h1M24 90.5h1M34 90.5h1M38 90.5h1M42 90.5h1M45 90.5h1M49 90.5h2M53 90.5h1M57 90.5h5M65 90.5h3M17 89.5h1M21 89.5h5M29 89.5h3M51 89.5h2M60 89.5h1M68 89.5h2M59 88.5h2M62 88.5h1M64 88.5h3M59 87.5h2M62 87.5h1M64 87.5h3M59 86.5h2M62 86.5h1M64 86.5h3M6 85.5h1M10 85.5h1M17 85.5h1M21 85.5h5M29 85.5h3M39 85.5h3M51 85.5h2M59 85.5h2M69 85.5h1M75 85.5h1M6 84.5h1M10 84.5h1M17 84.5h1M21 84.5h5M29 84.5h3M39 84.5h3M51 84.5h2M59 84.5h2M69 84.5h1M75 84.5h1M6 83.5h1M10 83.5h1M17 83.5h1M21 83.5h5M29 83.5h3M39 83.5h3M51 83.5h2M59 83.5h2M69 83.5h1M75 83.5h1M34 82.5h1M38 82.5h1M42 82.5h1M45 82.5h1M49 82.5h4M60 82.5h1M34 81.5h1M38 81.5h1M42 81.5h1M45 81.5h1M49 81.5h4M60 81.5h1M61 80.5h1M71 80.5h3M75 80.5h3M87 80.5h2M120 80.5h1M70 79.5h2M73 79.5h2M78 79.5h1M81 79.5h1M85 79.5h2M89 79.5h1M93 79.5h2M97 79.5h1M101 79.5h2M105 79.5h1M109 79.5h2M113 79.5h1M117 79.5h3M70 78.5h2M73 78.5h2M78 78.5h1M81 78.5h1M85 78.5h2M89 78.5h1M93 78.5h2M97 78.5h1M101 78.5h2M105 78.5h1M109 78.5h2M113 78.5h1M117 78.5h3M70 77.5h2M73 77.5h2M78 77.5h1M81 77.5h1M85 77.5h2M89 77.5h1M93 77.5h2M97 77.5h1M101 77.5h2M105 77.5h1M109 77.5h2M113 77.5h1M117 77.5h3M34 76.5h1M49 76.5h2M61 76.5h1M72 76.5h2M75 76.5h3M87 76.5h2M120 76.5h1M34 75.5h1M38 75.5h8M49 75.5h2M53 75.5h1M34 74.5h1M38 74.5h8M49 74.5h2M53 74.5h1M34 73.5h1M38 73.5h8M49 73.5h2M53 73.5h1M34 72.5h1M42 72.5h1M45 72.5h1M49 72.5h2M61 72.5h1M71 72.5h3M75 72.5h3M87 72.5h2M120 72.5h1M70 71.5h1M73 71.5h6M81 71.5h1M85 71.5h5M93 71.5h2M101 71.5h2M109 71.5h2M117 71.5h3M70 70.5h1M73 70.5h6M81 70.5h1M85 70.5h5M93 70.5h2M101 70.5h2M109 70.5h2M117 70.5h3M61 69.5h1M71 69.5h3M75 69.5h1M87 69.5h2M120 69.5h1M70 68.5h3M74 68.5h1M78 68.5h1M61 65.5h1M71 65.5h3M87 65.5h3M120 65.5h1M61 64.5h1M71 64.5h3M87 64.5h3M120 64.5h1M79 63.5h3M83 63.5h1M94 63.5h1M102 63.5h1M79 62.5h3M83 62.5h1M94 62.5h1M102 62.5h1M61 61.5h1M65 61.5h5M71 61.5h3M79 61.5h2M87 61.5h2M61 57.5h1M71 57.5h3M79 57.5h2M111 57.5h1M120 57.5h2M61 56.5h1M71 56.5h3M79 56.5h2M111 56.5h1M120 56.5h2M70 53.5h1M74 53.5h1M78 53.5h1M81 53.5h1M85 53.5h2M89 53.5h1M93 53.5h2M97 53.5h1M101 53.5h2M105 53.5h1M109 53.5h2M113 53.5h1M117 53.5h4M71 49.5h3M79 49.5h2M93 49.5h2M97 49.5h1M101 49.5h2M105 49.5h1M109 49.5h2M113 49.5h1M117 49.5h4M71 48.5h3M79 48.5h2M93 48.5h2M97 48.5h1M101 48.5h2M105 48.5h1M109 48.5h2M113 48.5h1M117 48.5h4M70 45.5h1M74 45.5h1M78 45.5h1M81 45.5h1M85 45.5h2M89 45.5h1M93 45.5h2M97 45.5h1M101 45.5h2M105 45.5h1M109 45.5h2M113 45.5h1M117 45.5h4M70 41.5h1M74 41.5h1M78 41.5h1M81 41.5h1M85 41.5h2M89 41.5h1M93 41.5h2M97 41.5h1M101 41.5h2M105 41.5h1M109 41.5h2M113 41.5h1M117 41.5h4M70 40.5h1M74 40.5h1M78 40.5h1M81 40.5h1M85 40.5h2M89 40.5h1M93 40.5h2M97 40.5h1M101 40.5h2M105 40.5h1M109 40.5h2M113 40.5h1M117 40.5h4M70 37.5h1M74 37.5h1M78 37.5h1M81 37.5h1M85 37.5h2M89 37.5h1M93 37.5h2M97 37.5h1M101 37.5h2M105 37.5h1M109 37.5h2M113 37.5h1M117 37.5h4M70 33.5h1M74 33.5h1M78 33.5h1M81 33.5h1M85 33.5h2M89 33.5h1M93 33.5h2M97 33.5h1M101 33.5h2M105 33.5h1M109 33.5h3M113 33.5h1M117 33.5h4M70 32.5h1M74 32.5h1M78 32.5h1M81 32.5h1M85 32.5h2M89 32.5h1M93 32.5h2M97 32.5h1M101 32.5h2M105 32.5h1M109 32.5h3M113 32.5h1M117 32.5h4M70 31.5h1M74 31.5h1M78 31.5h1M81 31.5h1M85 31.5h2M89 31.5h1M93 31.5h2M97 31.5h1M101 31.5h2M105 31.5h1M109 31.5h3M113 31.5h1M117 31.5h4"/><path stroke="#fecc8f" d="M4 147.5h1M11 147.5h1M3 146.5h1M3 145.5h2M7 145.5h2M11 145.5h3M8 144.5h1M17 144.5h1M21 144.5h2M39 144.5h1M5 143.5h1M8 143.5h2M11 143.5h3M5 142.5h1M7 142.5h2M7 141.5h1M12 141.5h2M8 140.5h1M17 140.5h1M21 140.5h2M39 140.5h1M4 139.5h2M12 139.5h2M3 138.5h3M7 138.5h3M3 137.5h3M7 137.5h3M5 136.5h1M8 136.5h1M17 136.5h1M21 136.5h2M39 136.5h1M6 135.5h1M10 135.5h1M14 135.5h1M17 135.5h1M21 135.5h5M21 134.5h2M6 133.5h1M10 133.5h1M14 133.5h1M17 133.5h1M21 133.5h5M29 133.5h3M38 133.5h2M6 129.5h1M10 129.5h1M14 129.5h1M17 129.5h1M21 129.5h5M30 129.5h2M6 128.5h1M10 128.5h1M14 128.5h1M17 128.5h1M21 128.5h5M30 128.5h2M23 127.5h3M30 127.5h3M35 127.5h1M23 126.5h3M30 126.5h3M35 126.5h1M6 125.5h1M10 125.5h1M14 125.5h1M17 125.5h1M21 125.5h5M29 125.5h4M6 121.5h1M10 121.5h1M14 121.5h1M17 121.5h1M21 121.5h5M29 121.5h3M6 120.5h1M10 120.5h1M14 120.5h1M17 120.5h1M21 120.5h5M29 120.5h3M38 120.5h1M6 119.5h1M10 119.5h1M14 119.5h1M17 119.5h1M21 119.5h5M29 119.5h3M38 119.5h1M23 118.5h4M30 118.5h3M23 117.5h4M30 117.5h3M6 116.5h1M10 116.5h1M14 116.5h1M17 116.5h1M23 116.5h2M34 116.5h1M38 116.5h1M42 116.5h1M45 116.5h1M49 116.5h2M53 116.5h1M57 116.5h2M61 116.5h1M65 116.5h2M6 112.5h1M10 112.5h1M14 112.5h1M34 112.5h1M38 112.5h1M42 112.5h1M45 112.5h1M49 112.5h2M53 112.5h1M57 112.5h2M61 112.5h1M65 112.5h2M6 111.5h1M10 111.5h1M14 111.5h4M39 111.5h3M6 110.5h1M10 110.5h1M14 110.5h4M39 110.5h3M6 109.5h1M10 109.5h1M14 109.5h4M39 109.5h3M6 108.5h1M10 108.5h1M14 108.5h3M34 108.5h1M38 108.5h1M42 108.5h1M49 108.5h2M53 108.5h1M57 108.5h2M61 108.5h1M6 105.5h1M10 105.5h1M14 105.5h1M17 105.5h1M21 105.5h2M29 105.5h1M34 105.5h1M38 105.5h1M42 105.5h1M45 105.5h1M49 105.5h2M53 105.5h1M57 105.5h2M61 105.5h1M65 105.5h4M6 101.5h1M10 101.5h1M14 101.5h1M17 101.5h1M21 101.5h2M34 101.5h1M38 101.5h1M42 101.5h1M45 101.5h1M49 101.5h2M53 101.5h1M57 101.5h2M61 101.5h1M65 101.5h3M6 100.5h1M10 100.5h1M14 100.5h1M17 100.5h1M21 100.5h2M34 100.5h1M38 100.5h1M42 100.5h1M45 100.5h1M49 100.5h2M53 100.5h1M57 100.5h2M61 100.5h1M65 100.5h3M49 99.5h2M57 99.5h2M49 98.5h2M57 98.5h2M34 97.5h1M38 97.5h1M42 97.5h1M45 97.5h1M49 97.5h2M53 97.5h1M57 97.5h2M61 97.5h1M65 97.5h4M21 93.5h2M25 93.5h1M34 93.5h1M38 93.5h1M42 93.5h1M45 93.5h1M49 93.5h2M53 93.5h1M57 93.5h2M61 93.5h1M65 93.5h4M21 92.5h2M25 92.5h1M34 92.5h1M38 92.5h1M42 92.5h1M45 92.5h1M49 92.5h2M53 92.5h1M57 92.5h2M61 92.5h1M65 92.5h4M59 91.5h1M65 91.5h3M34 89.5h1M38 89.5h1M42 89.5h1M45 89.5h1M49 89.5h2M53 89.5h1M57 89.5h3M61 89.5h1M65 89.5h3M63 88.5h1M63 87.5h1M63 86.5h1M34 85.5h1M38 85.5h1M42 85.5h1M45 85.5h1M49 85.5h2M53 85.5h1M57 85.5h2M61 85.5h1M65 85.5h4M34 84.5h1M38 84.5h1M42 84.5h1M45 84.5h1M49 84.5h2M53 84.5h1M57 84.5h2M61 84.5h1M65 84.5h4M34 83.5h1M38 83.5h1M42 83.5h1M45 83.5h1M49 83.5h2M53 83.5h1M57 83.5h2M61 83.5h1M65 83.5h4M53 82.5h1M57 82.5h2M61 82.5h1M65 82.5h5M53 81.5h1M57 81.5h2M61 81.5h1M65 81.5h5M70 80.5h1M74 80.5h1M78 80.5h1M81 80.5h1M85 80.5h2M89 80.5h1M93 80.5h2M97 80.5h1M101 80.5h2M105 80.5h1M109 80.5h2M113 80.5h1M117 80.5h3M72 79.5h1M72 78.5h1M72 77.5h1M70 76.5h2M74 76.5h1M78 76.5h1M81 76.5h1M85 76.5h2M89 76.5h1M93 76.5h2M97 76.5h1M101 76.5h2M105 76.5h1M109 76.5h2M113 76.5h1M117 76.5h3M75 75.5h3M75 74.5h3M75 73.5h3M70 72.5h1M74 72.5h1M78 72.5h1M81 72.5h1M85 72.5h2M89 72.5h1M93 72.5h2M97 72.5h1M101 72.5h2M105 72.5h1M109 72.5h2M113 72.5h1M117 72.5h3M70 69.5h1M74 69.5h1M78 69.5h1M81 69.5h1M85 69.5h2M89 69.5h1M93 69.5h2M97 69.5h1M101 69.5h2M105 69.5h1M109 69.5h2M113 69.5h1M117 69.5h3M70 65.5h1M74 65.5h1M78 65.5h1M81 65.5h1M85 65.5h2M93 65.5h2M97 65.5h1M101 65.5h2M105 65.5h1M109 65.5h2M113 65.5h1M117 65.5h3M70 64.5h1M74 64.5h1M78 64.5h1M81 64.5h1M85 64.5h2M93 64.5h2M97 64.5h1M101 64.5h2M105 64.5h1M109 64.5h2M113 64.5h1M117 64.5h3M70 61.5h1M74 61.5h1M78 61.5h1M81 61.5h1M85 61.5h2M89 61.5h1M93 61.5h2M97 61.5h1M101 61.5h2M105 61.5h1M109 61.5h2M113 61.5h1M117 61.5h3M70 57.5h1M74 57.5h1M78 57.5h1M81 57.5h1M85 57.5h2M89 57.5h1M93 57.5h2M97 57.5h1M101 57.5h2M105 57.5h1M109 57.5h2M113 57.5h1M117 57.5h3M70 56.5h1M74 56.5h1M78 56.5h1M81 56.5h1M85 56.5h2M89 56.5h1M93 56.5h2M97 56.5h1M101 56.5h2M105 56.5h1M109 56.5h2M113 56.5h1M117 56.5h3M70 49.5h1M74 49.5h1M78 49.5h1M81 49.5h1M85 49.5h2M89 49.5h1M70 48.5h1M74 48.5h1M78 48.5h1M81 48.5h1M85 48.5h2M89 48.5h1"/><path stroke="#fcfdbf" d="M0 150.5h3M0 149.5h3M0 148.5h3M3 147.5h1M4 146.5h1M5 145.5h1M6 144.5h1M10 144.5h1M14 144.5h1M7 143.5h1M9 141.5h1M6 140.5h1M10 140.5h1M14 140.5h1M3 139.5h1M11 139.5h1M11 138.5h3M11 137.5h3M6 136.5h1M10 136.5h1M14 136.5h1"/></g></svg></div><div class="k" style="left:235.40px;top:83.50px;width:749.70px;height:2.20px"></div><div class="k" style="left:235.40px;top:829.70px;width:749.70px;height:2.20px"></div><div class="k" style="left:235.40px;top:83.50px;width:2.20px;height:748.40px"></div><div class="k" style="left:982.90px;top:83.50px;width:2.20px;height:748.40px"></div><div class="k" style="left:237.88px;top:830.80px;width:2.20px;height:9.70px"></div><div class="k" style="left:226.80px;top:827.83px;width:9.70px;height:2.20px"></div><div class="k" style="left:336.88px;top:830.80px;width:2.20px;height:9.70px"></div><div class="k" style="left:226.80px;top:728.93px;width:9.70px;height:2.20px"></div><div class="k" style="left:435.89px;top:830.80px;width:2.20px;height:9.70px"></div><div class="k" style="left:226.80px;top:630.03px;width:9.70px;height:2.20px"></div><div class="k" style="left:534.90px;top:830.80px;width:2.20px;height:9.70px"></div><div class="k" style="left:226.80px;top:531.13px;width:9.70px;height:2.20px"></div><div class="k" style="left:633.90px;top:830.80px;width:2.20px;height:9.70px"></div><div class="k" style="left:226.80px;top:432.22px;width:9.70px;height:2.20px"></div><div class="k" style="left:732.91px;top:830.80px;width:2.20px;height:9.70px"></div><div class="k" style="left:226.80px;top:333.32px;width:9.70px;height:2.20px"></div><div class="k" style="left:831.91px;top:830.80px;width:2.20px;height:9.70px"></div><div class="k" style="left:226.80px;top:234.42px;width:9.70px;height:2.20px"></div><div class="k" style="left:930.92px;top:830.80px;width:2.20px;height:9.70px"></div><div class="k" style="left:226.80px;top:135.52px;width:9.70px;height:2.20px"></div><div class="t" style="left:263.45px;top:24.48px;font-size:52.60px;transform:scaleX(1.0338);transform-origin:0 0">ResNet50 vs WideResNet50</div><div class="t" style="left:381.96px;top:884.56px;font-size:45.90px;transform:scaleX(0.9915);transform-origin:0 0">Layers WideResNet50</div><div class="t" style="left:104.64px;top:634.43px;font-size:46.00px;transform:rotate(-90deg) scaleX(0.9870);transform-origin:0 0">Layers ResNet50</div><div class="t" style="left:230.25px;top:847.95px;font-size:29.00px;transform:scaleX(1.0750);transform-origin:0 0">0</div><div class="t" style="left:199.79px;top:814.88px;font-size:29.00px;transform:scaleX(1.0750);transform-origin:0 0">0</div><div class="t" style="left:320.52px;top:847.95px;font-size:29.00px;transform:scaleX(1.0750);transform-origin:0 0">20</div><div class="t" style="left:182.64px;top:715.98px;font-size:29.00px;transform:scaleX(1.0750);transform-origin:0 0">20</div><div class="t" style="left:420.00px;top:847.95px;font-size:29.00px;transform:scaleX(1.0750);transform-origin:0 0">40</div><div class="t" style="left:182.64px;top:617.08px;font-size:29.00px;transform:scaleX(1.0750);transform-origin:0 0">40</div><div class="t" style="left:518.54px;top:847.95px;font-size:29.00px;transform:scaleX(1.0750);transform-origin:0 0">60</div><div class="t" style="left:182.64px;top:518.18px;font-size:29.00px;transform:scaleX(1.0750);transform-origin:0 0">60</div><div class="t" style="left:617.70px;top:847.95px;font-size:29.00px;transform:scaleX(1.0750);transform-origin:0 0">80</div><div class="t" style="left:182.64px;top:419.28px;font-size:29.00px;transform:scaleX(1.0750);transform-origin:0 0">80</div><div class="t" style="left:707.35px;top:847.95px;font-size:29.00px;transform:scaleX(1.0750);transform-origin:0 0">100</div><div class="t" style="left:165.18px;top:320.38px;font-size:29.00px;transform:scaleX(1.0750);transform-origin:0 0">100</div><div class="t" style="left:806.36px;top:847.95px;font-size:29.00px;transform:scaleX(1.0750);transform-origin:0 0">120</div><div class="t" style="left:165.18px;top:221.48px;font-size:29.00px;transform:scaleX(1.0750);transform-origin:0 0">120</div><div class="t" style="left:905.37px;top:847.95px;font-size:29.00px;transform:scaleX(1.0750);transform-origin:0 0">140</div><div class="t" style="left:165.18px;top:122.58px;font-size:29.00px;transform:scaleX(1.0750);transform-origin:0 0">140</div><div class="t" style="left:1116.68px;top:701.42px;font-size:29.00px;transform:scaleX(1.0500);transform-origin:0 0">0.2</div><div class="t" style="left:1116.68px;top:542.86px;font-size:29.00px;transform:scaleX(1.0500);transform-origin:0 0">0.4</div><div class="t" style="left:1116.68px;top:384.31px;font-size:29.00px;transform:scaleX(1.0500);transform-origin:0 0">0.6</div><div class="t" style="left:1116.68px;top:225.76px;font-size:29.00px;transform:scaleX(1.0500);transform-origin:0 0">0.8</div><div style="position:absolute;left:1020.60px;top:84.60px;width:75.40px;height:746.20px;background:linear-gradient(to top, #000004 0.00%, #030312 3.12%, #0a0822 6.25%, #130d34 9.38%, #1d1147 12.50%, #29115a 15.62%, #36106b 18.75%, #440f76 21.88%, #51127c 25.00%, #5d177f 28.12%, #6a1c81 31.25%, #762181 34.38%, #832681 37.50%, #902a81 40.62%, #9c2e7f 43.75%, #aa337d 46.88%, #b73779 50.00%, #c43c75 53.12%, #d0416f 56.25%, #dc4869 59.38%, #e75263 62.50%, #ef5d5e 65.62%, #f56b5c 68.75%, #f9795d 71.88%, #fc8961 75.00%, #fd9869 78.12%, #fea772 81.25%, #feb67c 84.38%, #fec488 87.50%, #fed395 90.62%, #fde2a3 93.75%, #fcf0b2 96.88%, #fcfdbf 100.00%)"></div><div style="position:absolute;left:1019.50px;top:83.50px;width:77.60px;height:748.40px;border:2.2px solid #000;box-sizing:border-box"></div><div class="k" style="left:1096.00px;top:714.16px;width:9.70px;height:2.20px"></div><div class="k" style="left:1096.00px;top:555.61px;width:9.70px;height:2.20px"></div><div class="k" style="left:1096.00px;top:397.06px;width:9.70px;height:2.20px"></div><div class="k" style="left:1096.00px;top:238.51px;width:9.70px;height:2.20px"></div></body></html>
